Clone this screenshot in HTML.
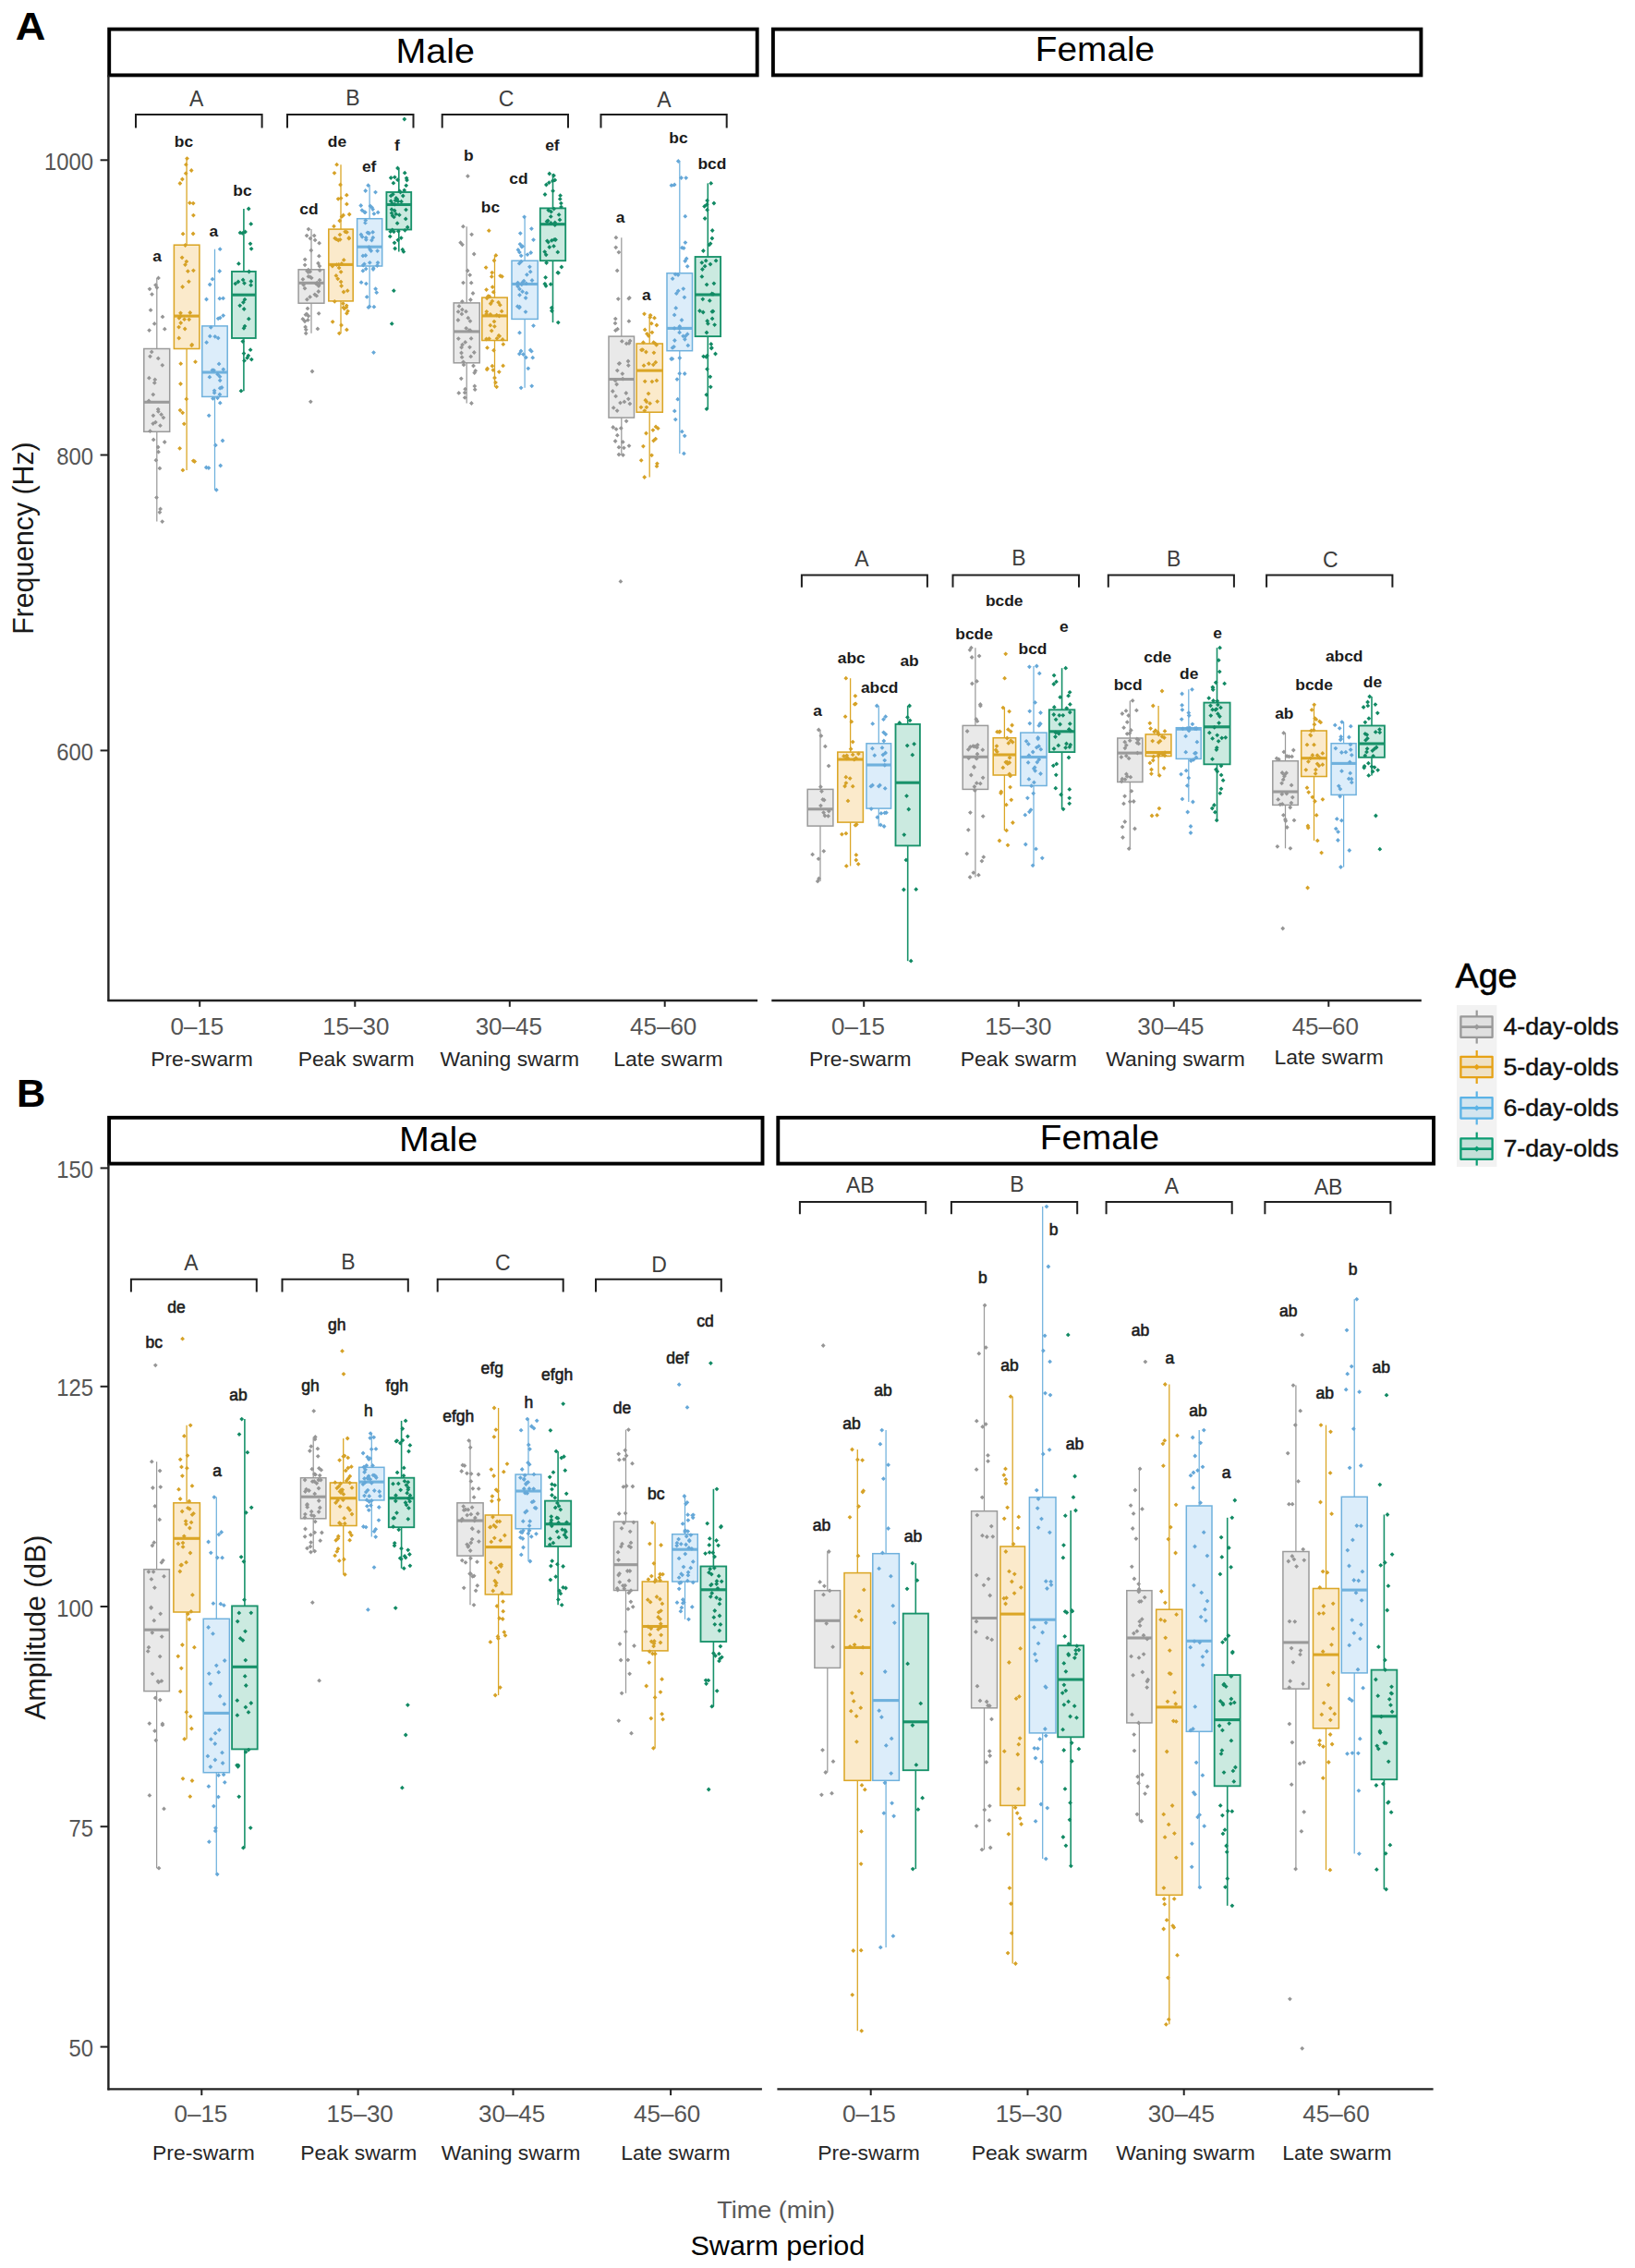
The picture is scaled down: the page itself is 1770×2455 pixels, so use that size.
<!DOCTYPE html>
<html lang="en">
<head>
<meta charset="utf-8">
<title>Flight tone frequency and amplitude by swarm period</title>
<style>
html,body{margin:0;padding:0;background:#fff;}
body{width:1770px;height:2455px;overflow:hidden;}
svg{display:block;font-family:'Liberation Sans', sans-serif;}
</style>
</head>
<body>
<svg width="1770" height="2455" viewBox="0 0 1770 2455">
<rect width="1770" height="2455" fill="#ffffff"/>
<rect x="118.2" y="31.6" width="701.5" height="49.8" fill="#fff" stroke="#000" stroke-width="3.9"/>
<text x="471.2" y="67.7" font-size="37.8" text-anchor="middle" fill="#000" textLength="85.4" lengthAdjust="spacingAndGlyphs">Male</text>
<line x1="116.6" y1="1083" x2="820.1" y2="1083" stroke="#222222" stroke-width="2.3"/>
<line x1="117.4" y1="81.4" x2="117.4" y2="1084.1" stroke="#222222" stroke-width="2.4"/>
<rect x="836.9" y="31.6" width="701.5" height="49.8" fill="#fff" stroke="#000" stroke-width="3.9"/>
<text x="1185.5" y="65.5" font-size="37.8" text-anchor="middle" fill="#000" textLength="129.3" lengthAdjust="spacingAndGlyphs">Female</text>
<line x1="835.3" y1="1083" x2="1538.8" y2="1083" stroke="#222222" stroke-width="2.3"/>
<rect x="118.1" y="1209.8" width="707.4" height="49.8" fill="#fff" stroke="#000" stroke-width="3.9"/>
<text x="474.6" y="1245.9" font-size="37.8" text-anchor="middle" fill="#000" textLength="85.4" lengthAdjust="spacingAndGlyphs">Male</text>
<line x1="116.5" y1="2261.3" x2="824.9" y2="2261.3" stroke="#222222" stroke-width="2.3"/>
<line x1="117.4" y1="1259.6" x2="117.4" y2="2262.4" stroke="#222222" stroke-width="2.4"/>
<rect x="842.3" y="1209.8" width="709.7" height="49.8" fill="#fff" stroke="#000" stroke-width="3.9"/>
<text x="1190.4" y="1243.7" font-size="37.8" text-anchor="middle" fill="#000" textLength="129.3" lengthAdjust="spacingAndGlyphs">Female</text>
<line x1="841.4" y1="2261.3" x2="1551.6" y2="2261.3" stroke="#222222" stroke-width="2.3"/>
<line x1="108.6" y1="173.3" x2="117" y2="173.3" stroke="#222222" stroke-width="2"/>
<text x="101" y="183.9" font-size="26.5" text-anchor="end" fill="#555555" textLength="53.1" lengthAdjust="spacingAndGlyphs">1000</text>
<line x1="108.6" y1="492.5" x2="117" y2="492.5" stroke="#222222" stroke-width="2"/>
<text x="101" y="503.1" font-size="26.5" text-anchor="end" fill="#555555" textLength="39.8" lengthAdjust="spacingAndGlyphs">800</text>
<line x1="108.6" y1="812.4" x2="117" y2="812.4" stroke="#222222" stroke-width="2"/>
<text x="101" y="823" font-size="26.5" text-anchor="end" fill="#555555" textLength="39.8" lengthAdjust="spacingAndGlyphs">600</text>
<line x1="108.6" y1="1264.4" x2="117" y2="1264.4" stroke="#222222" stroke-width="2"/>
<text x="101" y="1275" font-size="26.5" text-anchor="end" fill="#555555" textLength="39.8" lengthAdjust="spacingAndGlyphs">150</text>
<line x1="108.6" y1="1500.8" x2="117" y2="1500.8" stroke="#222222" stroke-width="2"/>
<text x="101" y="1511.4" font-size="26.5" text-anchor="end" fill="#555555" textLength="39.8" lengthAdjust="spacingAndGlyphs">125</text>
<line x1="108.6" y1="1739" x2="117" y2="1739" stroke="#222222" stroke-width="2"/>
<text x="101" y="1749.6" font-size="26.5" text-anchor="end" fill="#555555" textLength="39.8" lengthAdjust="spacingAndGlyphs">100</text>
<line x1="108.6" y1="1977.2" x2="117" y2="1977.2" stroke="#222222" stroke-width="2"/>
<text x="101" y="1987.8" font-size="26.5" text-anchor="end" fill="#555555" textLength="26.5" lengthAdjust="spacingAndGlyphs">75</text>
<line x1="108.6" y1="2215.6" x2="117" y2="2215.6" stroke="#222222" stroke-width="2"/>
<text x="101" y="2226.2" font-size="26.5" text-anchor="end" fill="#555555" textLength="26.5" lengthAdjust="spacingAndGlyphs">50</text>
<line x1="216.2" y1="1083" x2="216.2" y2="1089.8" stroke="#222222" stroke-width="2"/>
<line x1="384.3" y1="1083" x2="384.3" y2="1089.8" stroke="#222222" stroke-width="2"/>
<line x1="551.8" y1="1083" x2="551.8" y2="1089.8" stroke="#222222" stroke-width="2"/>
<line x1="719.7" y1="1083" x2="719.7" y2="1089.8" stroke="#222222" stroke-width="2"/>
<text x="213.4" y="1120.3" font-size="26" text-anchor="middle" fill="#555555">0–15</text>
<text x="385.3" y="1120.3" font-size="26" text-anchor="middle" fill="#555555">15–30</text>
<text x="550.8" y="1120.3" font-size="26" text-anchor="middle" fill="#555555">30–45</text>
<text x="718.2" y="1120.3" font-size="26" text-anchor="middle" fill="#555555">45–60</text>
<text x="218.5" y="1154" font-size="22.9" text-anchor="middle" fill="#262626">Pre-swarm</text>
<text x="385.6" y="1154" font-size="22.9" text-anchor="middle" fill="#262626">Peak swarm</text>
<text x="551.8" y="1154" font-size="22.9" text-anchor="middle" fill="#262626">Waning swarm</text>
<text x="723.5" y="1154" font-size="22.9" text-anchor="middle" fill="#262626">Late swarm</text>
<line x1="935.2" y1="1083" x2="935.2" y2="1089.8" stroke="#222222" stroke-width="2"/>
<line x1="1102.8" y1="1083" x2="1102.8" y2="1089.8" stroke="#222222" stroke-width="2"/>
<line x1="1270.8" y1="1083" x2="1270.8" y2="1089.8" stroke="#222222" stroke-width="2"/>
<line x1="1438.3" y1="1083" x2="1438.3" y2="1089.8" stroke="#222222" stroke-width="2"/>
<text x="929" y="1120.3" font-size="26" text-anchor="middle" fill="#555555">0–15</text>
<text x="1102.3" y="1120.3" font-size="26" text-anchor="middle" fill="#555555">15–30</text>
<text x="1267.4" y="1120.3" font-size="26" text-anchor="middle" fill="#555555">30–45</text>
<text x="1434.8" y="1120.3" font-size="26" text-anchor="middle" fill="#555555">45–60</text>
<text x="931.3" y="1154" font-size="22.9" text-anchor="middle" fill="#262626">Pre-swarm</text>
<text x="1102.8" y="1154" font-size="22.9" text-anchor="middle" fill="#262626">Peak swarm</text>
<text x="1272.5" y="1154" font-size="22.9" text-anchor="middle" fill="#262626">Waning swarm</text>
<text x="1438.7" y="1151.7" font-size="22.9" text-anchor="middle" fill="#262626">Late swarm</text>
<line x1="218.3" y1="2261.3" x2="218.3" y2="2268.1" stroke="#222222" stroke-width="2"/>
<line x1="387.6" y1="2261.3" x2="387.6" y2="2268.1" stroke="#222222" stroke-width="2"/>
<line x1="555.5" y1="2261.3" x2="555.5" y2="2268.1" stroke="#222222" stroke-width="2"/>
<line x1="726.1" y1="2261.3" x2="726.1" y2="2268.1" stroke="#222222" stroke-width="2"/>
<text x="217.4" y="2296.5" font-size="26" text-anchor="middle" fill="#555555">0–15</text>
<text x="389.7" y="2296.5" font-size="26" text-anchor="middle" fill="#555555">15–30</text>
<text x="554.1" y="2296.5" font-size="26" text-anchor="middle" fill="#555555">30–45</text>
<text x="722.2" y="2296.5" font-size="26" text-anchor="middle" fill="#555555">45–60</text>
<text x="220.4" y="2338.3" font-size="22.9" text-anchor="middle" fill="#262626">Pre-swarm</text>
<text x="388.3" y="2338.3" font-size="22.9" text-anchor="middle" fill="#262626">Peak swarm</text>
<text x="553" y="2338.3" font-size="22.9" text-anchor="middle" fill="#262626">Waning swarm</text>
<text x="731.4" y="2338.3" font-size="22.9" text-anchor="middle" fill="#262626">Late swarm</text>
<line x1="942.7" y1="2261.3" x2="942.7" y2="2268.1" stroke="#222222" stroke-width="2"/>
<line x1="1112.5" y1="2261.3" x2="1112.5" y2="2268.1" stroke="#222222" stroke-width="2"/>
<line x1="1281.7" y1="2261.3" x2="1281.7" y2="2268.1" stroke="#222222" stroke-width="2"/>
<line x1="1449.3" y1="2261.3" x2="1449.3" y2="2268.1" stroke="#222222" stroke-width="2"/>
<text x="940.9" y="2296.5" font-size="26" text-anchor="middle" fill="#555555">0–15</text>
<text x="1113.8" y="2296.5" font-size="26" text-anchor="middle" fill="#555555">15–30</text>
<text x="1278.8" y="2296.5" font-size="26" text-anchor="middle" fill="#555555">30–45</text>
<text x="1446.5" y="2296.5" font-size="26" text-anchor="middle" fill="#555555">45–60</text>
<text x="940.6" y="2338.3" font-size="22.9" text-anchor="middle" fill="#262626">Pre-swarm</text>
<text x="1114.6" y="2338.3" font-size="22.9" text-anchor="middle" fill="#262626">Peak swarm</text>
<text x="1283.5" y="2338.3" font-size="22.9" text-anchor="middle" fill="#262626">Waning swarm</text>
<text x="1447.5" y="2338.3" font-size="22.9" text-anchor="middle" fill="#262626">Late swarm</text>
<text x="35.8" y="582.6" font-size="31.9" text-anchor="middle" fill="#1a1a1a" textLength="208.5" lengthAdjust="spacingAndGlyphs" transform="rotate(-90 35.8 582.6)">Frequency (Hz)</text>
<text x="49.4" y="1761.6" font-size="31.9" text-anchor="middle" fill="#1a1a1a" textLength="200" lengthAdjust="spacingAndGlyphs" transform="rotate(-90 49.4 1761.6)">Amplitude (dB)</text>
<text x="840.2" y="2401.2" font-size="26" text-anchor="middle" fill="#595959" textLength="127.8" lengthAdjust="spacingAndGlyphs">Time (min)</text>
<text x="841.9" y="2441.4" font-size="30.2" text-anchor="middle" fill="#000" textLength="189" lengthAdjust="spacingAndGlyphs">Swarm period</text>
<text x="16.7" y="43.4" font-size="43" text-anchor="start" fill="#000" font-weight="bold" textLength="32.6" lengthAdjust="spacingAndGlyphs">A</text>
<text x="17.9" y="1197.8" font-size="43.4" text-anchor="start" fill="#000" font-weight="bold">B</text>
<path d="M147 138.4V124H283.6V138.4" fill="none" stroke="#1f1f1f" stroke-width="2"/>
<text x="212.7" y="115.4" font-size="23" text-anchor="middle" fill="#3d3d3d">A</text>
<path d="M311 138.4V124H447.5V138.4" fill="none" stroke="#1f1f1f" stroke-width="2"/>
<text x="382" y="114.4" font-size="23" text-anchor="middle" fill="#3d3d3d">B</text>
<path d="M478.7 138.4V124H615V138.4" fill="none" stroke="#1f1f1f" stroke-width="2"/>
<text x="548" y="115.4" font-size="23" text-anchor="middle" fill="#3d3d3d">C</text>
<path d="M650.5 138.4V124H786.7V138.4" fill="none" stroke="#1f1f1f" stroke-width="2"/>
<text x="719" y="116.1" font-size="23" text-anchor="middle" fill="#3d3d3d">A</text>
<path d="M867.9 635.8V622.6H1003.9V635.8" fill="none" stroke="#1f1f1f" stroke-width="2"/>
<text x="933" y="613.1" font-size="23" text-anchor="middle" fill="#3d3d3d">A</text>
<path d="M1031.5 635.8V622.6H1168V635.8" fill="none" stroke="#1f1f1f" stroke-width="2"/>
<text x="1103" y="611.6" font-size="23" text-anchor="middle" fill="#3d3d3d">B</text>
<path d="M1199.8 635.8V622.6H1335.9V635.8" fill="none" stroke="#1f1f1f" stroke-width="2"/>
<text x="1270.7" y="612.6" font-size="23" text-anchor="middle" fill="#3d3d3d">B</text>
<path d="M1371.1 635.8V622.6H1507.4V635.8" fill="none" stroke="#1f1f1f" stroke-width="2"/>
<text x="1440.3" y="614.4" font-size="23" text-anchor="middle" fill="#3d3d3d">C</text>
<path d="M141.9 1398.5V1384.7H277.8V1398.5" fill="none" stroke="#1f1f1f" stroke-width="2"/>
<text x="206.9" y="1375.1" font-size="23" text-anchor="middle" fill="#3d3d3d">A</text>
<path d="M305.5 1398.5V1384.7H441.8V1398.5" fill="none" stroke="#1f1f1f" stroke-width="2"/>
<text x="376.9" y="1374.1" font-size="23" text-anchor="middle" fill="#3d3d3d">B</text>
<path d="M473.7 1398.5V1384.7H609.7V1398.5" fill="none" stroke="#1f1f1f" stroke-width="2"/>
<text x="544.3" y="1375.1" font-size="23" text-anchor="middle" fill="#3d3d3d">C</text>
<path d="M645 1398.5V1384.7H780.8V1398.5" fill="none" stroke="#1f1f1f" stroke-width="2"/>
<text x="713.6" y="1376.6" font-size="23" text-anchor="middle" fill="#3d3d3d">D</text>
<path d="M865.9 1314.3V1301.1H1002.2V1314.3" fill="none" stroke="#1f1f1f" stroke-width="2"/>
<text x="931.3" y="1291.3" font-size="23" text-anchor="middle" fill="#3d3d3d">AB</text>
<path d="M1029.9 1314.3V1301.1H1166.2V1314.3" fill="none" stroke="#1f1f1f" stroke-width="2"/>
<text x="1100.8" y="1290.1" font-size="23" text-anchor="middle" fill="#3d3d3d">B</text>
<path d="M1197.6 1314.3V1301.1H1333.7V1314.3" fill="none" stroke="#1f1f1f" stroke-width="2"/>
<text x="1268.5" y="1291.8" font-size="23" text-anchor="middle" fill="#3d3d3d">A</text>
<path d="M1369.4 1314.3V1301.1H1505.4V1314.3" fill="none" stroke="#1f1f1f" stroke-width="2"/>
<text x="1438.1" y="1292.6" font-size="23" text-anchor="middle" fill="#3d3d3d">AB</text>
<line x1="169.8" y1="300.9" x2="169.8" y2="377.5" stroke="#9a9a9a" stroke-width="1.25"/>
<line x1="169.8" y1="467.3" x2="169.8" y2="564.6" stroke="#9a9a9a" stroke-width="1.25"/>
<rect x="155.8" y="377.5" width="27.9" height="89.8" fill="#e9e9e9" stroke="#9a9a9a" stroke-width="1.5"/>
<line x1="155.8" y1="435.3" x2="183.7" y2="435.3" stroke="#9a9a9a" stroke-width="3.1"/>
<path d="M163.1 333.3l2.4 2.4l-2.4 2.4l-2.4 -2.4zM161.6 355.2l2.4 2.4l-2.4 2.4l-2.4 -2.4zM167.2 348l2.4 2.4l-2.4 2.4l-2.4 -2.4zM169.9 308.9l2.4 2.4l-2.4 2.4l-2.4 -2.4zM168.5 306.2l2.4 2.4l-2.4 2.4l-2.4 -2.4zM162 310.4l2.4 2.4l-2.4 2.4l-2.4 -2.4zM176 340.5l2.4 2.4l-2.4 2.4l-2.4 -2.4zM164.5 316.2l2.4 2.4l-2.4 2.4l-2.4 -2.4zM178.3 353.8l2.4 2.4l-2.4 2.4l-2.4 -2.4zM167.8 408.5l2.4 2.4l-2.4 2.4l-2.4 -2.4zM161.1 431.5l2.4 2.4l-2.4 2.4l-2.4 -2.4zM165.8 424.7l2.4 2.4l-2.4 2.4l-2.4 -2.4zM162.5 383.4l2.4 2.4l-2.4 2.4l-2.4 -2.4zM175.8 392.9l2.4 2.4l-2.4 2.4l-2.4 -2.4zM171.3 385.5l2.4 2.4l-2.4 2.4l-2.4 -2.4zM167.3 412l2.4 2.4l-2.4 2.4l-2.4 -2.4zM161.4 406.8l2.4 2.4l-2.4 2.4l-2.4 -2.4zM164.2 378.5l2.4 2.4l-2.4 2.4l-2.4 -2.4zM168.4 454.7l2.4 2.4l-2.4 2.4l-2.4 -2.4zM171.4 443l2.4 2.4l-2.4 2.4l-2.4 -2.4zM165.9 447.4l2.4 2.4l-2.4 2.4l-2.4 -2.4zM173.5 458.3l2.4 2.4l-2.4 2.4l-2.4 -2.4zM171.2 440.7l2.4 2.4l-2.4 2.4l-2.4 -2.4zM176.9 449.7l2.4 2.4l-2.4 2.4l-2.4 -2.4zM165.7 456.2l2.4 2.4l-2.4 2.4l-2.4 -2.4zM162.5 464.3l2.4 2.4l-2.4 2.4l-2.4 -2.4zM174.6 446.3l2.4 2.4l-2.4 2.4l-2.4 -2.4zM169.5 536.2l2.4 2.4l-2.4 2.4l-2.4 -2.4zM172.9 552.1l2.4 2.4l-2.4 2.4l-2.4 -2.4zM171.1 481.6l2.4 2.4l-2.4 2.4l-2.4 -2.4zM166.2 473.5l2.4 2.4l-2.4 2.4l-2.4 -2.4zM171.5 486.8l2.4 2.4l-2.4 2.4l-2.4 -2.4zM168.9 495.8l2.4 2.4l-2.4 2.4l-2.4 -2.4zM178.2 476.1l2.4 2.4l-2.4 2.4l-2.4 -2.4zM172.9 504.5l2.4 2.4l-2.4 2.4l-2.4 -2.4zM173.6 548.5l2.4 2.4l-2.4 2.4l-2.4 -2.4zM171.5 298.5l2.4 2.4l-2.4 2.4l-2.4 -2.4zM175.7 562.2l2.4 2.4l-2.4 2.4l-2.4 -2.4z" fill="#969696"/>
<line x1="202.1" y1="171.6" x2="202.1" y2="265.2" stroke="#DBA626" stroke-width="1.3"/>
<line x1="202.1" y1="377.5" x2="202.1" y2="508.9" stroke="#DBA626" stroke-width="1.3"/>
<rect x="188.4" y="265.2" width="27.5" height="112.3" fill="#fbeacb" stroke="#DBA626" stroke-width="1.55"/>
<line x1="188.4" y1="342.1" x2="215.9" y2="342.1" stroke="#DBA626" stroke-width="3.1"/>
<path d="M198.1 250.8l2.4 2.4l-2.4 2.4l-2.4 -2.4zM205.4 217.3l2.4 2.4l-2.4 2.4l-2.4 -2.4zM201.4 175.8l2.4 2.4l-2.4 2.4l-2.4 -2.4zM194.9 196.1l2.4 2.4l-2.4 2.4l-2.4 -2.4zM207.2 182.1l2.4 2.4l-2.4 2.4l-2.4 -2.4zM197.4 191.6l2.4 2.4l-2.4 2.4l-2.4 -2.4zM209.2 217.7l2.4 2.4l-2.4 2.4l-2.4 -2.4zM201.2 185.3l2.4 2.4l-2.4 2.4l-2.4 -2.4zM209.4 230.7l2.4 2.4l-2.4 2.4l-2.4 -2.4zM209.1 250.6l2.4 2.4l-2.4 2.4l-2.4 -2.4zM200.5 284.2l2.4 2.4l-2.4 2.4l-2.4 -2.4zM209.4 290.4l2.4 2.4l-2.4 2.4l-2.4 -2.4zM195.5 336.4l2.4 2.4l-2.4 2.4l-2.4 -2.4zM197.1 276.4l2.4 2.4l-2.4 2.4l-2.4 -2.4zM201.9 280.7l2.4 2.4l-2.4 2.4l-2.4 -2.4zM197.6 308.1l2.4 2.4l-2.4 2.4l-2.4 -2.4zM200.6 263.1l2.4 2.4l-2.4 2.4l-2.4 -2.4zM203.4 291.2l2.4 2.4l-2.4 2.4l-2.4 -2.4zM205.8 336.1l2.4 2.4l-2.4 2.4l-2.4 -2.4zM204.4 302.4l2.4 2.4l-2.4 2.4l-2.4 -2.4zM193.7 363.6l2.4 2.4l-2.4 2.4l-2.4 -2.4zM207.5 371.5l2.4 2.4l-2.4 2.4l-2.4 -2.4zM207.8 370.7l2.4 2.4l-2.4 2.4l-2.4 -2.4zM200.2 353.6l2.4 2.4l-2.4 2.4l-2.4 -2.4zM204.7 343.4l2.4 2.4l-2.4 2.4l-2.4 -2.4zM193.9 341.9l2.4 2.4l-2.4 2.4l-2.4 -2.4zM195.7 347.1l2.4 2.4l-2.4 2.4l-2.4 -2.4zM193.6 351.7l2.4 2.4l-2.4 2.4l-2.4 -2.4zM195.5 339.7l2.4 2.4l-2.4 2.4l-2.4 -2.4zM199.6 343.3l2.4 2.4l-2.4 2.4l-2.4 -2.4zM209.3 496.4l2.4 2.4l-2.4 2.4l-2.4 -2.4zM195.5 413.1l2.4 2.4l-2.4 2.4l-2.4 -2.4zM199.3 456.4l2.4 2.4l-2.4 2.4l-2.4 -2.4zM195 441.7l2.4 2.4l-2.4 2.4l-2.4 -2.4zM211.5 389.3l2.4 2.4l-2.4 2.4l-2.4 -2.4zM201.8 429.5l2.4 2.4l-2.4 2.4l-2.4 -2.4zM194.6 482.9l2.4 2.4l-2.4 2.4l-2.4 -2.4zM197.7 444.4l2.4 2.4l-2.4 2.4l-2.4 -2.4zM195.7 391.3l2.4 2.4l-2.4 2.4l-2.4 -2.4zM210.7 497.1l2.4 2.4l-2.4 2.4l-2.4 -2.4zM202.5 169.2l2.4 2.4l-2.4 2.4l-2.4 -2.4zM197.9 506.5l2.4 2.4l-2.4 2.4l-2.4 -2.4z" fill="#D6A227"/>
<line x1="232.5" y1="269.7" x2="232.5" y2="352.9" stroke="#6FB1DD" stroke-width="1.25"/>
<line x1="232.5" y1="429.4" x2="232.5" y2="530.3" stroke="#6FB1DD" stroke-width="1.25"/>
<rect x="218.8" y="352.9" width="27.4" height="76.5" fill="#dcedfa" stroke="#6FB1DD" stroke-width="1.5"/>
<line x1="218.8" y1="403" x2="246.2" y2="403" stroke="#6FB1DD" stroke-width="3.1"/>
<path d="M223.5 321.6l2.4 2.4l-2.4 2.4l-2.4 -2.4zM241.6 320.5l2.4 2.4l-2.4 2.4l-2.4 -2.4zM236.2 342.4l2.4 2.4l-2.4 2.4l-2.4 -2.4zM230 299.8l2.4 2.4l-2.4 2.4l-2.4 -2.4zM237.7 291.1l2.4 2.4l-2.4 2.4l-2.4 -2.4zM237.8 320.8l2.4 2.4l-2.4 2.4l-2.4 -2.4zM227.2 305.6l2.4 2.4l-2.4 2.4l-2.4 -2.4zM241.7 339.2l2.4 2.4l-2.4 2.4l-2.4 -2.4zM238.3 341.7l2.4 2.4l-2.4 2.4l-2.4 -2.4zM237.1 391.5l2.4 2.4l-2.4 2.4l-2.4 -2.4zM232.8 361.9l2.4 2.4l-2.4 2.4l-2.4 -2.4zM223.6 368.3l2.4 2.4l-2.4 2.4l-2.4 -2.4zM228.3 351.9l2.4 2.4l-2.4 2.4l-2.4 -2.4zM236.2 363.5l2.4 2.4l-2.4 2.4l-2.4 -2.4zM231.5 398.4l2.4 2.4l-2.4 2.4l-2.4 -2.4zM241.8 397.4l2.4 2.4l-2.4 2.4l-2.4 -2.4zM229.9 398.3l2.4 2.4l-2.4 2.4l-2.4 -2.4zM227.3 361.5l2.4 2.4l-2.4 2.4l-2.4 -2.4zM226.9 405.8l2.4 2.4l-2.4 2.4l-2.4 -2.4zM240.1 417.1l2.4 2.4l-2.4 2.4l-2.4 -2.4zM232.1 422.8l2.4 2.4l-2.4 2.4l-2.4 -2.4zM238.2 417.8l2.4 2.4l-2.4 2.4l-2.4 -2.4zM235.6 402.8l2.4 2.4l-2.4 2.4l-2.4 -2.4zM237.9 424.6l2.4 2.4l-2.4 2.4l-2.4 -2.4zM232.1 420.4l2.4 2.4l-2.4 2.4l-2.4 -2.4zM238 405.3l2.4 2.4l-2.4 2.4l-2.4 -2.4zM238.2 409.4l2.4 2.4l-2.4 2.4l-2.4 -2.4zM230.5 429l2.4 2.4l-2.4 2.4l-2.4 -2.4zM241 474.6l2.4 2.4l-2.4 2.4l-2.4 -2.4zM226.2 447.4l2.4 2.4l-2.4 2.4l-2.4 -2.4zM225.9 504.1l2.4 2.4l-2.4 2.4l-2.4 -2.4zM238.3 433.8l2.4 2.4l-2.4 2.4l-2.4 -2.4zM238.7 501.6l2.4 2.4l-2.4 2.4l-2.4 -2.4zM235.5 428.4l2.4 2.4l-2.4 2.4l-2.4 -2.4zM233.4 479.5l2.4 2.4l-2.4 2.4l-2.4 -2.4zM223.3 503.6l2.4 2.4l-2.4 2.4l-2.4 -2.4zM238.2 267.3l2.4 2.4l-2.4 2.4l-2.4 -2.4zM234.3 527.9l2.4 2.4l-2.4 2.4l-2.4 -2.4z" fill="#66A8D8"/>
<line x1="263.9" y1="226" x2="263.9" y2="293.9" stroke="#18926A" stroke-width="1.6"/>
<line x1="263.9" y1="366" x2="263.9" y2="423.2" stroke="#18926A" stroke-width="1.6"/>
<rect x="251" y="293.9" width="25.8" height="72.1" fill="#cbeae0" stroke="#18926A" stroke-width="1.85"/>
<line x1="251" y1="319.2" x2="276.8" y2="319.2" stroke="#18926A" stroke-width="3.1"/>
<path d="M272.1 266.9l2.4 2.4l-2.4 2.4l-2.4 -2.4zM271 261.4l2.4 2.4l-2.4 2.4l-2.4 -2.4zM258.4 283l2.4 2.4l-2.4 2.4l-2.4 -2.4zM260 249.5l2.4 2.4l-2.4 2.4l-2.4 -2.4zM265.5 248.6l2.4 2.4l-2.4 2.4l-2.4 -2.4zM262.4 250l2.4 2.4l-2.4 2.4l-2.4 -2.4zM271.7 240l2.4 2.4l-2.4 2.4l-2.4 -2.4zM263.1 300.5l2.4 2.4l-2.4 2.4l-2.4 -2.4zM271.6 306.3l2.4 2.4l-2.4 2.4l-2.4 -2.4zM271.8 302.1l2.4 2.4l-2.4 2.4l-2.4 -2.4zM264.5 304.2l2.4 2.4l-2.4 2.4l-2.4 -2.4zM254.8 304.7l2.4 2.4l-2.4 2.4l-2.4 -2.4zM257.9 302.6l2.4 2.4l-2.4 2.4l-2.4 -2.4zM269.6 291.6l2.4 2.4l-2.4 2.4l-2.4 -2.4zM263.4 324.9l2.4 2.4l-2.4 2.4l-2.4 -2.4zM265 350.7l2.4 2.4l-2.4 2.4l-2.4 -2.4zM264.2 332.1l2.4 2.4l-2.4 2.4l-2.4 -2.4zM269.3 342.8l2.4 2.4l-2.4 2.4l-2.4 -2.4zM265 321.8l2.4 2.4l-2.4 2.4l-2.4 -2.4zM259.7 328.4l2.4 2.4l-2.4 2.4l-2.4 -2.4zM264 352.9l2.4 2.4l-2.4 2.4l-2.4 -2.4zM268.8 382.6l2.4 2.4l-2.4 2.4l-2.4 -2.4zM262.8 367.2l2.4 2.4l-2.4 2.4l-2.4 -2.4zM264 380.2l2.4 2.4l-2.4 2.4l-2.4 -2.4zM267.6 385l2.4 2.4l-2.4 2.4l-2.4 -2.4zM264.5 388l2.4 2.4l-2.4 2.4l-2.4 -2.4zM272.3 386.7l2.4 2.4l-2.4 2.4l-2.4 -2.4zM271.1 376.3l2.4 2.4l-2.4 2.4l-2.4 -2.4zM269.2 223.6l2.4 2.4l-2.4 2.4l-2.4 -2.4zM261 420.8l2.4 2.4l-2.4 2.4l-2.4 -2.4z" fill="#128A64"/>
<line x1="337" y1="248.1" x2="337" y2="291.8" stroke="#9a9a9a" stroke-width="1.25"/>
<line x1="337" y1="328.2" x2="337" y2="360.8" stroke="#9a9a9a" stroke-width="1.25"/>
<rect x="323.1" y="291.8" width="27.8" height="36.4" fill="#e9e9e9" stroke="#9a9a9a" stroke-width="1.5"/>
<line x1="323.1" y1="306.3" x2="350.9" y2="306.3" stroke="#9a9a9a" stroke-width="3.1"/>
<path d="M345.4 274.8l2.4 2.4l-2.4 2.4l-2.4 -2.4zM330.1 284.4l2.4 2.4l-2.4 2.4l-2.4 -2.4zM335.9 255.7l2.4 2.4l-2.4 2.4l-2.4 -2.4zM332.1 252.7l2.4 2.4l-2.4 2.4l-2.4 -2.4zM340.2 252.7l2.4 2.4l-2.4 2.4l-2.4 -2.4zM344.5 282.6l2.4 2.4l-2.4 2.4l-2.4 -2.4zM341.1 257.5l2.4 2.4l-2.4 2.4l-2.4 -2.4zM330.2 278.4l2.4 2.4l-2.4 2.4l-2.4 -2.4zM345.9 285.7l2.4 2.4l-2.4 2.4l-2.4 -2.4zM345.6 260.8l2.4 2.4l-2.4 2.4l-2.4 -2.4zM336.8 268.6l2.4 2.4l-2.4 2.4l-2.4 -2.4zM343.3 303.8l2.4 2.4l-2.4 2.4l-2.4 -2.4zM335.7 291.7l2.4 2.4l-2.4 2.4l-2.4 -2.4zM333.9 296.9l2.4 2.4l-2.4 2.4l-2.4 -2.4zM333.6 292.2l2.4 2.4l-2.4 2.4l-2.4 -2.4zM327.9 299.9l2.4 2.4l-2.4 2.4l-2.4 -2.4zM335.9 297.4l2.4 2.4l-2.4 2.4l-2.4 -2.4zM333.8 289.7l2.4 2.4l-2.4 2.4l-2.4 -2.4zM337.2 298.4l2.4 2.4l-2.4 2.4l-2.4 -2.4zM346.2 290.3l2.4 2.4l-2.4 2.4l-2.4 -2.4zM346 300.8l2.4 2.4l-2.4 2.4l-2.4 -2.4zM332.5 290.9l2.4 2.4l-2.4 2.4l-2.4 -2.4zM342.3 304.8l2.4 2.4l-2.4 2.4l-2.4 -2.4zM330 309.8l2.4 2.4l-2.4 2.4l-2.4 -2.4zM344.8 313.1l2.4 2.4l-2.4 2.4l-2.4 -2.4zM332.4 321.8l2.4 2.4l-2.4 2.4l-2.4 -2.4zM345 307.2l2.4 2.4l-2.4 2.4l-2.4 -2.4zM340.8 316.4l2.4 2.4l-2.4 2.4l-2.4 -2.4zM328.6 305.9l2.4 2.4l-2.4 2.4l-2.4 -2.4zM335.6 319l2.4 2.4l-2.4 2.4l-2.4 -2.4zM345.3 305.5l2.4 2.4l-2.4 2.4l-2.4 -2.4zM342.7 317.8l2.4 2.4l-2.4 2.4l-2.4 -2.4zM343.8 305.7l2.4 2.4l-2.4 2.4l-2.4 -2.4zM343.9 353.5l2.4 2.4l-2.4 2.4l-2.4 -2.4zM333.9 339.6l2.4 2.4l-2.4 2.4l-2.4 -2.4zM345.1 336.9l2.4 2.4l-2.4 2.4l-2.4 -2.4zM330 345.4l2.4 2.4l-2.4 2.4l-2.4 -2.4zM332 337.6l2.4 2.4l-2.4 2.4l-2.4 -2.4zM330.6 351.5l2.4 2.4l-2.4 2.4l-2.4 -2.4zM331.3 354.4l2.4 2.4l-2.4 2.4l-2.4 -2.4zM333.3 344l2.4 2.4l-2.4 2.4l-2.4 -2.4zM333 331.5l2.4 2.4l-2.4 2.4l-2.4 -2.4zM330.9 338.3l2.4 2.4l-2.4 2.4l-2.4 -2.4zM327.8 342.9l2.4 2.4l-2.4 2.4l-2.4 -2.4zM334 245.7l2.4 2.4l-2.4 2.4l-2.4 -2.4zM331.2 358.4l2.4 2.4l-2.4 2.4l-2.4 -2.4zM338 399.6l2.4 2.4l-2.4 2.4l-2.4 -2.4zM336.3 432.4l2.4 2.4l-2.4 2.4l-2.4 -2.4z" fill="#969696"/>
<line x1="369" y1="178.2" x2="369" y2="248.1" stroke="#DBA626" stroke-width="1.3"/>
<line x1="369" y1="325.9" x2="369" y2="360.8" stroke="#DBA626" stroke-width="1.3"/>
<rect x="355.8" y="248.1" width="26.4" height="77.8" fill="#fbeacb" stroke="#DBA626" stroke-width="1.55"/>
<line x1="355.8" y1="286.4" x2="382.2" y2="286.4" stroke="#DBA626" stroke-width="3.1"/>
<path d="M370 232l2.4 2.4l-2.4 2.4l-2.4 -2.4zM368.5 197.6l2.4 2.4l-2.4 2.4l-2.4 -2.4zM361.5 242.5l2.4 2.4l-2.4 2.4l-2.4 -2.4zM367.7 236.6l2.4 2.4l-2.4 2.4l-2.4 -2.4zM375.4 218.5l2.4 2.4l-2.4 2.4l-2.4 -2.4zM369.1 212.2l2.4 2.4l-2.4 2.4l-2.4 -2.4zM378.2 229.6l2.4 2.4l-2.4 2.4l-2.4 -2.4zM375.3 208.8l2.4 2.4l-2.4 2.4l-2.4 -2.4zM371.6 230.6l2.4 2.4l-2.4 2.4l-2.4 -2.4zM366.1 212.9l2.4 2.4l-2.4 2.4l-2.4 -2.4zM362 184.9l2.4 2.4l-2.4 2.4l-2.4 -2.4zM373.6 248.4l2.4 2.4l-2.4 2.4l-2.4 -2.4zM362.6 255.5l2.4 2.4l-2.4 2.4l-2.4 -2.4zM375.5 248.9l2.4 2.4l-2.4 2.4l-2.4 -2.4zM372.2 279l2.4 2.4l-2.4 2.4l-2.4 -2.4zM364.1 256.5l2.4 2.4l-2.4 2.4l-2.4 -2.4zM368.2 256.9l2.4 2.4l-2.4 2.4l-2.4 -2.4zM368 251.7l2.4 2.4l-2.4 2.4l-2.4 -2.4zM377.8 255.8l2.4 2.4l-2.4 2.4l-2.4 -2.4zM369.9 283l2.4 2.4l-2.4 2.4l-2.4 -2.4zM377.8 255.1l2.4 2.4l-2.4 2.4l-2.4 -2.4zM366.3 257.6l2.4 2.4l-2.4 2.4l-2.4 -2.4zM366.8 284l2.4 2.4l-2.4 2.4l-2.4 -2.4zM369.1 302.7l2.4 2.4l-2.4 2.4l-2.4 -2.4zM369.1 291.9l2.4 2.4l-2.4 2.4l-2.4 -2.4zM364.5 284.2l2.4 2.4l-2.4 2.4l-2.4 -2.4zM367.1 287.5l2.4 2.4l-2.4 2.4l-2.4 -2.4zM359.9 285.6l2.4 2.4l-2.4 2.4l-2.4 -2.4zM363.9 296l2.4 2.4l-2.4 2.4l-2.4 -2.4zM369.6 307.1l2.4 2.4l-2.4 2.4l-2.4 -2.4zM372 313.6l2.4 2.4l-2.4 2.4l-2.4 -2.4zM376.2 312.3l2.4 2.4l-2.4 2.4l-2.4 -2.4zM365.7 299.4l2.4 2.4l-2.4 2.4l-2.4 -2.4zM362.3 323.9l2.4 2.4l-2.4 2.4l-2.4 -2.4zM371.7 330.6l2.4 2.4l-2.4 2.4l-2.4 -2.4zM375.4 354.5l2.4 2.4l-2.4 2.4l-2.4 -2.4zM371.4 326.2l2.4 2.4l-2.4 2.4l-2.4 -2.4zM374.9 330.3l2.4 2.4l-2.4 2.4l-2.4 -2.4zM369.5 349.6l2.4 2.4l-2.4 2.4l-2.4 -2.4zM375.4 336.8l2.4 2.4l-2.4 2.4l-2.4 -2.4zM375.2 328.4l2.4 2.4l-2.4 2.4l-2.4 -2.4zM376.5 334.4l2.4 2.4l-2.4 2.4l-2.4 -2.4zM372.7 331.7l2.4 2.4l-2.4 2.4l-2.4 -2.4zM360.1 345.9l2.4 2.4l-2.4 2.4l-2.4 -2.4zM364.6 175.8l2.4 2.4l-2.4 2.4l-2.4 -2.4zM367.3 358.4l2.4 2.4l-2.4 2.4l-2.4 -2.4z" fill="#D6A227"/>
<line x1="400.1" y1="200.7" x2="400.1" y2="236.7" stroke="#6FB1DD" stroke-width="1.25"/>
<line x1="400.1" y1="288" x2="400.1" y2="332.7" stroke="#6FB1DD" stroke-width="1.25"/>
<rect x="386.6" y="236.7" width="27.1" height="51.3" fill="#dcedfa" stroke="#6FB1DD" stroke-width="1.5"/>
<line x1="386.6" y1="267.2" x2="413.7" y2="267.2" stroke="#6FB1DD" stroke-width="3.1"/>
<path d="M406.5 205.7l2.4 2.4l-2.4 2.4l-2.4 -2.4zM402.6 222.2l2.4 2.4l-2.4 2.4l-2.4 -2.4zM403.6 224.2l2.4 2.4l-2.4 2.4l-2.4 -2.4zM390.7 220.1l2.4 2.4l-2.4 2.4l-2.4 -2.4zM404.9 229l2.4 2.4l-2.4 2.4l-2.4 -2.4zM400.8 220.6l2.4 2.4l-2.4 2.4l-2.4 -2.4zM391.9 225.2l2.4 2.4l-2.4 2.4l-2.4 -2.4zM395.4 227.4l2.4 2.4l-2.4 2.4l-2.4 -2.4zM395.7 204.1l2.4 2.4l-2.4 2.4l-2.4 -2.4zM394.5 227.2l2.4 2.4l-2.4 2.4l-2.4 -2.4zM409.2 227.5l2.4 2.4l-2.4 2.4l-2.4 -2.4zM397.9 249.4l2.4 2.4l-2.4 2.4l-2.4 -2.4zM403.6 248.9l2.4 2.4l-2.4 2.4l-2.4 -2.4zM402.4 257.7l2.4 2.4l-2.4 2.4l-2.4 -2.4zM392.1 253.9l2.4 2.4l-2.4 2.4l-2.4 -2.4zM395.5 238.8l2.4 2.4l-2.4 2.4l-2.4 -2.4zM396.4 257l2.4 2.4l-2.4 2.4l-2.4 -2.4zM390.9 251.6l2.4 2.4l-2.4 2.4l-2.4 -2.4zM395.8 236.2l2.4 2.4l-2.4 2.4l-2.4 -2.4zM403.8 254.8l2.4 2.4l-2.4 2.4l-2.4 -2.4zM396.2 254.9l2.4 2.4l-2.4 2.4l-2.4 -2.4zM399.5 250.1l2.4 2.4l-2.4 2.4l-2.4 -2.4zM392.9 274.5l2.4 2.4l-2.4 2.4l-2.4 -2.4zM394.4 283.4l2.4 2.4l-2.4 2.4l-2.4 -2.4zM408.4 285.1l2.4 2.4l-2.4 2.4l-2.4 -2.4zM399.4 265.2l2.4 2.4l-2.4 2.4l-2.4 -2.4zM409 281.9l2.4 2.4l-2.4 2.4l-2.4 -2.4zM395.8 274.1l2.4 2.4l-2.4 2.4l-2.4 -2.4zM408.6 269.2l2.4 2.4l-2.4 2.4l-2.4 -2.4zM401.7 269.2l2.4 2.4l-2.4 2.4l-2.4 -2.4zM400.6 267.7l2.4 2.4l-2.4 2.4l-2.4 -2.4zM393.2 284.6l2.4 2.4l-2.4 2.4l-2.4 -2.4zM400.3 281.9l2.4 2.4l-2.4 2.4l-2.4 -2.4zM404 289.2l2.4 2.4l-2.4 2.4l-2.4 -2.4zM407.7 314.3l2.4 2.4l-2.4 2.4l-2.4 -2.4zM391.1 303.3l2.4 2.4l-2.4 2.4l-2.4 -2.4zM400 329.4l2.4 2.4l-2.4 2.4l-2.4 -2.4zM396.4 304.7l2.4 2.4l-2.4 2.4l-2.4 -2.4zM397.2 319l2.4 2.4l-2.4 2.4l-2.4 -2.4zM406.6 310.3l2.4 2.4l-2.4 2.4l-2.4 -2.4zM404.9 329.8l2.4 2.4l-2.4 2.4l-2.4 -2.4zM392.9 290.8l2.4 2.4l-2.4 2.4l-2.4 -2.4zM404.2 287.9l2.4 2.4l-2.4 2.4l-2.4 -2.4zM396.2 288.7l2.4 2.4l-2.4 2.4l-2.4 -2.4zM398.6 198.3l2.4 2.4l-2.4 2.4l-2.4 -2.4zM398.9 330.3l2.4 2.4l-2.4 2.4l-2.4 -2.4zM404.5 379.2l2.4 2.4l-2.4 2.4l-2.4 -2.4z" fill="#66A8D8"/>
<line x1="431.8" y1="182" x2="431.8" y2="208" stroke="#18926A" stroke-width="1.6"/>
<line x1="431.8" y1="248.5" x2="431.8" y2="272.4" stroke="#18926A" stroke-width="1.6"/>
<rect x="418.4" y="208" width="26.8" height="40.5" fill="#cbeae0" stroke="#18926A" stroke-width="1.85"/>
<line x1="418.4" y1="221.5" x2="445.2" y2="221.5" stroke="#18926A" stroke-width="3.1"/>
<path d="M433.5 205.6l2.4 2.4l-2.4 2.4l-2.4 -2.4zM430.4 192.3l2.4 2.4l-2.4 2.4l-2.4 -2.4zM423.2 190.1l2.4 2.4l-2.4 2.4l-2.4 -2.4zM438.2 184.8l2.4 2.4l-2.4 2.4l-2.4 -2.4zM440.1 190.4l2.4 2.4l-2.4 2.4l-2.4 -2.4zM427.3 189.4l2.4 2.4l-2.4 2.4l-2.4 -2.4zM425.9 195.8l2.4 2.4l-2.4 2.4l-2.4 -2.4zM440.5 192.6l2.4 2.4l-2.4 2.4l-2.4 -2.4zM437.7 203.5l2.4 2.4l-2.4 2.4l-2.4 -2.4zM439.7 198.4l2.4 2.4l-2.4 2.4l-2.4 -2.4zM432.7 204.5l2.4 2.4l-2.4 2.4l-2.4 -2.4zM423.2 215.3l2.4 2.4l-2.4 2.4l-2.4 -2.4zM430.9 215.5l2.4 2.4l-2.4 2.4l-2.4 -2.4zM434.5 215.8l2.4 2.4l-2.4 2.4l-2.4 -2.4zM423.2 209.5l2.4 2.4l-2.4 2.4l-2.4 -2.4zM424.7 218.1l2.4 2.4l-2.4 2.4l-2.4 -2.4zM428.8 212l2.4 2.4l-2.4 2.4l-2.4 -2.4zM436.3 209.6l2.4 2.4l-2.4 2.4l-2.4 -2.4zM427.2 218.8l2.4 2.4l-2.4 2.4l-2.4 -2.4zM428 214.5l2.4 2.4l-2.4 2.4l-2.4 -2.4zM429.8 213.1l2.4 2.4l-2.4 2.4l-2.4 -2.4zM425.4 207.9l2.4 2.4l-2.4 2.4l-2.4 -2.4zM439.5 224.7l2.4 2.4l-2.4 2.4l-2.4 -2.4zM426.5 232.5l2.4 2.4l-2.4 2.4l-2.4 -2.4zM441.2 243.6l2.4 2.4l-2.4 2.4l-2.4 -2.4zM425 231.2l2.4 2.4l-2.4 2.4l-2.4 -2.4zM424 224.3l2.4 2.4l-2.4 2.4l-2.4 -2.4zM424 228.3l2.4 2.4l-2.4 2.4l-2.4 -2.4zM427.2 225.6l2.4 2.4l-2.4 2.4l-2.4 -2.4zM439.2 234.5l2.4 2.4l-2.4 2.4l-2.4 -2.4zM430.1 239.3l2.4 2.4l-2.4 2.4l-2.4 -2.4zM432.3 230.3l2.4 2.4l-2.4 2.4l-2.4 -2.4zM428.7 229.3l2.4 2.4l-2.4 2.4l-2.4 -2.4zM427.6 266.6l2.4 2.4l-2.4 2.4l-2.4 -2.4zM424.7 246.6l2.4 2.4l-2.4 2.4l-2.4 -2.4zM434.3 255.2l2.4 2.4l-2.4 2.4l-2.4 -2.4zM426.4 248.4l2.4 2.4l-2.4 2.4l-2.4 -2.4zM427 260.4l2.4 2.4l-2.4 2.4l-2.4 -2.4zM430.8 257.4l2.4 2.4l-2.4 2.4l-2.4 -2.4zM438.4 246.9l2.4 2.4l-2.4 2.4l-2.4 -2.4zM422.7 248.3l2.4 2.4l-2.4 2.4l-2.4 -2.4zM435.8 267.8l2.4 2.4l-2.4 2.4l-2.4 -2.4zM431.3 247.9l2.4 2.4l-2.4 2.4l-2.4 -2.4zM422.3 253.5l2.4 2.4l-2.4 2.4l-2.4 -2.4zM430.5 179.6l2.4 2.4l-2.4 2.4l-2.4 -2.4zM436.9 270l2.4 2.4l-2.4 2.4l-2.4 -2.4zM426.3 312.3l2.4 2.4l-2.4 2.4l-2.4 -2.4zM424.2 348l2.4 2.4l-2.4 2.4l-2.4 -2.4zM437.8 126.6l2.4 2.4l-2.4 2.4l-2.4 -2.4z" fill="#128A64"/>
<line x1="505.2" y1="245.2" x2="505.2" y2="327.9" stroke="#9a9a9a" stroke-width="1.25"/>
<line x1="505.2" y1="392.8" x2="505.2" y2="436.5" stroke="#9a9a9a" stroke-width="1.25"/>
<rect x="491.2" y="327.9" width="28" height="64.9" fill="#e9e9e9" stroke="#9a9a9a" stroke-width="1.5"/>
<line x1="491.2" y1="358.9" x2="519.2" y2="358.9" stroke="#9a9a9a" stroke-width="3.1"/>
<path d="M512 315.1l2.4 2.4l-2.4 2.4l-2.4 -2.4zM500.4 323.9l2.4 2.4l-2.4 2.4l-2.4 -2.4zM498.6 260.3l2.4 2.4l-2.4 2.4l-2.4 -2.4zM508.7 295.3l2.4 2.4l-2.4 2.4l-2.4 -2.4zM509.4 322.1l2.4 2.4l-2.4 2.4l-2.4 -2.4zM510.2 303.8l2.4 2.4l-2.4 2.4l-2.4 -2.4zM506.2 290.6l2.4 2.4l-2.4 2.4l-2.4 -2.4zM510.6 251.4l2.4 2.4l-2.4 2.4l-2.4 -2.4zM513.2 272.6l2.4 2.4l-2.4 2.4l-2.4 -2.4zM501.5 303.7l2.4 2.4l-2.4 2.4l-2.4 -2.4zM500.5 262.4l2.4 2.4l-2.4 2.4l-2.4 -2.4zM509 345.2l2.4 2.4l-2.4 2.4l-2.4 -2.4zM497 329l2.4 2.4l-2.4 2.4l-2.4 -2.4zM506.8 341.8l2.4 2.4l-2.4 2.4l-2.4 -2.4zM499.9 337.5l2.4 2.4l-2.4 2.4l-2.4 -2.4zM495.9 344.1l2.4 2.4l-2.4 2.4l-2.4 -2.4zM504.5 334.8l2.4 2.4l-2.4 2.4l-2.4 -2.4zM507.9 355.2l2.4 2.4l-2.4 2.4l-2.4 -2.4zM504.7 352.9l2.4 2.4l-2.4 2.4l-2.4 -2.4zM500.4 332.8l2.4 2.4l-2.4 2.4l-2.4 -2.4zM509.1 355.3l2.4 2.4l-2.4 2.4l-2.4 -2.4zM496.1 335l2.4 2.4l-2.4 2.4l-2.4 -2.4zM508.5 373.4l2.4 2.4l-2.4 2.4l-2.4 -2.4zM500.6 370.7l2.4 2.4l-2.4 2.4l-2.4 -2.4zM513.3 379.1l2.4 2.4l-2.4 2.4l-2.4 -2.4zM496.3 364.2l2.4 2.4l-2.4 2.4l-2.4 -2.4zM503.7 368l2.4 2.4l-2.4 2.4l-2.4 -2.4zM499.5 379.6l2.4 2.4l-2.4 2.4l-2.4 -2.4zM509.7 383.5l2.4 2.4l-2.4 2.4l-2.4 -2.4zM499.6 373.6l2.4 2.4l-2.4 2.4l-2.4 -2.4zM501.6 389.4l2.4 2.4l-2.4 2.4l-2.4 -2.4zM500.1 384.3l2.4 2.4l-2.4 2.4l-2.4 -2.4zM510.1 364l2.4 2.4l-2.4 2.4l-2.4 -2.4zM513.8 415.5l2.4 2.4l-2.4 2.4l-2.4 -2.4zM499.3 407.4l2.4 2.4l-2.4 2.4l-2.4 -2.4zM503.6 418.8l2.4 2.4l-2.4 2.4l-2.4 -2.4zM513.7 401.2l2.4 2.4l-2.4 2.4l-2.4 -2.4zM503.2 422.7l2.4 2.4l-2.4 2.4l-2.4 -2.4zM514.2 419.3l2.4 2.4l-2.4 2.4l-2.4 -2.4zM496.7 423l2.4 2.4l-2.4 2.4l-2.4 -2.4zM503.2 428l2.4 2.4l-2.4 2.4l-2.4 -2.4zM512.5 393.6l2.4 2.4l-2.4 2.4l-2.4 -2.4zM514.7 398.9l2.4 2.4l-2.4 2.4l-2.4 -2.4zM502 392.5l2.4 2.4l-2.4 2.4l-2.4 -2.4zM501.4 242.8l2.4 2.4l-2.4 2.4l-2.4 -2.4zM510.4 434.1l2.4 2.4l-2.4 2.4l-2.4 -2.4zM506.4 188.3l2.4 2.4l-2.4 2.4l-2.4 -2.4z" fill="#969696"/>
<line x1="535.5" y1="276.4" x2="535.5" y2="322.1" stroke="#DBA626" stroke-width="1.3"/>
<line x1="535.5" y1="368.5" x2="535.5" y2="418.8" stroke="#DBA626" stroke-width="1.3"/>
<rect x="521.8" y="322.1" width="27.4" height="46.4" fill="#fbeacb" stroke="#DBA626" stroke-width="1.55"/>
<line x1="521.8" y1="341.9" x2="549.2" y2="341.9" stroke="#DBA626" stroke-width="3.1"/>
<path d="M526.6 311.2l2.4 2.4l-2.4 2.4l-2.4 -2.4zM533.2 308.3l2.4 2.4l-2.4 2.4l-2.4 -2.4zM532.3 297l2.4 2.4l-2.4 2.4l-2.4 -2.4zM526.1 287.2l2.4 2.4l-2.4 2.4l-2.4 -2.4zM532.7 292.7l2.4 2.4l-2.4 2.4l-2.4 -2.4zM528.4 318.3l2.4 2.4l-2.4 2.4l-2.4 -2.4zM529.9 318.6l2.4 2.4l-2.4 2.4l-2.4 -2.4zM541.6 296.2l2.4 2.4l-2.4 2.4l-2.4 -2.4zM534.2 313.8l2.4 2.4l-2.4 2.4l-2.4 -2.4zM535 279.6l2.4 2.4l-2.4 2.4l-2.4 -2.4zM543.5 296.9l2.4 2.4l-2.4 2.4l-2.4 -2.4zM532.9 323.5l2.4 2.4l-2.4 2.4l-2.4 -2.4zM526.6 337.5l2.4 2.4l-2.4 2.4l-2.4 -2.4zM541.4 327.8l2.4 2.4l-2.4 2.4l-2.4 -2.4zM526.8 334.9l2.4 2.4l-2.4 2.4l-2.4 -2.4zM527.2 320.4l2.4 2.4l-2.4 2.4l-2.4 -2.4zM530.9 337.9l2.4 2.4l-2.4 2.4l-2.4 -2.4zM543.1 334.5l2.4 2.4l-2.4 2.4l-2.4 -2.4zM531.2 326.4l2.4 2.4l-2.4 2.4l-2.4 -2.4zM537.7 338.7l2.4 2.4l-2.4 2.4l-2.4 -2.4zM539.6 324.9l2.4 2.4l-2.4 2.4l-2.4 -2.4zM531.2 326l2.4 2.4l-2.4 2.4l-2.4 -2.4zM540.4 339.6l2.4 2.4l-2.4 2.4l-2.4 -2.4zM538 363.9l2.4 2.4l-2.4 2.4l-2.4 -2.4zM526.5 364.6l2.4 2.4l-2.4 2.4l-2.4 -2.4zM535 345.7l2.4 2.4l-2.4 2.4l-2.4 -2.4zM544.1 365l2.4 2.4l-2.4 2.4l-2.4 -2.4zM530.8 349.8l2.4 2.4l-2.4 2.4l-2.4 -2.4zM535.4 350.9l2.4 2.4l-2.4 2.4l-2.4 -2.4zM529.5 364.2l2.4 2.4l-2.4 2.4l-2.4 -2.4zM540 360.8l2.4 2.4l-2.4 2.4l-2.4 -2.4zM540.7 361.4l2.4 2.4l-2.4 2.4l-2.4 -2.4zM532.2 355.7l2.4 2.4l-2.4 2.4l-2.4 -2.4zM532.9 393.8l2.4 2.4l-2.4 2.4l-2.4 -2.4zM527.5 374l2.4 2.4l-2.4 2.4l-2.4 -2.4zM540.3 400.2l2.4 2.4l-2.4 2.4l-2.4 -2.4zM527.2 397.5l2.4 2.4l-2.4 2.4l-2.4 -2.4zM536.5 411.7l2.4 2.4l-2.4 2.4l-2.4 -2.4zM544.6 393.5l2.4 2.4l-2.4 2.4l-2.4 -2.4zM544.8 370.3l2.4 2.4l-2.4 2.4l-2.4 -2.4zM527.6 396.6l2.4 2.4l-2.4 2.4l-2.4 -2.4zM535.5 406.6l2.4 2.4l-2.4 2.4l-2.4 -2.4zM534.5 376.8l2.4 2.4l-2.4 2.4l-2.4 -2.4zM533.9 398.2l2.4 2.4l-2.4 2.4l-2.4 -2.4zM536.9 274l2.4 2.4l-2.4 2.4l-2.4 -2.4zM537.6 416.4l2.4 2.4l-2.4 2.4l-2.4 -2.4zM529.3 247.3l2.4 2.4l-2.4 2.4l-2.4 -2.4z" fill="#D6A227"/>
<line x1="568.1" y1="234.8" x2="568.1" y2="282.2" stroke="#6FB1DD" stroke-width="1.25"/>
<line x1="568.1" y1="345.4" x2="568.1" y2="419.8" stroke="#6FB1DD" stroke-width="1.25"/>
<rect x="554" y="282.2" width="28.2" height="63.2" fill="#dcedfa" stroke="#6FB1DD" stroke-width="1.5"/>
<line x1="554" y1="307.5" x2="582.2" y2="307.5" stroke="#6FB1DD" stroke-width="3.1"/>
<path d="M574.7 271.1l2.4 2.4l-2.4 2.4l-2.4 -2.4zM560.9 268l2.4 2.4l-2.4 2.4l-2.4 -2.4zM564.2 274.4l2.4 2.4l-2.4 2.4l-2.4 -2.4zM565.7 264.3l2.4 2.4l-2.4 2.4l-2.4 -2.4zM562.4 270.7l2.4 2.4l-2.4 2.4l-2.4 -2.4zM563.3 250.2l2.4 2.4l-2.4 2.4l-2.4 -2.4zM575.4 245.2l2.4 2.4l-2.4 2.4l-2.4 -2.4zM564.8 264.7l2.4 2.4l-2.4 2.4l-2.4 -2.4zM577.5 257.2l2.4 2.4l-2.4 2.4l-2.4 -2.4zM563 261.9l2.4 2.4l-2.4 2.4l-2.4 -2.4zM571 273.2l2.4 2.4l-2.4 2.4l-2.4 -2.4zM560.5 304.9l2.4 2.4l-2.4 2.4l-2.4 -2.4zM574.2 291.8l2.4 2.4l-2.4 2.4l-2.4 -2.4zM576 301.1l2.4 2.4l-2.4 2.4l-2.4 -2.4zM564.2 280.8l2.4 2.4l-2.4 2.4l-2.4 -2.4zM562.2 282.8l2.4 2.4l-2.4 2.4l-2.4 -2.4zM569.7 304.4l2.4 2.4l-2.4 2.4l-2.4 -2.4zM565.7 303.3l2.4 2.4l-2.4 2.4l-2.4 -2.4zM567.1 301.7l2.4 2.4l-2.4 2.4l-2.4 -2.4zM573.4 286.4l2.4 2.4l-2.4 2.4l-2.4 -2.4zM560.6 303.7l2.4 2.4l-2.4 2.4l-2.4 -2.4zM570.4 294.9l2.4 2.4l-2.4 2.4l-2.4 -2.4zM565.6 313.3l2.4 2.4l-2.4 2.4l-2.4 -2.4zM562.5 310.5l2.4 2.4l-2.4 2.4l-2.4 -2.4zM570 314.8l2.4 2.4l-2.4 2.4l-2.4 -2.4zM562.5 329.8l2.4 2.4l-2.4 2.4l-2.4 -2.4zM564.8 305.5l2.4 2.4l-2.4 2.4l-2.4 -2.4zM562.1 330.8l2.4 2.4l-2.4 2.4l-2.4 -2.4zM562.5 316.9l2.4 2.4l-2.4 2.4l-2.4 -2.4zM569 335.2l2.4 2.4l-2.4 2.4l-2.4 -2.4zM560.5 307.5l2.4 2.4l-2.4 2.4l-2.4 -2.4zM569.1 320.1l2.4 2.4l-2.4 2.4l-2.4 -2.4zM560.3 329.3l2.4 2.4l-2.4 2.4l-2.4 -2.4zM571.8 396.4l2.4 2.4l-2.4 2.4l-2.4 -2.4zM564 377.6l2.4 2.4l-2.4 2.4l-2.4 -2.4zM576.7 384.8l2.4 2.4l-2.4 2.4l-2.4 -2.4zM569.4 384.5l2.4 2.4l-2.4 2.4l-2.4 -2.4zM566.5 381.2l2.4 2.4l-2.4 2.4l-2.4 -2.4zM577.5 350.2l2.4 2.4l-2.4 2.4l-2.4 -2.4zM562.3 380.7l2.4 2.4l-2.4 2.4l-2.4 -2.4zM562.5 357.8l2.4 2.4l-2.4 2.4l-2.4 -2.4zM575.7 415.4l2.4 2.4l-2.4 2.4l-2.4 -2.4zM574.2 376.6l2.4 2.4l-2.4 2.4l-2.4 -2.4zM575.4 377.8l2.4 2.4l-2.4 2.4l-2.4 -2.4zM567.6 232.4l2.4 2.4l-2.4 2.4l-2.4 -2.4zM564.1 417.4l2.4 2.4l-2.4 2.4l-2.4 -2.4z" fill="#66A8D8"/>
<line x1="598.5" y1="188" x2="598.5" y2="225.4" stroke="#18926A" stroke-width="1.6"/>
<line x1="598.5" y1="282.2" x2="598.5" y2="349.1" stroke="#18926A" stroke-width="1.6"/>
<rect x="584.8" y="225.4" width="27.4" height="56.8" fill="#cbeae0" stroke="#18926A" stroke-width="1.85"/>
<line x1="584.8" y1="242.7" x2="612.2" y2="242.7" stroke="#18926A" stroke-width="3.1"/>
<path d="M599.5 187.6l2.4 2.4l-2.4 2.4l-2.4 -2.4zM606.3 213l2.4 2.4l-2.4 2.4l-2.4 -2.4zM600.8 192.5l2.4 2.4l-2.4 2.4l-2.4 -2.4zM598.6 204.3l2.4 2.4l-2.4 2.4l-2.4 -2.4zM594.4 195.3l2.4 2.4l-2.4 2.4l-2.4 -2.4zM606.6 209.3l2.4 2.4l-2.4 2.4l-2.4 -2.4zM598.3 193.5l2.4 2.4l-2.4 2.4l-2.4 -2.4zM607.4 217.7l2.4 2.4l-2.4 2.4l-2.4 -2.4zM591.4 197.6l2.4 2.4l-2.4 2.4l-2.4 -2.4zM607.5 221.5l2.4 2.4l-2.4 2.4l-2.4 -2.4zM590 208.1l2.4 2.4l-2.4 2.4l-2.4 -2.4zM596.4 239l2.4 2.4l-2.4 2.4l-2.4 -2.4zM600.8 238.6l2.4 2.4l-2.4 2.4l-2.4 -2.4zM592 237.3l2.4 2.4l-2.4 2.4l-2.4 -2.4zM593.2 236.6l2.4 2.4l-2.4 2.4l-2.4 -2.4zM605.1 230l2.4 2.4l-2.4 2.4l-2.4 -2.4zM592.5 237.3l2.4 2.4l-2.4 2.4l-2.4 -2.4zM596.6 226.8l2.4 2.4l-2.4 2.4l-2.4 -2.4zM596.3 232l2.4 2.4l-2.4 2.4l-2.4 -2.4zM593.7 225.1l2.4 2.4l-2.4 2.4l-2.4 -2.4zM606 235.5l2.4 2.4l-2.4 2.4l-2.4 -2.4zM599.7 223.7l2.4 2.4l-2.4 2.4l-2.4 -2.4zM589.7 270.2l2.4 2.4l-2.4 2.4l-2.4 -2.4zM591.2 273.4l2.4 2.4l-2.4 2.4l-2.4 -2.4zM599.5 264l2.4 2.4l-2.4 2.4l-2.4 -2.4zM594.8 265.1l2.4 2.4l-2.4 2.4l-2.4 -2.4zM600.1 256.9l2.4 2.4l-2.4 2.4l-2.4 -2.4zM601.5 257.1l2.4 2.4l-2.4 2.4l-2.4 -2.4zM597.3 257.9l2.4 2.4l-2.4 2.4l-2.4 -2.4zM600.8 241.2l2.4 2.4l-2.4 2.4l-2.4 -2.4zM593.5 259.6l2.4 2.4l-2.4 2.4l-2.4 -2.4zM603.8 270.5l2.4 2.4l-2.4 2.4l-2.4 -2.4zM592.4 258.4l2.4 2.4l-2.4 2.4l-2.4 -2.4zM591 307.1l2.4 2.4l-2.4 2.4l-2.4 -2.4zM597.2 330.8l2.4 2.4l-2.4 2.4l-2.4 -2.4zM597.4 334.1l2.4 2.4l-2.4 2.4l-2.4 -2.4zM589.8 304.9l2.4 2.4l-2.4 2.4l-2.4 -2.4zM590.6 297.9l2.4 2.4l-2.4 2.4l-2.4 -2.4zM603.8 292.8l2.4 2.4l-2.4 2.4l-2.4 -2.4zM590 304.9l2.4 2.4l-2.4 2.4l-2.4 -2.4zM596.2 305.3l2.4 2.4l-2.4 2.4l-2.4 -2.4zM591.6 282.1l2.4 2.4l-2.4 2.4l-2.4 -2.4zM607.9 286.6l2.4 2.4l-2.4 2.4l-2.4 -2.4zM604.5 292.9l2.4 2.4l-2.4 2.4l-2.4 -2.4zM594.8 185.6l2.4 2.4l-2.4 2.4l-2.4 -2.4zM604.3 346.7l2.4 2.4l-2.4 2.4l-2.4 -2.4z" fill="#128A64"/>
<line x1="672.8" y1="257.2" x2="672.8" y2="364.1" stroke="#9a9a9a" stroke-width="1.25"/>
<line x1="672.8" y1="452.1" x2="672.8" y2="492.6" stroke="#9a9a9a" stroke-width="1.25"/>
<rect x="659" y="364.1" width="27.5" height="88" fill="#e9e9e9" stroke="#9a9a9a" stroke-width="1.5"/>
<line x1="659" y1="410.5" x2="686.5" y2="410.5" stroke="#9a9a9a" stroke-width="3.1"/>
<path d="M681.4 319.9l2.4 2.4l-2.4 2.4l-2.4 -2.4zM666.4 355.3l2.4 2.4l-2.4 2.4l-2.4 -2.4zM680.9 345.3l2.4 2.4l-2.4 2.4l-2.4 -2.4zM669.9 270.7l2.4 2.4l-2.4 2.4l-2.4 -2.4zM666.3 342.7l2.4 2.4l-2.4 2.4l-2.4 -2.4zM668.5 353.8l2.4 2.4l-2.4 2.4l-2.4 -2.4zM666 347.5l2.4 2.4l-2.4 2.4l-2.4 -2.4zM680.7 320.8l2.4 2.4l-2.4 2.4l-2.4 -2.4zM668.2 290.5l2.4 2.4l-2.4 2.4l-2.4 -2.4zM669.3 321.2l2.4 2.4l-2.4 2.4l-2.4 -2.4zM666.7 265.4l2.4 2.4l-2.4 2.4l-2.4 -2.4zM681 369.2l2.4 2.4l-2.4 2.4l-2.4 -2.4zM680.3 393.2l2.4 2.4l-2.4 2.4l-2.4 -2.4zM678.2 369.5l2.4 2.4l-2.4 2.4l-2.4 -2.4zM673.3 367l2.4 2.4l-2.4 2.4l-2.4 -2.4zM670.1 391.2l2.4 2.4l-2.4 2.4l-2.4 -2.4zM673.8 402.2l2.4 2.4l-2.4 2.4l-2.4 -2.4zM680 388.6l2.4 2.4l-2.4 2.4l-2.4 -2.4zM682.1 366.6l2.4 2.4l-2.4 2.4l-2.4 -2.4zM670.7 390.9l2.4 2.4l-2.4 2.4l-2.4 -2.4zM668.3 398.7l2.4 2.4l-2.4 2.4l-2.4 -2.4zM674.2 407.7l2.4 2.4l-2.4 2.4l-2.4 -2.4zM677.8 423.1l2.4 2.4l-2.4 2.4l-2.4 -2.4zM666.6 426.5l2.4 2.4l-2.4 2.4l-2.4 -2.4zM664.2 439l2.4 2.4l-2.4 2.4l-2.4 -2.4zM668.1 442.2l2.4 2.4l-2.4 2.4l-2.4 -2.4zM681.9 434.7l2.4 2.4l-2.4 2.4l-2.4 -2.4zM675.9 432.5l2.4 2.4l-2.4 2.4l-2.4 -2.4zM663.3 421.1l2.4 2.4l-2.4 2.4l-2.4 -2.4zM666.1 409.5l2.4 2.4l-2.4 2.4l-2.4 -2.4zM671.5 433.7l2.4 2.4l-2.4 2.4l-2.4 -2.4zM680.3 429.4l2.4 2.4l-2.4 2.4l-2.4 -2.4zM667.6 413.6l2.4 2.4l-2.4 2.4l-2.4 -2.4zM663.7 460.1l2.4 2.4l-2.4 2.4l-2.4 -2.4zM670 489.6l2.4 2.4l-2.4 2.4l-2.4 -2.4zM670 481.8l2.4 2.4l-2.4 2.4l-2.4 -2.4zM674.3 476l2.4 2.4l-2.4 2.4l-2.4 -2.4zM667.1 462.2l2.4 2.4l-2.4 2.4l-2.4 -2.4zM672.3 461.1l2.4 2.4l-2.4 2.4l-2.4 -2.4zM681 480.2l2.4 2.4l-2.4 2.4l-2.4 -2.4zM666.1 475.1l2.4 2.4l-2.4 2.4l-2.4 -2.4zM675.4 482.4l2.4 2.4l-2.4 2.4l-2.4 -2.4zM678.1 453.4l2.4 2.4l-2.4 2.4l-2.4 -2.4zM668.3 468.8l2.4 2.4l-2.4 2.4l-2.4 -2.4zM666.9 254.8l2.4 2.4l-2.4 2.4l-2.4 -2.4zM674.5 490.2l2.4 2.4l-2.4 2.4l-2.4 -2.4zM671.9 627l2.4 2.4l-2.4 2.4l-2.4 -2.4z" fill="#969696"/>
<line x1="703.2" y1="339.8" x2="703.2" y2="372" stroke="#DBA626" stroke-width="1.3"/>
<line x1="703.2" y1="446.2" x2="703.2" y2="516.5" stroke="#DBA626" stroke-width="1.3"/>
<rect x="689.1" y="372" width="28.2" height="74.2" fill="#fbeacb" stroke="#DBA626" stroke-width="1.55"/>
<line x1="689.1" y1="401.1" x2="717.3" y2="401.1" stroke="#DBA626" stroke-width="3.1"/>
<path d="M700.4 358.9l2.4 2.4l-2.4 2.4l-2.4 -2.4zM702.1 361.1l2.4 2.4l-2.4 2.4l-2.4 -2.4zM707.6 368.2l2.4 2.4l-2.4 2.4l-2.4 -2.4zM710.9 349.6l2.4 2.4l-2.4 2.4l-2.4 -2.4zM703.8 341l2.4 2.4l-2.4 2.4l-2.4 -2.4zM698.2 354.5l2.4 2.4l-2.4 2.4l-2.4 -2.4zM708.5 341.8l2.4 2.4l-2.4 2.4l-2.4 -2.4zM704.2 338.9l2.4 2.4l-2.4 2.4l-2.4 -2.4zM696.4 368.3l2.4 2.4l-2.4 2.4l-2.4 -2.4zM705.3 347.8l2.4 2.4l-2.4 2.4l-2.4 -2.4zM705.9 357.4l2.4 2.4l-2.4 2.4l-2.4 -2.4zM697 393.3l2.4 2.4l-2.4 2.4l-2.4 -2.4zM699.4 378.6l2.4 2.4l-2.4 2.4l-2.4 -2.4zM710.6 371l2.4 2.4l-2.4 2.4l-2.4 -2.4zM707.3 392.4l2.4 2.4l-2.4 2.4l-2.4 -2.4zM709.7 369.8l2.4 2.4l-2.4 2.4l-2.4 -2.4zM702.5 391.3l2.4 2.4l-2.4 2.4l-2.4 -2.4zM702.3 391.2l2.4 2.4l-2.4 2.4l-2.4 -2.4zM695.7 376.2l2.4 2.4l-2.4 2.4l-2.4 -2.4zM694.4 376.4l2.4 2.4l-2.4 2.4l-2.4 -2.4zM707.9 379.4l2.4 2.4l-2.4 2.4l-2.4 -2.4zM709.8 389.8l2.4 2.4l-2.4 2.4l-2.4 -2.4zM698.8 430.8l2.4 2.4l-2.4 2.4l-2.4 -2.4zM702 423.7l2.4 2.4l-2.4 2.4l-2.4 -2.4zM703.6 434.3l2.4 2.4l-2.4 2.4l-2.4 -2.4zM705.9 410.7l2.4 2.4l-2.4 2.4l-2.4 -2.4zM697.8 442.2l2.4 2.4l-2.4 2.4l-2.4 -2.4zM694 438.4l2.4 2.4l-2.4 2.4l-2.4 -2.4zM698.2 410.4l2.4 2.4l-2.4 2.4l-2.4 -2.4zM711.6 432.2l2.4 2.4l-2.4 2.4l-2.4 -2.4zM699.9 432.4l2.4 2.4l-2.4 2.4l-2.4 -2.4zM699.9 438.4l2.4 2.4l-2.4 2.4l-2.4 -2.4zM710.9 409.5l2.4 2.4l-2.4 2.4l-2.4 -2.4zM706.9 463.2l2.4 2.4l-2.4 2.4l-2.4 -2.4zM712.3 461.3l2.4 2.4l-2.4 2.4l-2.4 -2.4zM709.7 472.7l2.4 2.4l-2.4 2.4l-2.4 -2.4zM710 459.5l2.4 2.4l-2.4 2.4l-2.4 -2.4zM707.5 474.7l2.4 2.4l-2.4 2.4l-2.4 -2.4zM699.5 466.6l2.4 2.4l-2.4 2.4l-2.4 -2.4zM705.5 490.4l2.4 2.4l-2.4 2.4l-2.4 -2.4zM711 502.3l2.4 2.4l-2.4 2.4l-2.4 -2.4zM694.2 495.9l2.4 2.4l-2.4 2.4l-2.4 -2.4zM711.4 499.4l2.4 2.4l-2.4 2.4l-2.4 -2.4zM696.4 480.7l2.4 2.4l-2.4 2.4l-2.4 -2.4zM697.5 337.4l2.4 2.4l-2.4 2.4l-2.4 -2.4zM697.7 514.1l2.4 2.4l-2.4 2.4l-2.4 -2.4z" fill="#D6A227"/>
<line x1="735.8" y1="174.5" x2="735.8" y2="295.7" stroke="#6FB1DD" stroke-width="1.25"/>
<line x1="735.8" y1="379.7" x2="735.8" y2="490.9" stroke="#6FB1DD" stroke-width="1.25"/>
<rect x="722" y="295.7" width="27.5" height="84" fill="#dcedfa" stroke="#6FB1DD" stroke-width="1.5"/>
<line x1="722" y1="355.4" x2="749.5" y2="355.4" stroke="#6FB1DD" stroke-width="3.1"/>
<path d="M738.3 265.8l2.4 2.4l-2.4 2.4l-2.4 -2.4zM740.2 266.2l2.4 2.4l-2.4 2.4l-2.4 -2.4zM737.5 190.1l2.4 2.4l-2.4 2.4l-2.4 -2.4zM741.8 231.8l2.4 2.4l-2.4 2.4l-2.4 -2.4zM743.2 277.5l2.4 2.4l-2.4 2.4l-2.4 -2.4zM742.7 190.2l2.4 2.4l-2.4 2.4l-2.4 -2.4zM744.2 285.9l2.4 2.4l-2.4 2.4l-2.4 -2.4zM730.2 197.5l2.4 2.4l-2.4 2.4l-2.4 -2.4zM726.9 198.3l2.4 2.4l-2.4 2.4l-2.4 -2.4zM741.7 280.1l2.4 2.4l-2.4 2.4l-2.4 -2.4zM741.9 260.2l2.4 2.4l-2.4 2.4l-2.4 -2.4zM731.7 331l2.4 2.4l-2.4 2.4l-2.4 -2.4zM728.1 299.3l2.4 2.4l-2.4 2.4l-2.4 -2.4zM730.1 338.5l2.4 2.4l-2.4 2.4l-2.4 -2.4zM734.3 312.4l2.4 2.4l-2.4 2.4l-2.4 -2.4zM731.1 294.5l2.4 2.4l-2.4 2.4l-2.4 -2.4zM739.8 310.2l2.4 2.4l-2.4 2.4l-2.4 -2.4zM732.3 315.3l2.4 2.4l-2.4 2.4l-2.4 -2.4zM735.8 350.9l2.4 2.4l-2.4 2.4l-2.4 -2.4zM738 344.1l2.4 2.4l-2.4 2.4l-2.4 -2.4zM734.1 295.1l2.4 2.4l-2.4 2.4l-2.4 -2.4zM740.9 319.4l2.4 2.4l-2.4 2.4l-2.4 -2.4zM739.6 361.4l2.4 2.4l-2.4 2.4l-2.4 -2.4zM730.4 366.1l2.4 2.4l-2.4 2.4l-2.4 -2.4zM728 374l2.4 2.4l-2.4 2.4l-2.4 -2.4zM729.5 372.9l2.4 2.4l-2.4 2.4l-2.4 -2.4zM730.1 353l2.4 2.4l-2.4 2.4l-2.4 -2.4zM744.8 371.5l2.4 2.4l-2.4 2.4l-2.4 -2.4zM735.6 353.1l2.4 2.4l-2.4 2.4l-2.4 -2.4zM741.4 364.9l2.4 2.4l-2.4 2.4l-2.4 -2.4zM735.6 357.5l2.4 2.4l-2.4 2.4l-2.4 -2.4zM742.1 361.4l2.4 2.4l-2.4 2.4l-2.4 -2.4zM744.2 359.3l2.4 2.4l-2.4 2.4l-2.4 -2.4zM730.3 442.5l2.4 2.4l-2.4 2.4l-2.4 -2.4zM735.7 401.9l2.4 2.4l-2.4 2.4l-2.4 -2.4zM738.3 464.8l2.4 2.4l-2.4 2.4l-2.4 -2.4zM741.2 469.4l2.4 2.4l-2.4 2.4l-2.4 -2.4zM741.2 402.1l2.4 2.4l-2.4 2.4l-2.4 -2.4zM733 408.2l2.4 2.4l-2.4 2.4l-2.4 -2.4zM733.7 429.8l2.4 2.4l-2.4 2.4l-2.4 -2.4zM727.9 386l2.4 2.4l-2.4 2.4l-2.4 -2.4zM726.7 386.1l2.4 2.4l-2.4 2.4l-2.4 -2.4zM731.3 451.7l2.4 2.4l-2.4 2.4l-2.4 -2.4zM735.8 385.1l2.4 2.4l-2.4 2.4l-2.4 -2.4zM734.3 172.1l2.4 2.4l-2.4 2.4l-2.4 -2.4zM740.4 488.5l2.4 2.4l-2.4 2.4l-2.4 -2.4z" fill="#66A8D8"/>
<line x1="766.3" y1="198.4" x2="766.3" y2="278" stroke="#18926A" stroke-width="1.6"/>
<line x1="766.3" y1="364.1" x2="766.3" y2="442.7" stroke="#18926A" stroke-width="1.6"/>
<rect x="752.6" y="278" width="27.5" height="86.1" fill="#cbeae0" stroke="#18926A" stroke-width="1.85"/>
<line x1="752.6" y1="319" x2="780.1" y2="319" stroke="#18926A" stroke-width="3.1"/>
<path d="M765.6 224.8l2.4 2.4l-2.4 2.4l-2.4 -2.4zM771.2 247.1l2.4 2.4l-2.4 2.4l-2.4 -2.4zM769.1 261.3l2.4 2.4l-2.4 2.4l-2.4 -2.4zM763.1 234.1l2.4 2.4l-2.4 2.4l-2.4 -2.4zM772.9 217.6l2.4 2.4l-2.4 2.4l-2.4 -2.4zM770.9 255.6l2.4 2.4l-2.4 2.4l-2.4 -2.4zM765.2 219l2.4 2.4l-2.4 2.4l-2.4 -2.4zM767.9 262.5l2.4 2.4l-2.4 2.4l-2.4 -2.4zM765.6 214.7l2.4 2.4l-2.4 2.4l-2.4 -2.4zM761.4 269.1l2.4 2.4l-2.4 2.4l-2.4 -2.4zM762.6 221l2.4 2.4l-2.4 2.4l-2.4 -2.4zM772.9 304.4l2.4 2.4l-2.4 2.4l-2.4 -2.4zM759.8 281.9l2.4 2.4l-2.4 2.4l-2.4 -2.4zM763.1 285.8l2.4 2.4l-2.4 2.4l-2.4 -2.4zM759.9 297l2.4 2.4l-2.4 2.4l-2.4 -2.4zM760.4 289.1l2.4 2.4l-2.4 2.4l-2.4 -2.4zM770.7 315.6l2.4 2.4l-2.4 2.4l-2.4 -2.4zM775.1 279.8l2.4 2.4l-2.4 2.4l-2.4 -2.4zM764.2 279.8l2.4 2.4l-2.4 2.4l-2.4 -2.4zM772 315.9l2.4 2.4l-2.4 2.4l-2.4 -2.4zM765.1 305.7l2.4 2.4l-2.4 2.4l-2.4 -2.4zM769 283.6l2.4 2.4l-2.4 2.4l-2.4 -2.4zM760.8 321.4l2.4 2.4l-2.4 2.4l-2.4 -2.4zM757.5 334.1l2.4 2.4l-2.4 2.4l-2.4 -2.4zM771.9 334.6l2.4 2.4l-2.4 2.4l-2.4 -2.4zM766.4 347.9l2.4 2.4l-2.4 2.4l-2.4 -2.4zM765.7 345.1l2.4 2.4l-2.4 2.4l-2.4 -2.4zM768.3 323l2.4 2.4l-2.4 2.4l-2.4 -2.4zM770.9 334.9l2.4 2.4l-2.4 2.4l-2.4 -2.4zM765 357.6l2.4 2.4l-2.4 2.4l-2.4 -2.4zM771.1 342.5l2.4 2.4l-2.4 2.4l-2.4 -2.4zM761.2 335.6l2.4 2.4l-2.4 2.4l-2.4 -2.4zM773.6 349.2l2.4 2.4l-2.4 2.4l-2.4 -2.4zM770.2 374.6l2.4 2.4l-2.4 2.4l-2.4 -2.4zM769.8 370l2.4 2.4l-2.4 2.4l-2.4 -2.4zM765.5 382.7l2.4 2.4l-2.4 2.4l-2.4 -2.4zM768.8 405.4l2.4 2.4l-2.4 2.4l-2.4 -2.4zM764.8 424.9l2.4 2.4l-2.4 2.4l-2.4 -2.4zM770.4 374.1l2.4 2.4l-2.4 2.4l-2.4 -2.4zM761.6 383.4l2.4 2.4l-2.4 2.4l-2.4 -2.4zM765.5 397.2l2.4 2.4l-2.4 2.4l-2.4 -2.4zM764.6 384l2.4 2.4l-2.4 2.4l-2.4 -2.4zM774.5 380.6l2.4 2.4l-2.4 2.4l-2.4 -2.4zM769.3 416.4l2.4 2.4l-2.4 2.4l-2.4 -2.4zM769.7 196l2.4 2.4l-2.4 2.4l-2.4 -2.4zM765 440.3l2.4 2.4l-2.4 2.4l-2.4 -2.4z" fill="#128A64"/>
<line x1="888" y1="790" x2="888" y2="854.4" stroke="#9a9a9a" stroke-width="1.25"/>
<line x1="888" y1="894.1" x2="888" y2="953.9" stroke="#9a9a9a" stroke-width="1.25"/>
<rect x="874.2" y="854.4" width="27.7" height="39.7" fill="#e9e9e9" stroke="#9a9a9a" stroke-width="1.5"/>
<line x1="874.2" y1="875.8" x2="901.9" y2="875.8" stroke="#9a9a9a" stroke-width="3.1"/>
<path d="M897.1 826.7l2.4 2.4l-2.4 2.4l-2.4 -2.4zM888.9 794.1l2.4 2.4l-2.4 2.4l-2.4 -2.4zM893.4 805.5l2.4 2.4l-2.4 2.4l-2.4 -2.4zM888.4 849.3l2.4 2.4l-2.4 2.4l-2.4 -2.4zM889.5 854.2l2.4 2.4l-2.4 2.4l-2.4 -2.4zM892.2 863.6l2.4 2.4l-2.4 2.4l-2.4 -2.4zM890.7 863l2.4 2.4l-2.4 2.4l-2.4 -2.4zM888.5 869.7l2.4 2.4l-2.4 2.4l-2.4 -2.4zM896.6 880.9l2.4 2.4l-2.4 2.4l-2.4 -2.4zM891.6 877.2l2.4 2.4l-2.4 2.4l-2.4 -2.4zM893 880.6l2.4 2.4l-2.4 2.4l-2.4 -2.4zM897.3 875.6l2.4 2.4l-2.4 2.4l-2.4 -2.4zM879.6 922.5l2.4 2.4l-2.4 2.4l-2.4 -2.4zM886.1 927.3l2.4 2.4l-2.4 2.4l-2.4 -2.4zM886.5 948.6l2.4 2.4l-2.4 2.4l-2.4 -2.4zM891.8 918.9l2.4 2.4l-2.4 2.4l-2.4 -2.4zM886.3 787.6l2.4 2.4l-2.4 2.4l-2.4 -2.4zM885.2 951.5l2.4 2.4l-2.4 2.4l-2.4 -2.4z" fill="#969696"/>
<line x1="920.6" y1="734.2" x2="920.6" y2="814.1" stroke="#DBA626" stroke-width="1.3"/>
<line x1="920.6" y1="890.1" x2="920.6" y2="937.4" stroke="#DBA626" stroke-width="1.3"/>
<rect x="906.8" y="814.1" width="27.6" height="76" fill="#fbeacb" stroke="#DBA626" stroke-width="1.55"/>
<line x1="906.8" y1="822" x2="934.4" y2="822" stroke="#DBA626" stroke-width="3.1"/>
<path d="M925.2 759.9l2.4 2.4l-2.4 2.4l-2.4 -2.4zM921.1 808.3l2.4 2.4l-2.4 2.4l-2.4 -2.4zM926.3 759.4l2.4 2.4l-2.4 2.4l-2.4 -2.4zM915.1 773.3l2.4 2.4l-2.4 2.4l-2.4 -2.4zM925.9 750.9l2.4 2.4l-2.4 2.4l-2.4 -2.4zM923.2 800.7l2.4 2.4l-2.4 2.4l-2.4 -2.4zM921.8 778.8l2.4 2.4l-2.4 2.4l-2.4 -2.4zM929.4 813.5l2.4 2.4l-2.4 2.4l-2.4 -2.4zM923.2 814.5l2.4 2.4l-2.4 2.4l-2.4 -2.4zM926.6 818.2l2.4 2.4l-2.4 2.4l-2.4 -2.4zM916.7 815.4l2.4 2.4l-2.4 2.4l-2.4 -2.4zM913.5 816l2.4 2.4l-2.4 2.4l-2.4 -2.4zM917.8 818.3l2.4 2.4l-2.4 2.4l-2.4 -2.4zM916.2 818.4l2.4 2.4l-2.4 2.4l-2.4 -2.4zM915.9 845.2l2.4 2.4l-2.4 2.4l-2.4 -2.4zM914.6 848.6l2.4 2.4l-2.4 2.4l-2.4 -2.4zM924.8 819.8l2.4 2.4l-2.4 2.4l-2.4 -2.4zM915.8 838.8l2.4 2.4l-2.4 2.4l-2.4 -2.4zM920.2 840.2l2.4 2.4l-2.4 2.4l-2.4 -2.4zM923.2 848.8l2.4 2.4l-2.4 2.4l-2.4 -2.4zM918 864.5l2.4 2.4l-2.4 2.4l-2.4 -2.4zM927.3 890.1l2.4 2.4l-2.4 2.4l-2.4 -2.4zM926.8 928.6l2.4 2.4l-2.4 2.4l-2.4 -2.4zM926 890.9l2.4 2.4l-2.4 2.4l-2.4 -2.4zM926.9 923l2.4 2.4l-2.4 2.4l-2.4 -2.4zM911.4 900.7l2.4 2.4l-2.4 2.4l-2.4 -2.4zM929.2 932.9l2.4 2.4l-2.4 2.4l-2.4 -2.4zM915.9 899.8l2.4 2.4l-2.4 2.4l-2.4 -2.4zM915.8 731.8l2.4 2.4l-2.4 2.4l-2.4 -2.4zM916.3 935l2.4 2.4l-2.4 2.4l-2.4 -2.4z" fill="#D6A227"/>
<line x1="951.3" y1="764" x2="951.3" y2="804.8" stroke="#6FB1DD" stroke-width="1.25"/>
<line x1="951.3" y1="875.1" x2="951.3" y2="894.5" stroke="#6FB1DD" stroke-width="1.25"/>
<rect x="938" y="804.8" width="26.6" height="70.3" fill="#dcedfa" stroke="#6FB1DD" stroke-width="1.5"/>
<line x1="938" y1="828" x2="964.6" y2="828" stroke="#6FB1DD" stroke-width="3.1"/>
<path d="M956.5 776.3l2.4 2.4l-2.4 2.4l-2.4 -2.4zM944.7 781l2.4 2.4l-2.4 2.4l-2.4 -2.4zM956.8 799.6l2.4 2.4l-2.4 2.4l-2.4 -2.4zM958.7 773.3l2.4 2.4l-2.4 2.4l-2.4 -2.4zM956.6 790.4l2.4 2.4l-2.4 2.4l-2.4 -2.4zM958.8 792.4l2.4 2.4l-2.4 2.4l-2.4 -2.4zM957.7 820.7l2.4 2.4l-2.4 2.4l-2.4 -2.4zM955 807l2.4 2.4l-2.4 2.4l-2.4 -2.4zM955.9 814.7l2.4 2.4l-2.4 2.4l-2.4 -2.4zM958.6 812.6l2.4 2.4l-2.4 2.4l-2.4 -2.4zM946.8 815.3l2.4 2.4l-2.4 2.4l-2.4 -2.4zM944.4 807.8l2.4 2.4l-2.4 2.4l-2.4 -2.4zM942.9 848.8l2.4 2.4l-2.4 2.4l-2.4 -2.4zM944.5 847.6l2.4 2.4l-2.4 2.4l-2.4 -2.4zM951.3 848.7l2.4 2.4l-2.4 2.4l-2.4 -2.4zM958.2 851l2.4 2.4l-2.4 2.4l-2.4 -2.4zM957.8 825.9l2.4 2.4l-2.4 2.4l-2.4 -2.4zM952.5 847.6l2.4 2.4l-2.4 2.4l-2.4 -2.4zM957.8 877.5l2.4 2.4l-2.4 2.4l-2.4 -2.4zM949.8 882.3l2.4 2.4l-2.4 2.4l-2.4 -2.4zM943.2 873.2l2.4 2.4l-2.4 2.4l-2.4 -2.4zM953.9 878l2.4 2.4l-2.4 2.4l-2.4 -2.4zM953.4 890.5l2.4 2.4l-2.4 2.4l-2.4 -2.4zM959.5 877.3l2.4 2.4l-2.4 2.4l-2.4 -2.4zM949.3 761.6l2.4 2.4l-2.4 2.4l-2.4 -2.4zM957.1 892.1l2.4 2.4l-2.4 2.4l-2.4 -2.4z" fill="#66A8D8"/>
<line x1="982.7" y1="764" x2="982.7" y2="783.9" stroke="#18926A" stroke-width="1.6"/>
<line x1="982.7" y1="915.4" x2="982.7" y2="1040.2" stroke="#18926A" stroke-width="1.6"/>
<rect x="969.5" y="783.9" width="26.4" height="131.5" fill="#cbeae0" stroke="#18926A" stroke-width="1.85"/>
<line x1="969.5" y1="847.2" x2="995.9" y2="847.2" stroke="#18926A" stroke-width="3.1"/>
<path d="M982.4 774l2.4 2.4l-2.4 2.4l-2.4 -2.4zM973.8 780.1l2.4 2.4l-2.4 2.4l-2.4 -2.4zM985.1 777.4l2.4 2.4l-2.4 2.4l-2.4 -2.4zM989.6 802.9l2.4 2.4l-2.4 2.4l-2.4 -2.4zM982.2 804.7l2.4 2.4l-2.4 2.4l-2.4 -2.4zM987.8 814.8l2.4 2.4l-2.4 2.4l-2.4 -2.4zM981.5 859.2l2.4 2.4l-2.4 2.4l-2.4 -2.4zM983.7 873.6l2.4 2.4l-2.4 2.4l-2.4 -2.4zM978.8 901.2l2.4 2.4l-2.4 2.4l-2.4 -2.4zM980.9 928.5l2.4 2.4l-2.4 2.4l-2.4 -2.4zM978.4 960.6l2.4 2.4l-2.4 2.4l-2.4 -2.4zM991.7 960.3l2.4 2.4l-2.4 2.4l-2.4 -2.4zM984.6 761.6l2.4 2.4l-2.4 2.4l-2.4 -2.4zM986.2 1037.8l2.4 2.4l-2.4 2.4l-2.4 -2.4z" fill="#128A64"/>
<line x1="1055.9" y1="701.2" x2="1055.9" y2="785.4" stroke="#9a9a9a" stroke-width="1.25"/>
<line x1="1055.9" y1="854.4" x2="1055.9" y2="949.5" stroke="#9a9a9a" stroke-width="1.25"/>
<rect x="1042.2" y="785.4" width="27.4" height="69" fill="#e9e9e9" stroke="#9a9a9a" stroke-width="1.5"/>
<line x1="1042.2" y1="819.3" x2="1069.6" y2="819.3" stroke="#9a9a9a" stroke-width="3.1"/>
<path d="M1052.4 737.6l2.4 2.4l-2.4 2.4l-2.4 -2.4zM1057.5 735l2.4 2.4l-2.4 2.4l-2.4 -2.4zM1061.3 760.1l2.4 2.4l-2.4 2.4l-2.4 -2.4zM1060.1 707.7l2.4 2.4l-2.4 2.4l-2.4 -2.4zM1056.8 776.1l2.4 2.4l-2.4 2.4l-2.4 -2.4zM1052.1 709.1l2.4 2.4l-2.4 2.4l-2.4 -2.4zM1050 701.2l2.4 2.4l-2.4 2.4l-2.4 -2.4zM1058 778.3l2.4 2.4l-2.4 2.4l-2.4 -2.4zM1061.4 761.6l2.4 2.4l-2.4 2.4l-2.4 -2.4zM1058 813.8l2.4 2.4l-2.4 2.4l-2.4 -2.4zM1058.3 803.9l2.4 2.4l-2.4 2.4l-2.4 -2.4zM1057.7 806.6l2.4 2.4l-2.4 2.4l-2.4 -2.4zM1050.4 806.1l2.4 2.4l-2.4 2.4l-2.4 -2.4zM1055.1 805.6l2.4 2.4l-2.4 2.4l-2.4 -2.4zM1048.3 808.9l2.4 2.4l-2.4 2.4l-2.4 -2.4zM1047.1 789.1l2.4 2.4l-2.4 2.4l-2.4 -2.4zM1063.8 809.3l2.4 2.4l-2.4 2.4l-2.4 -2.4zM1053.4 805.2l2.4 2.4l-2.4 2.4l-2.4 -2.4zM1061.3 845.8l2.4 2.4l-2.4 2.4l-2.4 -2.4zM1051.3 836.6l2.4 2.4l-2.4 2.4l-2.4 -2.4zM1054.4 827.5l2.4 2.4l-2.4 2.4l-2.4 -2.4zM1054.6 828.1l2.4 2.4l-2.4 2.4l-2.4 -2.4zM1064.1 839.4l2.4 2.4l-2.4 2.4l-2.4 -2.4zM1057.2 818.8l2.4 2.4l-2.4 2.4l-2.4 -2.4zM1048.7 818.3l2.4 2.4l-2.4 2.4l-2.4 -2.4zM1057.3 845.3l2.4 2.4l-2.4 2.4l-2.4 -2.4zM1054.9 849.1l2.4 2.4l-2.4 2.4l-2.4 -2.4zM1053.8 942.3l2.4 2.4l-2.4 2.4l-2.4 -2.4zM1064.2 881.2l2.4 2.4l-2.4 2.4l-2.4 -2.4zM1055.4 853.3l2.4 2.4l-2.4 2.4l-2.4 -2.4zM1048.3 895.9l2.4 2.4l-2.4 2.4l-2.4 -2.4zM1050.4 877.2l2.4 2.4l-2.4 2.4l-2.4 -2.4zM1046.7 921.7l2.4 2.4l-2.4 2.4l-2.4 -2.4zM1059.4 944.8l2.4 2.4l-2.4 2.4l-2.4 -2.4zM1064.8 925.3l2.4 2.4l-2.4 2.4l-2.4 -2.4zM1062.9 929.7l2.4 2.4l-2.4 2.4l-2.4 -2.4zM1051.4 698.8l2.4 2.4l-2.4 2.4l-2.4 -2.4zM1050.1 947.1l2.4 2.4l-2.4 2.4l-2.4 -2.4z" fill="#969696"/>
<line x1="1087.4" y1="766.1" x2="1087.4" y2="798.7" stroke="#DBA626" stroke-width="1.3"/>
<line x1="1087.4" y1="839" x2="1087.4" y2="898.9" stroke="#DBA626" stroke-width="1.3"/>
<rect x="1075.2" y="798.7" width="24.4" height="40.3" fill="#fbeacb" stroke="#DBA626" stroke-width="1.55"/>
<line x1="1075.2" y1="817" x2="1099.6" y2="817" stroke="#DBA626" stroke-width="3.1"/>
<path d="M1082.5 789.6l2.4 2.4l-2.4 2.4l-2.4 -2.4zM1081.5 789.9l2.4 2.4l-2.4 2.4l-2.4 -2.4zM1092.6 767.7l2.4 2.4l-2.4 2.4l-2.4 -2.4zM1094.2 789.4l2.4 2.4l-2.4 2.4l-2.4 -2.4zM1079.5 789.8l2.4 2.4l-2.4 2.4l-2.4 -2.4zM1091.4 787.3l2.4 2.4l-2.4 2.4l-2.4 -2.4zM1095.6 782.6l2.4 2.4l-2.4 2.4l-2.4 -2.4zM1096.2 800.9l2.4 2.4l-2.4 2.4l-2.4 -2.4zM1078.1 809.4l2.4 2.4l-2.4 2.4l-2.4 -2.4zM1090.3 796.6l2.4 2.4l-2.4 2.4l-2.4 -2.4zM1079.4 811.3l2.4 2.4l-2.4 2.4l-2.4 -2.4zM1091.8 802l2.4 2.4l-2.4 2.4l-2.4 -2.4zM1094.3 799.3l2.4 2.4l-2.4 2.4l-2.4 -2.4zM1079 805.2l2.4 2.4l-2.4 2.4l-2.4 -2.4zM1088.8 822.7l2.4 2.4l-2.4 2.4l-2.4 -2.4zM1090.8 824.3l2.4 2.4l-2.4 2.4l-2.4 -2.4zM1093 817.8l2.4 2.4l-2.4 2.4l-2.4 -2.4zM1090.2 822.6l2.4 2.4l-2.4 2.4l-2.4 -2.4zM1085.8 828.5l2.4 2.4l-2.4 2.4l-2.4 -2.4zM1092.8 823.1l2.4 2.4l-2.4 2.4l-2.4 -2.4zM1092.8 835.4l2.4 2.4l-2.4 2.4l-2.4 -2.4zM1083.5 856.2l2.4 2.4l-2.4 2.4l-2.4 -2.4zM1096.4 888.1l2.4 2.4l-2.4 2.4l-2.4 -2.4zM1093.6 849.7l2.4 2.4l-2.4 2.4l-2.4 -2.4zM1089.4 868.8l2.4 2.4l-2.4 2.4l-2.4 -2.4zM1093.7 837.5l2.4 2.4l-2.4 2.4l-2.4 -2.4zM1083.8 854.6l2.4 2.4l-2.4 2.4l-2.4 -2.4zM1094.8 863.4l2.4 2.4l-2.4 2.4l-2.4 -2.4zM1085.9 763.7l2.4 2.4l-2.4 2.4l-2.4 -2.4zM1089.6 896.5l2.4 2.4l-2.4 2.4l-2.4 -2.4zM1088.7 705.4l2.4 2.4l-2.4 2.4l-2.4 -2.4zM1087.6 731.8l2.4 2.4l-2.4 2.4l-2.4 -2.4zM1082 907.6l2.4 2.4l-2.4 2.4l-2.4 -2.4zM1091 912.4l2.4 2.4l-2.4 2.4l-2.4 -2.4z" fill="#D6A227"/>
<line x1="1119" y1="721" x2="1119" y2="793.1" stroke="#6FB1DD" stroke-width="1.25"/>
<line x1="1119" y1="850.5" x2="1119" y2="936.8" stroke="#6FB1DD" stroke-width="1.25"/>
<rect x="1104.8" y="793.1" width="28.3" height="57.4" fill="#dcedfa" stroke="#6FB1DD" stroke-width="1.5"/>
<line x1="1104.8" y1="819.5" x2="1133.1" y2="819.5" stroke="#6FB1DD" stroke-width="3.1"/>
<path d="M1126.5 769.1l2.4 2.4l-2.4 2.4l-2.4 -2.4zM1114.8 780.7l2.4 2.4l-2.4 2.4l-2.4 -2.4zM1114.4 719.4l2.4 2.4l-2.4 2.4l-2.4 -2.4zM1120.6 758l2.4 2.4l-2.4 2.4l-2.4 -2.4zM1126.3 781.1l2.4 2.4l-2.4 2.4l-2.4 -2.4zM1125.3 726.5l2.4 2.4l-2.4 2.4l-2.4 -2.4zM1125.9 780.9l2.4 2.4l-2.4 2.4l-2.4 -2.4zM1114.7 767.4l2.4 2.4l-2.4 2.4l-2.4 -2.4zM1124.8 783l2.4 2.4l-2.4 2.4l-2.4 -2.4zM1126.8 808.8l2.4 2.4l-2.4 2.4l-2.4 -2.4zM1111.1 799.9l2.4 2.4l-2.4 2.4l-2.4 -2.4zM1124.6 805.3l2.4 2.4l-2.4 2.4l-2.4 -2.4zM1123.7 796l2.4 2.4l-2.4 2.4l-2.4 -2.4zM1113.9 815.3l2.4 2.4l-2.4 2.4l-2.4 -2.4zM1122.3 806.7l2.4 2.4l-2.4 2.4l-2.4 -2.4zM1113.4 803l2.4 2.4l-2.4 2.4l-2.4 -2.4zM1123.7 797.4l2.4 2.4l-2.4 2.4l-2.4 -2.4zM1118.2 811.6l2.4 2.4l-2.4 2.4l-2.4 -2.4zM1124.8 819.8l2.4 2.4l-2.4 2.4l-2.4 -2.4zM1113.9 841l2.4 2.4l-2.4 2.4l-2.4 -2.4zM1126.5 835.1l2.4 2.4l-2.4 2.4l-2.4 -2.4zM1119.4 844.5l2.4 2.4l-2.4 2.4l-2.4 -2.4zM1120.6 831.9l2.4 2.4l-2.4 2.4l-2.4 -2.4zM1113.1 823l2.4 2.4l-2.4 2.4l-2.4 -2.4zM1122.8 822.7l2.4 2.4l-2.4 2.4l-2.4 -2.4zM1120.2 828.3l2.4 2.4l-2.4 2.4l-2.4 -2.4zM1119.3 829.6l2.4 2.4l-2.4 2.4l-2.4 -2.4zM1110.3 911.6l2.4 2.4l-2.4 2.4l-2.4 -2.4zM1116.6 848.3l2.4 2.4l-2.4 2.4l-2.4 -2.4zM1121.5 916.5l2.4 2.4l-2.4 2.4l-2.4 -2.4zM1112.4 861.4l2.4 2.4l-2.4 2.4l-2.4 -2.4zM1116 874.2l2.4 2.4l-2.4 2.4l-2.4 -2.4zM1109.8 879.8l2.4 2.4l-2.4 2.4l-2.4 -2.4zM1128.3 926.4l2.4 2.4l-2.4 2.4l-2.4 -2.4zM1118.7 856.4l2.4 2.4l-2.4 2.4l-2.4 -2.4zM1114.4 876.4l2.4 2.4l-2.4 2.4l-2.4 -2.4zM1122.3 718.6l2.4 2.4l-2.4 2.4l-2.4 -2.4zM1118.1 934.4l2.4 2.4l-2.4 2.4l-2.4 -2.4z" fill="#66A8D8"/>
<line x1="1149.6" y1="723.2" x2="1149.6" y2="768.3" stroke="#18926A" stroke-width="1.6"/>
<line x1="1149.6" y1="814.1" x2="1149.6" y2="875.8" stroke="#18926A" stroke-width="1.6"/>
<rect x="1135.8" y="768.3" width="27.6" height="45.8" fill="#cbeae0" stroke="#18926A" stroke-width="1.85"/>
<line x1="1135.8" y1="791.8" x2="1163.4" y2="791.8" stroke="#18926A" stroke-width="3.1"/>
<path d="M1154.7 764.2l2.4 2.4l-2.4 2.4l-2.4 -2.4zM1158.4 760l2.4 2.4l-2.4 2.4l-2.4 -2.4zM1140.8 738.1l2.4 2.4l-2.4 2.4l-2.4 -2.4zM1143.5 735.5l2.4 2.4l-2.4 2.4l-2.4 -2.4zM1141.1 728.7l2.4 2.4l-2.4 2.4l-2.4 -2.4zM1156.6 750.8l2.4 2.4l-2.4 2.4l-2.4 -2.4zM1158.1 746.9l2.4 2.4l-2.4 2.4l-2.4 -2.4zM1141.3 763l2.4 2.4l-2.4 2.4l-2.4 -2.4zM1147.7 752.3l2.4 2.4l-2.4 2.4l-2.4 -2.4zM1158.3 768.7l2.4 2.4l-2.4 2.4l-2.4 -2.4zM1150.8 771.9l2.4 2.4l-2.4 2.4l-2.4 -2.4zM1158.3 781l2.4 2.4l-2.4 2.4l-2.4 -2.4zM1147.6 781.6l2.4 2.4l-2.4 2.4l-2.4 -2.4zM1143.1 776.4l2.4 2.4l-2.4 2.4l-2.4 -2.4zM1158.9 788.6l2.4 2.4l-2.4 2.4l-2.4 -2.4zM1140.8 771.1l2.4 2.4l-2.4 2.4l-2.4 -2.4zM1146.8 771.9l2.4 2.4l-2.4 2.4l-2.4 -2.4zM1157.3 787.1l2.4 2.4l-2.4 2.4l-2.4 -2.4zM1141 808.1l2.4 2.4l-2.4 2.4l-2.4 -2.4zM1153.6 806.9l2.4 2.4l-2.4 2.4l-2.4 -2.4zM1158.8 803.8l2.4 2.4l-2.4 2.4l-2.4 -2.4zM1142.9 790.6l2.4 2.4l-2.4 2.4l-2.4 -2.4zM1157.9 806.2l2.4 2.4l-2.4 2.4l-2.4 -2.4zM1145.8 804.5l2.4 2.4l-2.4 2.4l-2.4 -2.4zM1154.5 802.6l2.4 2.4l-2.4 2.4l-2.4 -2.4zM1146.3 791.8l2.4 2.4l-2.4 2.4l-2.4 -2.4zM1142.5 795.1l2.4 2.4l-2.4 2.4l-2.4 -2.4zM1143.3 836.4l2.4 2.4l-2.4 2.4l-2.4 -2.4zM1142.8 850.8l2.4 2.4l-2.4 2.4l-2.4 -2.4zM1140.3 826.4l2.4 2.4l-2.4 2.4l-2.4 -2.4zM1143.8 824.5l2.4 2.4l-2.4 2.4l-2.4 -2.4zM1157.7 867.4l2.4 2.4l-2.4 2.4l-2.4 -2.4zM1157.8 852l2.4 2.4l-2.4 2.4l-2.4 -2.4zM1157 817.6l2.4 2.4l-2.4 2.4l-2.4 -2.4zM1148.6 857.8l2.4 2.4l-2.4 2.4l-2.4 -2.4zM1157.7 861.4l2.4 2.4l-2.4 2.4l-2.4 -2.4zM1153.7 720.8l2.4 2.4l-2.4 2.4l-2.4 -2.4zM1151.1 873.4l2.4 2.4l-2.4 2.4l-2.4 -2.4z" fill="#128A64"/>
<line x1="1223.3" y1="758.4" x2="1223.3" y2="799" stroke="#9a9a9a" stroke-width="1.25"/>
<line x1="1223.3" y1="846.5" x2="1223.3" y2="918.7" stroke="#9a9a9a" stroke-width="1.25"/>
<rect x="1209.8" y="799" width="27.1" height="47.5" fill="#e9e9e9" stroke="#9a9a9a" stroke-width="1.5"/>
<line x1="1209.8" y1="815.1" x2="1236.9" y2="815.1" stroke="#9a9a9a" stroke-width="3.1"/>
<path d="M1220.3 779.3l2.4 2.4l-2.4 2.4l-2.4 -2.4zM1222.9 791.4l2.4 2.4l-2.4 2.4l-2.4 -2.4zM1216.6 785.3l2.4 2.4l-2.4 2.4l-2.4 -2.4zM1214.9 770.1l2.4 2.4l-2.4 2.4l-2.4 -2.4zM1224.4 788.1l2.4 2.4l-2.4 2.4l-2.4 -2.4zM1230.4 766.5l2.4 2.4l-2.4 2.4l-2.4 -2.4zM1221.7 772.1l2.4 2.4l-2.4 2.4l-2.4 -2.4zM1219 767l2.4 2.4l-2.4 2.4l-2.4 -2.4zM1220.2 791.9l2.4 2.4l-2.4 2.4l-2.4 -2.4zM1223.2 799.3l2.4 2.4l-2.4 2.4l-2.4 -2.4zM1231 801.7l2.4 2.4l-2.4 2.4l-2.4 -2.4zM1232.4 798.4l2.4 2.4l-2.4 2.4l-2.4 -2.4zM1230.9 797.5l2.4 2.4l-2.4 2.4l-2.4 -2.4zM1217.9 807.4l2.4 2.4l-2.4 2.4l-2.4 -2.4zM1219.3 804.3l2.4 2.4l-2.4 2.4l-2.4 -2.4zM1217.7 800.8l2.4 2.4l-2.4 2.4l-2.4 -2.4zM1232.7 802.5l2.4 2.4l-2.4 2.4l-2.4 -2.4zM1231.4 812.7l2.4 2.4l-2.4 2.4l-2.4 -2.4zM1219.3 815.8l2.4 2.4l-2.4 2.4l-2.4 -2.4zM1214.9 840.8l2.4 2.4l-2.4 2.4l-2.4 -2.4zM1219.4 835.5l2.4 2.4l-2.4 2.4l-2.4 -2.4zM1214.2 843.4l2.4 2.4l-2.4 2.4l-2.4 -2.4zM1220.3 838l2.4 2.4l-2.4 2.4l-2.4 -2.4zM1213.9 817.1l2.4 2.4l-2.4 2.4l-2.4 -2.4zM1223.9 838.8l2.4 2.4l-2.4 2.4l-2.4 -2.4zM1222.1 818.5l2.4 2.4l-2.4 2.4l-2.4 -2.4zM1218 841.3l2.4 2.4l-2.4 2.4l-2.4 -2.4zM1216.5 867.5l2.4 2.4l-2.4 2.4l-2.4 -2.4zM1228.5 894.6l2.4 2.4l-2.4 2.4l-2.4 -2.4zM1217.6 859.4l2.4 2.4l-2.4 2.4l-2.4 -2.4zM1215.5 904.1l2.4 2.4l-2.4 2.4l-2.4 -2.4zM1223.3 865.3l2.4 2.4l-2.4 2.4l-2.4 -2.4zM1217.8 887.1l2.4 2.4l-2.4 2.4l-2.4 -2.4zM1227.3 865.1l2.4 2.4l-2.4 2.4l-2.4 -2.4zM1224.9 853.9l2.4 2.4l-2.4 2.4l-2.4 -2.4zM1215.1 892.7l2.4 2.4l-2.4 2.4l-2.4 -2.4zM1226.1 756l2.4 2.4l-2.4 2.4l-2.4 -2.4zM1222.2 916.3l2.4 2.4l-2.4 2.4l-2.4 -2.4z" fill="#969696"/>
<line x1="1254.1" y1="764" x2="1254.1" y2="794.9" stroke="#DBA626" stroke-width="1.3"/>
<line x1="1254.1" y1="818.5" x2="1254.1" y2="839.4" stroke="#DBA626" stroke-width="1.3"/>
<rect x="1240.2" y="794.9" width="27.7" height="23.6" fill="#fbeacb" stroke="#DBA626" stroke-width="1.55"/>
<line x1="1240.2" y1="814.5" x2="1267.9" y2="814.5" stroke="#DBA626" stroke-width="3.1"/>
<path d="M1245.6 786.2l2.4 2.4l-2.4 2.4l-2.4 -2.4zM1250.9 788.3l2.4 2.4l-2.4 2.4l-2.4 -2.4zM1261 789l2.4 2.4l-2.4 2.4l-2.4 -2.4zM1244.8 780.4l2.4 2.4l-2.4 2.4l-2.4 -2.4zM1253.6 790.5l2.4 2.4l-2.4 2.4l-2.4 -2.4zM1249.6 789.7l2.4 2.4l-2.4 2.4l-2.4 -2.4zM1260.4 796.1l2.4 2.4l-2.4 2.4l-2.4 -2.4zM1247.7 799.7l2.4 2.4l-2.4 2.4l-2.4 -2.4zM1255.9 799.8l2.4 2.4l-2.4 2.4l-2.4 -2.4zM1254.4 792.6l2.4 2.4l-2.4 2.4l-2.4 -2.4zM1254.3 801.2l2.4 2.4l-2.4 2.4l-2.4 -2.4zM1258.1 794.9l2.4 2.4l-2.4 2.4l-2.4 -2.4zM1261 815.4l2.4 2.4l-2.4 2.4l-2.4 -2.4zM1258.1 813.4l2.4 2.4l-2.4 2.4l-2.4 -2.4zM1258.8 813.6l2.4 2.4l-2.4 2.4l-2.4 -2.4zM1261.1 812.3l2.4 2.4l-2.4 2.4l-2.4 -2.4zM1254 815.9l2.4 2.4l-2.4 2.4l-2.4 -2.4zM1254.6 814.2l2.4 2.4l-2.4 2.4l-2.4 -2.4zM1244.9 823.5l2.4 2.4l-2.4 2.4l-2.4 -2.4zM1248.8 816.6l2.4 2.4l-2.4 2.4l-2.4 -2.4zM1246.5 830.6l2.4 2.4l-2.4 2.4l-2.4 -2.4zM1260.1 829.1l2.4 2.4l-2.4 2.4l-2.4 -2.4zM1246.4 835.2l2.4 2.4l-2.4 2.4l-2.4 -2.4zM1248.3 820.7l2.4 2.4l-2.4 2.4l-2.4 -2.4zM1248.3 761.6l2.4 2.4l-2.4 2.4l-2.4 -2.4zM1255.2 837l2.4 2.4l-2.4 2.4l-2.4 -2.4zM1254.9 872.7l2.4 2.4l-2.4 2.4l-2.4 -2.4zM1247 880.6l2.4 2.4l-2.4 2.4l-2.4 -2.4zM1252.6 880l2.4 2.4l-2.4 2.4l-2.4 -2.4zM1258 745.6l2.4 2.4l-2.4 2.4l-2.4 -2.4z" fill="#D6A227"/>
<line x1="1286.8" y1="746.3" x2="1286.8" y2="787.7" stroke="#6FB1DD" stroke-width="1.25"/>
<line x1="1286.8" y1="821.4" x2="1286.8" y2="868" stroke="#6FB1DD" stroke-width="1.25"/>
<rect x="1273.3" y="787.7" width="26.9" height="33.7" fill="#dcedfa" stroke="#6FB1DD" stroke-width="1.5"/>
<line x1="1273.3" y1="789.2" x2="1300.2" y2="789.2" stroke="#6FB1DD" stroke-width="3.1"/>
<path d="M1287.2 772.1l2.4 2.4l-2.4 2.4l-2.4 -2.4zM1279.2 776.2l2.4 2.4l-2.4 2.4l-2.4 -2.4zM1290.9 781.4l2.4 2.4l-2.4 2.4l-2.4 -2.4zM1279.6 748.6l2.4 2.4l-2.4 2.4l-2.4 -2.4zM1286.8 769.2l2.4 2.4l-2.4 2.4l-2.4 -2.4zM1279.6 760.9l2.4 2.4l-2.4 2.4l-2.4 -2.4zM1279.9 765.9l2.4 2.4l-2.4 2.4l-2.4 -2.4zM1293.6 786.2l2.4 2.4l-2.4 2.4l-2.4 -2.4zM1288.1 785.5l2.4 2.4l-2.4 2.4l-2.4 -2.4zM1280.4 786.4l2.4 2.4l-2.4 2.4l-2.4 -2.4zM1295.1 786.5l2.4 2.4l-2.4 2.4l-2.4 -2.4zM1285.2 785.9l2.4 2.4l-2.4 2.4l-2.4 -2.4zM1287.2 786.6l2.4 2.4l-2.4 2.4l-2.4 -2.4zM1295.1 785.9l2.4 2.4l-2.4 2.4l-2.4 -2.4zM1283.7 811.8l2.4 2.4l-2.4 2.4l-2.4 -2.4zM1283.6 794.5l2.4 2.4l-2.4 2.4l-2.4 -2.4zM1295.9 800.8l2.4 2.4l-2.4 2.4l-2.4 -2.4zM1294.6 812.7l2.4 2.4l-2.4 2.4l-2.4 -2.4zM1293.4 813l2.4 2.4l-2.4 2.4l-2.4 -2.4zM1287.1 788.5l2.4 2.4l-2.4 2.4l-2.4 -2.4zM1295 817.6l2.4 2.4l-2.4 2.4l-2.4 -2.4zM1285.3 848l2.4 2.4l-2.4 2.4l-2.4 -2.4zM1284.2 831.8l2.4 2.4l-2.4 2.4l-2.4 -2.4zM1278.6 835.7l2.4 2.4l-2.4 2.4l-2.4 -2.4zM1286.8 839.7l2.4 2.4l-2.4 2.4l-2.4 -2.4zM1279.9 862.5l2.4 2.4l-2.4 2.4l-2.4 -2.4zM1292 820l2.4 2.4l-2.4 2.4l-2.4 -2.4zM1289.3 821.1l2.4 2.4l-2.4 2.4l-2.4 -2.4zM1290.5 743.9l2.4 2.4l-2.4 2.4l-2.4 -2.4zM1291.4 865.6l2.4 2.4l-2.4 2.4l-2.4 -2.4zM1285.7 876.6l2.4 2.4l-2.4 2.4l-2.4 -2.4zM1289 892.1l2.4 2.4l-2.4 2.4l-2.4 -2.4zM1289 899.1l2.4 2.4l-2.4 2.4l-2.4 -2.4z" fill="#66A8D8"/>
<line x1="1317.5" y1="701.2" x2="1317.5" y2="760.6" stroke="#18926A" stroke-width="1.6"/>
<line x1="1317.5" y1="827.3" x2="1317.5" y2="887.9" stroke="#18926A" stroke-width="1.6"/>
<rect x="1303.4" y="760.6" width="28.2" height="66.7" fill="#cbeae0" stroke="#18926A" stroke-width="1.85"/>
<line x1="1303.4" y1="786.8" x2="1331.6" y2="786.8" stroke="#18926A" stroke-width="3.1"/>
<path d="M1308.7 753.3l2.4 2.4l-2.4 2.4l-2.4 -2.4zM1313 742.3l2.4 2.4l-2.4 2.4l-2.4 -2.4zM1313.2 744.1l2.4 2.4l-2.4 2.4l-2.4 -2.4zM1325.6 737.5l2.4 2.4l-2.4 2.4l-2.4 -2.4zM1312.8 741.4l2.4 2.4l-2.4 2.4l-2.4 -2.4zM1316.2 736.4l2.4 2.4l-2.4 2.4l-2.4 -2.4zM1313.5 756.1l2.4 2.4l-2.4 2.4l-2.4 -2.4zM1320.3 724.7l2.4 2.4l-2.4 2.4l-2.4 -2.4zM1319.3 712.3l2.4 2.4l-2.4 2.4l-2.4 -2.4zM1317.8 756.4l2.4 2.4l-2.4 2.4l-2.4 -2.4zM1316.9 765.2l2.4 2.4l-2.4 2.4l-2.4 -2.4zM1310.8 772.2l2.4 2.4l-2.4 2.4l-2.4 -2.4zM1310.5 761.4l2.4 2.4l-2.4 2.4l-2.4 -2.4zM1315.7 765.9l2.4 2.4l-2.4 2.4l-2.4 -2.4zM1312.6 765.8l2.4 2.4l-2.4 2.4l-2.4 -2.4zM1318.4 760.5l2.4 2.4l-2.4 2.4l-2.4 -2.4zM1319.6 780.2l2.4 2.4l-2.4 2.4l-2.4 -2.4zM1320.4 773.1l2.4 2.4l-2.4 2.4l-2.4 -2.4zM1321.5 763.5l2.4 2.4l-2.4 2.4l-2.4 -2.4zM1318.4 770.3l2.4 2.4l-2.4 2.4l-2.4 -2.4zM1316.9 809.2l2.4 2.4l-2.4 2.4l-2.4 -2.4zM1312.6 797l2.4 2.4l-2.4 2.4l-2.4 -2.4zM1317.7 793.4l2.4 2.4l-2.4 2.4l-2.4 -2.4zM1319.1 799.9l2.4 2.4l-2.4 2.4l-2.4 -2.4zM1314.7 784.9l2.4 2.4l-2.4 2.4l-2.4 -2.4zM1312.5 819.3l2.4 2.4l-2.4 2.4l-2.4 -2.4zM1317.3 806.9l2.4 2.4l-2.4 2.4l-2.4 -2.4zM1326.8 795.9l2.4 2.4l-2.4 2.4l-2.4 -2.4zM1322.7 796.4l2.4 2.4l-2.4 2.4l-2.4 -2.4zM1309.3 790.8l2.4 2.4l-2.4 2.4l-2.4 -2.4zM1316.4 830.5l2.4 2.4l-2.4 2.4l-2.4 -2.4zM1315.4 876.8l2.4 2.4l-2.4 2.4l-2.4 -2.4zM1322 851.4l2.4 2.4l-2.4 2.4l-2.4 -2.4zM1312.3 872.6l2.4 2.4l-2.4 2.4l-2.4 -2.4zM1322 826.6l2.4 2.4l-2.4 2.4l-2.4 -2.4zM1314.4 869.1l2.4 2.4l-2.4 2.4l-2.4 -2.4zM1320.8 856.3l2.4 2.4l-2.4 2.4l-2.4 -2.4zM1324.1 842.3l2.4 2.4l-2.4 2.4l-2.4 -2.4zM1317.8 832.7l2.4 2.4l-2.4 2.4l-2.4 -2.4zM1322.1 836.5l2.4 2.4l-2.4 2.4l-2.4 -2.4zM1320.6 698.8l2.4 2.4l-2.4 2.4l-2.4 -2.4zM1317.2 885.5l2.4 2.4l-2.4 2.4l-2.4 -2.4z" fill="#128A64"/>
<line x1="1391.5" y1="793.4" x2="1391.5" y2="823.7" stroke="#9a9a9a" stroke-width="1.25"/>
<line x1="1391.5" y1="871.4" x2="1391.5" y2="918.3" stroke="#9a9a9a" stroke-width="1.25"/>
<rect x="1377.8" y="823.7" width="27.4" height="47.7" fill="#e9e9e9" stroke="#9a9a9a" stroke-width="1.5"/>
<line x1="1377.8" y1="857" x2="1405.2" y2="857" stroke="#9a9a9a" stroke-width="3.1"/>
<path d="M1395.5 816.6l2.4 2.4l-2.4 2.4l-2.4 -2.4zM1384.4 819.5l2.4 2.4l-2.4 2.4l-2.4 -2.4zM1382.1 818.5l2.4 2.4l-2.4 2.4l-2.4 -2.4zM1393.1 816.1l2.4 2.4l-2.4 2.4l-2.4 -2.4zM1400.3 809.6l2.4 2.4l-2.4 2.4l-2.4 -2.4zM1389.9 811.5l2.4 2.4l-2.4 2.4l-2.4 -2.4zM1398.6 816.5l2.4 2.4l-2.4 2.4l-2.4 -2.4zM1389.2 841.5l2.4 2.4l-2.4 2.4l-2.4 -2.4zM1390.7 836.4l2.4 2.4l-2.4 2.4l-2.4 -2.4zM1387.6 845.4l2.4 2.4l-2.4 2.4l-2.4 -2.4zM1392.6 834.3l2.4 2.4l-2.4 2.4l-2.4 -2.4zM1388.1 834.1l2.4 2.4l-2.4 2.4l-2.4 -2.4zM1398.1 847.5l2.4 2.4l-2.4 2.4l-2.4 -2.4zM1390.4 837.9l2.4 2.4l-2.4 2.4l-2.4 -2.4zM1387.8 857.3l2.4 2.4l-2.4 2.4l-2.4 -2.4zM1392.9 856.7l2.4 2.4l-2.4 2.4l-2.4 -2.4zM1383.7 863l2.4 2.4l-2.4 2.4l-2.4 -2.4zM1388.2 867.9l2.4 2.4l-2.4 2.4l-2.4 -2.4zM1397.9 866.7l2.4 2.4l-2.4 2.4l-2.4 -2.4zM1385.9 868.4l2.4 2.4l-2.4 2.4l-2.4 -2.4zM1399.3 860.7l2.4 2.4l-2.4 2.4l-2.4 -2.4zM1382.9 913.9l2.4 2.4l-2.4 2.4l-2.4 -2.4zM1391.4 884.5l2.4 2.4l-2.4 2.4l-2.4 -2.4zM1396.7 871.6l2.4 2.4l-2.4 2.4l-2.4 -2.4zM1401 885.5l2.4 2.4l-2.4 2.4l-2.4 -2.4zM1391.8 886.3l2.4 2.4l-2.4 2.4l-2.4 -2.4zM1389.4 879.9l2.4 2.4l-2.4 2.4l-2.4 -2.4zM1393.3 893.1l2.4 2.4l-2.4 2.4l-2.4 -2.4zM1389.7 791l2.4 2.4l-2.4 2.4l-2.4 -2.4zM1396.9 915.9l2.4 2.4l-2.4 2.4l-2.4 -2.4zM1388.7 1002.6l2.4 2.4l-2.4 2.4l-2.4 -2.4z" fill="#969696"/>
<line x1="1422.5" y1="762.8" x2="1422.5" y2="791" stroke="#DBA626" stroke-width="1.3"/>
<line x1="1422.5" y1="840.5" x2="1422.5" y2="909.9" stroke="#DBA626" stroke-width="1.3"/>
<rect x="1408.7" y="791" width="27.5" height="49.5" fill="#fbeacb" stroke="#DBA626" stroke-width="1.55"/>
<line x1="1408.7" y1="820.7" x2="1436.2" y2="820.7" stroke="#DBA626" stroke-width="3.1"/>
<path d="M1422.9 781.8l2.4 2.4l-2.4 2.4l-2.4 -2.4zM1420.1 766l2.4 2.4l-2.4 2.4l-2.4 -2.4zM1423.6 775.3l2.4 2.4l-2.4 2.4l-2.4 -2.4zM1429.7 779.5l2.4 2.4l-2.4 2.4l-2.4 -2.4zM1422.2 787.9l2.4 2.4l-2.4 2.4l-2.4 -2.4zM1424.8 776.3l2.4 2.4l-2.4 2.4l-2.4 -2.4zM1419.5 788.5l2.4 2.4l-2.4 2.4l-2.4 -2.4zM1428.5 778.5l2.4 2.4l-2.4 2.4l-2.4 -2.4zM1419 793.7l2.4 2.4l-2.4 2.4l-2.4 -2.4zM1428.6 817.7l2.4 2.4l-2.4 2.4l-2.4 -2.4zM1415 803.8l2.4 2.4l-2.4 2.4l-2.4 -2.4zM1426.1 815.2l2.4 2.4l-2.4 2.4l-2.4 -2.4zM1431.8 813l2.4 2.4l-2.4 2.4l-2.4 -2.4zM1420.9 815l2.4 2.4l-2.4 2.4l-2.4 -2.4zM1418.5 793.2l2.4 2.4l-2.4 2.4l-2.4 -2.4zM1422.5 803.8l2.4 2.4l-2.4 2.4l-2.4 -2.4zM1416.4 822l2.4 2.4l-2.4 2.4l-2.4 -2.4zM1424.4 830.8l2.4 2.4l-2.4 2.4l-2.4 -2.4zM1431.8 825.3l2.4 2.4l-2.4 2.4l-2.4 -2.4zM1413.8 830.9l2.4 2.4l-2.4 2.4l-2.4 -2.4zM1427.9 826.4l2.4 2.4l-2.4 2.4l-2.4 -2.4zM1426.1 824.4l2.4 2.4l-2.4 2.4l-2.4 -2.4zM1418.7 818.4l2.4 2.4l-2.4 2.4l-2.4 -2.4zM1424.1 835l2.4 2.4l-2.4 2.4l-2.4 -2.4zM1416.7 855.2l2.4 2.4l-2.4 2.4l-2.4 -2.4zM1423.5 864.9l2.4 2.4l-2.4 2.4l-2.4 -2.4zM1425.2 880l2.4 2.4l-2.4 2.4l-2.4 -2.4zM1431.9 862.9l2.4 2.4l-2.4 2.4l-2.4 -2.4zM1420.8 860.4l2.4 2.4l-2.4 2.4l-2.4 -2.4zM1415.9 891.6l2.4 2.4l-2.4 2.4l-2.4 -2.4zM1415 850.3l2.4 2.4l-2.4 2.4l-2.4 -2.4zM1416.2 893.6l2.4 2.4l-2.4 2.4l-2.4 -2.4zM1422.7 760.4l2.4 2.4l-2.4 2.4l-2.4 -2.4zM1426.3 907.5l2.4 2.4l-2.4 2.4l-2.4 -2.4zM1430.6 920.7l2.4 2.4l-2.4 2.4l-2.4 -2.4zM1415.6 958.6l2.4 2.4l-2.4 2.4l-2.4 -2.4z" fill="#D6A227"/>
<line x1="1454.6" y1="781.6" x2="1454.6" y2="804.7" stroke="#6FB1DD" stroke-width="1.25"/>
<line x1="1454.6" y1="860.4" x2="1454.6" y2="938.5" stroke="#6FB1DD" stroke-width="1.25"/>
<rect x="1441.1" y="804.7" width="27" height="55.7" fill="#dcedfa" stroke="#6FB1DD" stroke-width="1.5"/>
<line x1="1441.1" y1="826.4" x2="1468.1" y2="826.4" stroke="#6FB1DD" stroke-width="3.1"/>
<path d="M1460.4 795.6l2.4 2.4l-2.4 2.4l-2.4 -2.4zM1445.3 782.5l2.4 2.4l-2.4 2.4l-2.4 -2.4zM1451.2 798.4l2.4 2.4l-2.4 2.4l-2.4 -2.4zM1451.8 797.5l2.4 2.4l-2.4 2.4l-2.4 -2.4zM1450.2 785.9l2.4 2.4l-2.4 2.4l-2.4 -2.4zM1462.3 783.8l2.4 2.4l-2.4 2.4l-2.4 -2.4zM1451.7 795l2.4 2.4l-2.4 2.4l-2.4 -2.4zM1452.4 812.1l2.4 2.4l-2.4 2.4l-2.4 -2.4zM1462 803.5l2.4 2.4l-2.4 2.4l-2.4 -2.4zM1463.3 814.9l2.4 2.4l-2.4 2.4l-2.4 -2.4zM1456.9 811.8l2.4 2.4l-2.4 2.4l-2.4 -2.4zM1445.9 807.7l2.4 2.4l-2.4 2.4l-2.4 -2.4zM1461.3 822.5l2.4 2.4l-2.4 2.4l-2.4 -2.4zM1462.2 809.1l2.4 2.4l-2.4 2.4l-2.4 -2.4zM1450.9 851.7l2.4 2.4l-2.4 2.4l-2.4 -2.4zM1463.3 844.5l2.4 2.4l-2.4 2.4l-2.4 -2.4zM1463.1 840.8l2.4 2.4l-2.4 2.4l-2.4 -2.4zM1452.5 832.3l2.4 2.4l-2.4 2.4l-2.4 -2.4zM1449.3 848.4l2.4 2.4l-2.4 2.4l-2.4 -2.4zM1461.7 834.5l2.4 2.4l-2.4 2.4l-2.4 -2.4zM1460.2 840.5l2.4 2.4l-2.4 2.4l-2.4 -2.4zM1448.4 907.1l2.4 2.4l-2.4 2.4l-2.4 -2.4zM1448.6 898l2.4 2.4l-2.4 2.4l-2.4 -2.4zM1450.6 859.6l2.4 2.4l-2.4 2.4l-2.4 -2.4zM1447.3 884l2.4 2.4l-2.4 2.4l-2.4 -2.4zM1452.4 885.8l2.4 2.4l-2.4 2.4l-2.4 -2.4zM1446.3 894.7l2.4 2.4l-2.4 2.4l-2.4 -2.4zM1460.8 918.1l2.4 2.4l-2.4 2.4l-2.4 -2.4zM1452.8 779.2l2.4 2.4l-2.4 2.4l-2.4 -2.4zM1451.5 936.1l2.4 2.4l-2.4 2.4l-2.4 -2.4z" fill="#66A8D8"/>
<line x1="1485" y1="754" x2="1485" y2="785.5" stroke="#18926A" stroke-width="1.6"/>
<line x1="1485" y1="819.8" x2="1485" y2="839.4" stroke="#18926A" stroke-width="1.6"/>
<rect x="1471" y="785.5" width="27.9" height="34.3" fill="#cbeae0" stroke="#18926A" stroke-width="1.85"/>
<line x1="1471" y1="805" x2="1498.9" y2="805" stroke="#18926A" stroke-width="3.1"/>
<path d="M1480.8 761.5l2.4 2.4l-2.4 2.4l-2.4 -2.4zM1476.1 763.1l2.4 2.4l-2.4 2.4l-2.4 -2.4zM1481.9 775.3l2.4 2.4l-2.4 2.4l-2.4 -2.4zM1488.9 760.2l2.4 2.4l-2.4 2.4l-2.4 -2.4zM1480.6 757.6l2.4 2.4l-2.4 2.4l-2.4 -2.4zM1477.9 779.4l2.4 2.4l-2.4 2.4l-2.4 -2.4zM1491.3 769.4l2.4 2.4l-2.4 2.4l-2.4 -2.4zM1478.5 798.8l2.4 2.4l-2.4 2.4l-2.4 -2.4zM1489.2 790l2.4 2.4l-2.4 2.4l-2.4 -2.4zM1493.7 790.4l2.4 2.4l-2.4 2.4l-2.4 -2.4zM1493.5 787.2l2.4 2.4l-2.4 2.4l-2.4 -2.4zM1479.8 792.9l2.4 2.4l-2.4 2.4l-2.4 -2.4zM1477.9 791.9l2.4 2.4l-2.4 2.4l-2.4 -2.4zM1480.4 796.9l2.4 2.4l-2.4 2.4l-2.4 -2.4zM1486.6 815.9l2.4 2.4l-2.4 2.4l-2.4 -2.4zM1480.1 808l2.4 2.4l-2.4 2.4l-2.4 -2.4zM1479.5 811.6l2.4 2.4l-2.4 2.4l-2.4 -2.4zM1477.8 815.5l2.4 2.4l-2.4 2.4l-2.4 -2.4zM1485.8 810.2l2.4 2.4l-2.4 2.4l-2.4 -2.4zM1490.1 806.6l2.4 2.4l-2.4 2.4l-2.4 -2.4zM1487.9 808.3l2.4 2.4l-2.4 2.4l-2.4 -2.4zM1481.4 823.8l2.4 2.4l-2.4 2.4l-2.4 -2.4zM1477.1 826.9l2.4 2.4l-2.4 2.4l-2.4 -2.4zM1491.6 831.2l2.4 2.4l-2.4 2.4l-2.4 -2.4zM1488 828.2l2.4 2.4l-2.4 2.4l-2.4 -2.4zM1486.1 832.8l2.4 2.4l-2.4 2.4l-2.4 -2.4zM1485 827.4l2.4 2.4l-2.4 2.4l-2.4 -2.4zM1476.7 828.6l2.4 2.4l-2.4 2.4l-2.4 -2.4zM1482.7 751.6l2.4 2.4l-2.4 2.4l-2.4 -2.4zM1481.7 837l2.4 2.4l-2.4 2.4l-2.4 -2.4zM1489.4 880.6l2.4 2.4l-2.4 2.4l-2.4 -2.4zM1493.8 916.8l2.4 2.4l-2.4 2.4l-2.4 -2.4z" fill="#128A64"/>
<line x1="169.6" y1="1582.2" x2="169.6" y2="1698.8" stroke="#9a9a9a" stroke-width="1.25"/>
<line x1="169.6" y1="1830.6" x2="169.6" y2="2022.2" stroke="#9a9a9a" stroke-width="1.25"/>
<rect x="155.9" y="1698.8" width="27.5" height="131.8" fill="#e9e9e9" stroke="#9a9a9a" stroke-width="1.5"/>
<line x1="155.9" y1="1764.2" x2="183.4" y2="1764.2" stroke="#9a9a9a" stroke-width="3.1"/>
<path d="M173.8 1607.2l2.4 2.4l-2.4 2.4l-2.4 -2.4zM167.8 1627.9l2.4 2.4l-2.4 2.4l-2.4 -2.4zM174.9 1688.9l2.4 2.4l-2.4 2.4l-2.4 -2.4zM176.5 1686.7l2.4 2.4l-2.4 2.4l-2.4 -2.4zM165.4 1608.1l2.4 2.4l-2.4 2.4l-2.4 -2.4zM173.1 1589.7l2.4 2.4l-2.4 2.4l-2.4 -2.4zM166.8 1667.3l2.4 2.4l-2.4 2.4l-2.4 -2.4zM172.7 1642.5l2.4 2.4l-2.4 2.4l-2.4 -2.4zM164.9 1670.6l2.4 2.4l-2.4 2.4l-2.4 -2.4zM166.8 1751.8l2.4 2.4l-2.4 2.4l-2.4 -2.4zM163.6 1737.5l2.4 2.4l-2.4 2.4l-2.4 -2.4zM177.5 1703.9l2.4 2.4l-2.4 2.4l-2.4 -2.4zM173.7 1744.4l2.4 2.4l-2.4 2.4l-2.4 -2.4zM160.9 1699l2.4 2.4l-2.4 2.4l-2.4 -2.4zM163.9 1707l2.4 2.4l-2.4 2.4l-2.4 -2.4zM167.4 1716.2l2.4 2.4l-2.4 2.4l-2.4 -2.4zM166.1 1699l2.4 2.4l-2.4 2.4l-2.4 -2.4zM163.6 1738.1l2.4 2.4l-2.4 2.4l-2.4 -2.4zM171 1817.5l2.4 2.4l-2.4 2.4l-2.4 -2.4zM165 1809.4l2.4 2.4l-2.4 2.4l-2.4 -2.4zM173.2 1790.7l2.4 2.4l-2.4 2.4l-2.4 -2.4zM160.2 1785l2.4 2.4l-2.4 2.4l-2.4 -2.4zM174.9 1817.2l2.4 2.4l-2.4 2.4l-2.4 -2.4zM161 1780.8l2.4 2.4l-2.4 2.4l-2.4 -2.4zM171.7 1818.5l2.4 2.4l-2.4 2.4l-2.4 -2.4zM164.8 1764.9l2.4 2.4l-2.4 2.4l-2.4 -2.4zM175.2 1769.2l2.4 2.4l-2.4 2.4l-2.4 -2.4zM177.5 1955.5l2.4 2.4l-2.4 2.4l-2.4 -2.4zM161.8 1863.2l2.4 2.4l-2.4 2.4l-2.4 -2.4zM167.6 1871.3l2.4 2.4l-2.4 2.4l-2.4 -2.4zM175.9 1863.5l2.4 2.4l-2.4 2.4l-2.4 -2.4zM161.9 1941l2.4 2.4l-2.4 2.4l-2.4 -2.4zM168.2 1835.5l2.4 2.4l-2.4 2.4l-2.4 -2.4zM173.3 1837.7l2.4 2.4l-2.4 2.4l-2.4 -2.4zM175.9 1864.8l2.4 2.4l-2.4 2.4l-2.4 -2.4zM168.8 1881.4l2.4 2.4l-2.4 2.4l-2.4 -2.4zM164.3 1579.8l2.4 2.4l-2.4 2.4l-2.4 -2.4zM172 2019.8l2.4 2.4l-2.4 2.4l-2.4 -2.4zM168.3 1475.4l2.4 2.4l-2.4 2.4l-2.4 -2.4z" fill="#969696"/>
<line x1="202.1" y1="1542.8" x2="202.1" y2="1626.8" stroke="#DBA626" stroke-width="1.3"/>
<line x1="202.1" y1="1745" x2="202.1" y2="1882.4" stroke="#DBA626" stroke-width="1.3"/>
<rect x="187.9" y="1626.8" width="28.5" height="118.2" fill="#fbeacb" stroke="#DBA626" stroke-width="1.55"/>
<line x1="187.9" y1="1665.3" x2="216.4" y2="1665.3" stroke="#DBA626" stroke-width="3.1"/>
<path d="M202.4 1586.8l2.4 2.4l-2.4 2.4l-2.4 -2.4zM195.1 1620.1l2.4 2.4l-2.4 2.4l-2.4 -2.4zM193.5 1609.8l2.4 2.4l-2.4 2.4l-2.4 -2.4zM208 1606l2.4 2.4l-2.4 2.4l-2.4 -2.4zM203 1573.2l2.4 2.4l-2.4 2.4l-2.4 -2.4zM204.8 1622.6l2.4 2.4l-2.4 2.4l-2.4 -2.4zM197.4 1595.2l2.4 2.4l-2.4 2.4l-2.4 -2.4zM199.4 1552l2.4 2.4l-2.4 2.4l-2.4 -2.4zM196.5 1585.5l2.4 2.4l-2.4 2.4l-2.4 -2.4zM195.2 1577.4l2.4 2.4l-2.4 2.4l-2.4 -2.4zM205.4 1651.6l2.4 2.4l-2.4 2.4l-2.4 -2.4zM197.2 1633.6l2.4 2.4l-2.4 2.4l-2.4 -2.4zM201.1 1644.2l2.4 2.4l-2.4 2.4l-2.4 -2.4zM199.3 1660.4l2.4 2.4l-2.4 2.4l-2.4 -2.4zM209.5 1635.9l2.4 2.4l-2.4 2.4l-2.4 -2.4zM203.4 1629.9l2.4 2.4l-2.4 2.4l-2.4 -2.4zM208.1 1637.2l2.4 2.4l-2.4 2.4l-2.4 -2.4zM207.1 1645.5l2.4 2.4l-2.4 2.4l-2.4 -2.4zM205.3 1630.9l2.4 2.4l-2.4 2.4l-2.4 -2.4zM201.4 1647.4l2.4 2.4l-2.4 2.4l-2.4 -2.4zM208.4 1724l2.4 2.4l-2.4 2.4l-2.4 -2.4zM198.1 1672l2.4 2.4l-2.4 2.4l-2.4 -2.4zM196.6 1691.6l2.4 2.4l-2.4 2.4l-2.4 -2.4zM198 1667.7l2.4 2.4l-2.4 2.4l-2.4 -2.4zM206 1678.6l2.4 2.4l-2.4 2.4l-2.4 -2.4zM194.8 1698.6l2.4 2.4l-2.4 2.4l-2.4 -2.4zM201.6 1688.8l2.4 2.4l-2.4 2.4l-2.4 -2.4zM195.8 1691.8l2.4 2.4l-2.4 2.4l-2.4 -2.4zM192.9 1668.6l2.4 2.4l-2.4 2.4l-2.4 -2.4zM206.9 1742l2.4 2.4l-2.4 2.4l-2.4 -2.4zM206.3 1855.7l2.4 2.4l-2.4 2.4l-2.4 -2.4zM203.4 1744.5l2.4 2.4l-2.4 2.4l-2.4 -2.4zM201.9 1850.9l2.4 2.4l-2.4 2.4l-2.4 -2.4zM196.3 1803.4l2.4 2.4l-2.4 2.4l-2.4 -2.4zM192.8 1790.4l2.4 2.4l-2.4 2.4l-2.4 -2.4zM204.9 1750.4l2.4 2.4l-2.4 2.4l-2.4 -2.4zM210.4 1780.8l2.4 2.4l-2.4 2.4l-2.4 -2.4zM197.4 1778.1l2.4 2.4l-2.4 2.4l-2.4 -2.4zM195.3 1828.5l2.4 2.4l-2.4 2.4l-2.4 -2.4zM207.4 1868.8l2.4 2.4l-2.4 2.4l-2.4 -2.4zM206.2 1540.4l2.4 2.4l-2.4 2.4l-2.4 -2.4zM199.7 1880l2.4 2.4l-2.4 2.4l-2.4 -2.4zM197.6 1446.8l2.4 2.4l-2.4 2.4l-2.4 -2.4zM198 1922.9l2.4 2.4l-2.4 2.4l-2.4 -2.4zM208 1925.1l2.4 2.4l-2.4 2.4l-2.4 -2.4zM205.8 1942.3l2.4 2.4l-2.4 2.4l-2.4 -2.4z" fill="#D6A227"/>
<line x1="234.3" y1="1620.6" x2="234.3" y2="1752.3" stroke="#6FB1DD" stroke-width="1.25"/>
<line x1="234.3" y1="1918.7" x2="234.3" y2="2028.8" stroke="#6FB1DD" stroke-width="1.25"/>
<rect x="220.2" y="1752.3" width="28.2" height="166.4" fill="#dcedfa" stroke="#6FB1DD" stroke-width="1.5"/>
<line x1="220.2" y1="1854.4" x2="248.4" y2="1854.4" stroke="#6FB1DD" stroke-width="3.1"/>
<path d="M236.9 1658.7l2.4 2.4l-2.4 2.4l-2.4 -2.4zM242.4 1735.3l2.4 2.4l-2.4 2.4l-2.4 -2.4zM239.7 1656.1l2.4 2.4l-2.4 2.4l-2.4 -2.4zM238.9 1733.8l2.4 2.4l-2.4 2.4l-2.4 -2.4zM228.3 1678.4l2.4 2.4l-2.4 2.4l-2.4 -2.4zM230.9 1733.3l2.4 2.4l-2.4 2.4l-2.4 -2.4zM235.3 1683.7l2.4 2.4l-2.4 2.4l-2.4 -2.4zM240.6 1683.8l2.4 2.4l-2.4 2.4l-2.4 -2.4zM225.6 1666.6l2.4 2.4l-2.4 2.4l-2.4 -2.4zM236.7 1807.8l2.4 2.4l-2.4 2.4l-2.4 -2.4zM238.2 1833.6l2.4 2.4l-2.4 2.4l-2.4 -2.4zM242.8 1842.3l2.4 2.4l-2.4 2.4l-2.4 -2.4zM234.3 1800.4l2.4 2.4l-2.4 2.4l-2.4 -2.4zM230.5 1766l2.4 2.4l-2.4 2.4l-2.4 -2.4zM226.3 1809.2l2.4 2.4l-2.4 2.4l-2.4 -2.4zM227.9 1820.1l2.4 2.4l-2.4 2.4l-2.4 -2.4zM243.2 1795.1l2.4 2.4l-2.4 2.4l-2.4 -2.4zM225.6 1759.1l2.4 2.4l-2.4 2.4l-2.4 -2.4zM228.4 1880.3l2.4 2.4l-2.4 2.4l-2.4 -2.4zM224.9 1898.5l2.4 2.4l-2.4 2.4l-2.4 -2.4zM241.1 1906.1l2.4 2.4l-2.4 2.4l-2.4 -2.4zM232.9 1902.6l2.4 2.4l-2.4 2.4l-2.4 -2.4zM237.4 1870.2l2.4 2.4l-2.4 2.4l-2.4 -2.4zM232.8 1885.1l2.4 2.4l-2.4 2.4l-2.4 -2.4zM233.1 1873.8l2.4 2.4l-2.4 2.4l-2.4 -2.4zM240.5 1894.8l2.4 2.4l-2.4 2.4l-2.4 -2.4zM227.9 1910.1l2.4 2.4l-2.4 2.4l-2.4 -2.4zM233.2 1979.5l2.4 2.4l-2.4 2.4l-2.4 -2.4zM231.4 1952.7l2.4 2.4l-2.4 2.4l-2.4 -2.4zM226.4 1991.3l2.4 2.4l-2.4 2.4l-2.4 -2.4zM233.5 1976.4l2.4 2.4l-2.4 2.4l-2.4 -2.4zM242.1 1918.5l2.4 2.4l-2.4 2.4l-2.4 -2.4zM243.3 1926.9l2.4 2.4l-2.4 2.4l-2.4 -2.4zM236.6 1919.3l2.4 2.4l-2.4 2.4l-2.4 -2.4zM225.9 1931.3l2.4 2.4l-2.4 2.4l-2.4 -2.4zM236.4 1942.7l2.4 2.4l-2.4 2.4l-2.4 -2.4zM231.9 1618.2l2.4 2.4l-2.4 2.4l-2.4 -2.4zM235.2 2026.4l2.4 2.4l-2.4 2.4l-2.4 -2.4z" fill="#66A8D8"/>
<line x1="264.9" y1="1536.1" x2="264.9" y2="1738.4" stroke="#18926A" stroke-width="1.6"/>
<line x1="264.9" y1="1893.4" x2="264.9" y2="2000.2" stroke="#18926A" stroke-width="1.6"/>
<rect x="251.1" y="1738.4" width="27.6" height="155" fill="#cbeae0" stroke="#18926A" stroke-width="1.85"/>
<line x1="251.1" y1="1804.3" x2="278.7" y2="1804.3" stroke="#18926A" stroke-width="3.1"/>
<path d="M264.5 1729.3l2.4 2.4l-2.4 2.4l-2.4 -2.4zM261.1 1682.9l2.4 2.4l-2.4 2.4l-2.4 -2.4zM272.2 1629.4l2.4 2.4l-2.4 2.4l-2.4 -2.4zM259 1550.2l2.4 2.4l-2.4 2.4l-2.4 -2.4zM263.9 1687.9l2.4 2.4l-2.4 2.4l-2.4 -2.4zM267.9 1569.8l2.4 2.4l-2.4 2.4l-2.4 -2.4zM266.4 1634.9l2.4 2.4l-2.4 2.4l-2.4 -2.4zM265.5 1763.4l2.4 2.4l-2.4 2.4l-2.4 -2.4zM262.9 1773.2l2.4 2.4l-2.4 2.4l-2.4 -2.4zM258.8 1743.5l2.4 2.4l-2.4 2.4l-2.4 -2.4zM265.8 1794.7l2.4 2.4l-2.4 2.4l-2.4 -2.4zM271.8 1743.4l2.4 2.4l-2.4 2.4l-2.4 -2.4zM257.2 1752.7l2.4 2.4l-2.4 2.4l-2.4 -2.4zM260.2 1771l2.4 2.4l-2.4 2.4l-2.4 -2.4zM265.9 1845.5l2.4 2.4l-2.4 2.4l-2.4 -2.4zM266.3 1822.1l2.4 2.4l-2.4 2.4l-2.4 -2.4zM265.2 1812l2.4 2.4l-2.4 2.4l-2.4 -2.4zM256.9 1854.3l2.4 2.4l-2.4 2.4l-2.4 -2.4zM256.8 1838.3l2.4 2.4l-2.4 2.4l-2.4 -2.4zM271.8 1841.1l2.4 2.4l-2.4 2.4l-2.4 -2.4zM269 1851l2.4 2.4l-2.4 2.4l-2.4 -2.4zM257.6 1909.9l2.4 2.4l-2.4 2.4l-2.4 -2.4zM269.1 1891.7l2.4 2.4l-2.4 2.4l-2.4 -2.4zM271.2 1976.2l2.4 2.4l-2.4 2.4l-2.4 -2.4zM258.7 1942.4l2.4 2.4l-2.4 2.4l-2.4 -2.4zM266.1 1894l2.4 2.4l-2.4 2.4l-2.4 -2.4zM258 1908.5l2.4 2.4l-2.4 2.4l-2.4 -2.4zM256.5 1908.4l2.4 2.4l-2.4 2.4l-2.4 -2.4zM261.7 1533.7l2.4 2.4l-2.4 2.4l-2.4 -2.4zM263.4 1997.8l2.4 2.4l-2.4 2.4l-2.4 -2.4z" fill="#128A64"/>
<line x1="339.2" y1="1555.5" x2="339.2" y2="1599.7" stroke="#9a9a9a" stroke-width="1.25"/>
<line x1="339.2" y1="1643.8" x2="339.2" y2="1680.1" stroke="#9a9a9a" stroke-width="1.25"/>
<rect x="325.5" y="1599.7" width="27.4" height="44.1" fill="#e9e9e9" stroke="#9a9a9a" stroke-width="1.5"/>
<line x1="325.5" y1="1620.2" x2="352.9" y2="1620.2" stroke="#9a9a9a" stroke-width="3.1"/>
<path d="M341 1555.5l2.4 2.4l-2.4 2.4l-2.4 -2.4zM335.4 1568.1l2.4 2.4l-2.4 2.4l-2.4 -2.4zM337.8 1587.8l2.4 2.4l-2.4 2.4l-2.4 -2.4zM341.5 1593.8l2.4 2.4l-2.4 2.4l-2.4 -2.4zM340.4 1593.3l2.4 2.4l-2.4 2.4l-2.4 -2.4zM346.2 1594.7l2.4 2.4l-2.4 2.4l-2.4 -2.4zM343.9 1565.8l2.4 2.4l-2.4 2.4l-2.4 -2.4zM344.2 1573.9l2.4 2.4l-2.4 2.4l-2.4 -2.4zM345.4 1586.9l2.4 2.4l-2.4 2.4l-2.4 -2.4zM336.8 1563.3l2.4 2.4l-2.4 2.4l-2.4 -2.4zM347.7 1588.8l2.4 2.4l-2.4 2.4l-2.4 -2.4zM330.5 1612.1l2.4 2.4l-2.4 2.4l-2.4 -2.4zM331.6 1609.7l2.4 2.4l-2.4 2.4l-2.4 -2.4zM345 1608.6l2.4 2.4l-2.4 2.4l-2.4 -2.4zM347.3 1599.6l2.4 2.4l-2.4 2.4l-2.4 -2.4zM334.5 1611.1l2.4 2.4l-2.4 2.4l-2.4 -2.4zM338.2 1601.3l2.4 2.4l-2.4 2.4l-2.4 -2.4zM340.7 1614.5l2.4 2.4l-2.4 2.4l-2.4 -2.4zM330.1 1599.6l2.4 2.4l-2.4 2.4l-2.4 -2.4zM344.9 1599.6l2.4 2.4l-2.4 2.4l-2.4 -2.4zM340.2 1601.1l2.4 2.4l-2.4 2.4l-2.4 -2.4zM342.8 1603.2l2.4 2.4l-2.4 2.4l-2.4 -2.4zM332.4 1626.8l2.4 2.4l-2.4 2.4l-2.4 -2.4zM339.9 1638.5l2.4 2.4l-2.4 2.4l-2.4 -2.4zM345.1 1634.1l2.4 2.4l-2.4 2.4l-2.4 -2.4zM330 1640.2l2.4 2.4l-2.4 2.4l-2.4 -2.4zM332.6 1625.9l2.4 2.4l-2.4 2.4l-2.4 -2.4zM346.3 1629.6l2.4 2.4l-2.4 2.4l-2.4 -2.4zM330.4 1636.7l2.4 2.4l-2.4 2.4l-2.4 -2.4zM345.2 1622.1l2.4 2.4l-2.4 2.4l-2.4 -2.4zM337.2 1633.8l2.4 2.4l-2.4 2.4l-2.4 -2.4zM332.7 1629l2.4 2.4l-2.4 2.4l-2.4 -2.4zM337.2 1637.7l2.4 2.4l-2.4 2.4l-2.4 -2.4zM341.3 1644.7l2.4 2.4l-2.4 2.4l-2.4 -2.4zM336 1671.7l2.4 2.4l-2.4 2.4l-2.4 -2.4zM346.7 1665.3l2.4 2.4l-2.4 2.4l-2.4 -2.4zM330.5 1652.6l2.4 2.4l-2.4 2.4l-2.4 -2.4zM336.6 1667.2l2.4 2.4l-2.4 2.4l-2.4 -2.4zM340.7 1656.4l2.4 2.4l-2.4 2.4l-2.4 -2.4zM336.4 1659l2.4 2.4l-2.4 2.4l-2.4 -2.4zM340.7 1676.7l2.4 2.4l-2.4 2.4l-2.4 -2.4zM330.1 1660.9l2.4 2.4l-2.4 2.4l-2.4 -2.4zM348.4 1656.6l2.4 2.4l-2.4 2.4l-2.4 -2.4zM332.5 1673.5l2.4 2.4l-2.4 2.4l-2.4 -2.4zM341.3 1553.1l2.4 2.4l-2.4 2.4l-2.4 -2.4zM336.5 1677.7l2.4 2.4l-2.4 2.4l-2.4 -2.4zM339.7 1524.9l2.4 2.4l-2.4 2.4l-2.4 -2.4zM338.3 1732.3l2.4 2.4l-2.4 2.4l-2.4 -2.4zM345.6 1816.8l2.4 2.4l-2.4 2.4l-2.4 -2.4z" fill="#969696"/>
<line x1="371.7" y1="1557" x2="371.7" y2="1605" stroke="#DBA626" stroke-width="1.3"/>
<line x1="371.7" y1="1651.5" x2="371.7" y2="1704.3" stroke="#DBA626" stroke-width="1.3"/>
<rect x="357.4" y="1605" width="28.6" height="46.5" fill="#fbeacb" stroke="#DBA626" stroke-width="1.55"/>
<line x1="357.4" y1="1621.7" x2="386" y2="1621.7" stroke="#DBA626" stroke-width="3.1"/>
<path d="M371.7 1574l2.4 2.4l-2.4 2.4l-2.4 -2.4zM373 1573.4l2.4 2.4l-2.4 2.4l-2.4 -2.4zM380.4 1585.3l2.4 2.4l-2.4 2.4l-2.4 -2.4zM362.8 1602.3l2.4 2.4l-2.4 2.4l-2.4 -2.4zM376.8 1586.6l2.4 2.4l-2.4 2.4l-2.4 -2.4zM376.9 1598.2l2.4 2.4l-2.4 2.4l-2.4 -2.4zM374.3 1589.5l2.4 2.4l-2.4 2.4l-2.4 -2.4zM367.6 1578.2l2.4 2.4l-2.4 2.4l-2.4 -2.4zM378.8 1595.5l2.4 2.4l-2.4 2.4l-2.4 -2.4zM375.1 1600.5l2.4 2.4l-2.4 2.4l-2.4 -2.4zM376.7 1575.5l2.4 2.4l-2.4 2.4l-2.4 -2.4zM371.9 1615l2.4 2.4l-2.4 2.4l-2.4 -2.4zM368.9 1613.2l2.4 2.4l-2.4 2.4l-2.4 -2.4zM369.9 1611.8l2.4 2.4l-2.4 2.4l-2.4 -2.4zM368.6 1603.6l2.4 2.4l-2.4 2.4l-2.4 -2.4zM381 1608l2.4 2.4l-2.4 2.4l-2.4 -2.4zM369.2 1610.6l2.4 2.4l-2.4 2.4l-2.4 -2.4zM366.7 1606.7l2.4 2.4l-2.4 2.4l-2.4 -2.4zM364.8 1608.4l2.4 2.4l-2.4 2.4l-2.4 -2.4zM378.7 1602.7l2.4 2.4l-2.4 2.4l-2.4 -2.4zM370.7 1610.2l2.4 2.4l-2.4 2.4l-2.4 -2.4zM367.9 1612.1l2.4 2.4l-2.4 2.4l-2.4 -2.4zM363.5 1624.3l2.4 2.4l-2.4 2.4l-2.4 -2.4zM368.1 1628.3l2.4 2.4l-2.4 2.4l-2.4 -2.4zM372.7 1641l2.4 2.4l-2.4 2.4l-2.4 -2.4zM368.7 1647.2l2.4 2.4l-2.4 2.4l-2.4 -2.4zM373.3 1646.8l2.4 2.4l-2.4 2.4l-2.4 -2.4zM365.6 1621.7l2.4 2.4l-2.4 2.4l-2.4 -2.4zM381 1636.6l2.4 2.4l-2.4 2.4l-2.4 -2.4zM376.9 1629.9l2.4 2.4l-2.4 2.4l-2.4 -2.4zM378.7 1632.1l2.4 2.4l-2.4 2.4l-2.4 -2.4zM371.4 1621.3l2.4 2.4l-2.4 2.4l-2.4 -2.4zM367.4 1646.1l2.4 2.4l-2.4 2.4l-2.4 -2.4zM362.6 1681.5l2.4 2.4l-2.4 2.4l-2.4 -2.4zM367.3 1687l2.4 2.4l-2.4 2.4l-2.4 -2.4zM366.3 1660.6l2.4 2.4l-2.4 2.4l-2.4 -2.4zM366 1674.1l2.4 2.4l-2.4 2.4l-2.4 -2.4zM378.6 1664.8l2.4 2.4l-2.4 2.4l-2.4 -2.4zM365.9 1662.9l2.4 2.4l-2.4 2.4l-2.4 -2.4zM380.5 1659.4l2.4 2.4l-2.4 2.4l-2.4 -2.4zM363.7 1664.9l2.4 2.4l-2.4 2.4l-2.4 -2.4zM378.8 1656.4l2.4 2.4l-2.4 2.4l-2.4 -2.4zM364.8 1677l2.4 2.4l-2.4 2.4l-2.4 -2.4zM372.4 1685.5l2.4 2.4l-2.4 2.4l-2.4 -2.4zM376.2 1554.6l2.4 2.4l-2.4 2.4l-2.4 -2.4zM373.4 1701.9l2.4 2.4l-2.4 2.4l-2.4 -2.4zM370.5 1460l2.4 2.4l-2.4 2.4l-2.4 -2.4zM372 1484.9l2.4 2.4l-2.4 2.4l-2.4 -2.4z" fill="#D6A227"/>
<line x1="402.3" y1="1551.6" x2="402.3" y2="1588.3" stroke="#6FB1DD" stroke-width="1.25"/>
<line x1="402.3" y1="1623.9" x2="402.3" y2="1663.6" stroke="#6FB1DD" stroke-width="1.25"/>
<rect x="388.7" y="1588.3" width="27.2" height="35.6" fill="#dcedfa" stroke="#6FB1DD" stroke-width="1.5"/>
<line x1="388.7" y1="1604.1" x2="415.9" y2="1604.1" stroke="#6FB1DD" stroke-width="3.1"/>
<path d="M396.8 1583.9l2.4 2.4l-2.4 2.4l-2.4 -2.4zM407 1566l2.4 2.4l-2.4 2.4l-2.4 -2.4zM400.5 1576.3l2.4 2.4l-2.4 2.4l-2.4 -2.4zM399.2 1577.2l2.4 2.4l-2.4 2.4l-2.4 -2.4zM400.7 1554.2l2.4 2.4l-2.4 2.4l-2.4 -2.4zM404.7 1553.4l2.4 2.4l-2.4 2.4l-2.4 -2.4zM402.2 1566.3l2.4 2.4l-2.4 2.4l-2.4 -2.4zM397.7 1574.8l2.4 2.4l-2.4 2.4l-2.4 -2.4zM393.1 1570.6l2.4 2.4l-2.4 2.4l-2.4 -2.4zM403.5 1584l2.4 2.4l-2.4 2.4l-2.4 -2.4zM393.9 1585.6l2.4 2.4l-2.4 2.4l-2.4 -2.4zM406.6 1595.6l2.4 2.4l-2.4 2.4l-2.4 -2.4zM394.6 1591.1l2.4 2.4l-2.4 2.4l-2.4 -2.4zM395.5 1588.4l2.4 2.4l-2.4 2.4l-2.4 -2.4zM394.5 1598l2.4 2.4l-2.4 2.4l-2.4 -2.4zM400.8 1598.8l2.4 2.4l-2.4 2.4l-2.4 -2.4zM404 1594.4l2.4 2.4l-2.4 2.4l-2.4 -2.4zM405.3 1594.7l2.4 2.4l-2.4 2.4l-2.4 -2.4zM399.1 1595.4l2.4 2.4l-2.4 2.4l-2.4 -2.4zM397.7 1597.6l2.4 2.4l-2.4 2.4l-2.4 -2.4zM407.3 1597.1l2.4 2.4l-2.4 2.4l-2.4 -2.4zM398.7 1598.2l2.4 2.4l-2.4 2.4l-2.4 -2.4zM411.4 1617l2.4 2.4l-2.4 2.4l-2.4 -2.4zM398.1 1610.7l2.4 2.4l-2.4 2.4l-2.4 -2.4zM410.7 1612.1l2.4 2.4l-2.4 2.4l-2.4 -2.4zM393 1604.3l2.4 2.4l-2.4 2.4l-2.4 -2.4zM405.3 1611.1l2.4 2.4l-2.4 2.4l-2.4 -2.4zM399.7 1617l2.4 2.4l-2.4 2.4l-2.4 -2.4zM397.1 1621.3l2.4 2.4l-2.4 2.4l-2.4 -2.4zM394.5 1616.7l2.4 2.4l-2.4 2.4l-2.4 -2.4zM395.3 1602.3l2.4 2.4l-2.4 2.4l-2.4 -2.4zM402.3 1602.9l2.4 2.4l-2.4 2.4l-2.4 -2.4zM396.3 1612.7l2.4 2.4l-2.4 2.4l-2.4 -2.4zM399.7 1623.2l2.4 2.4l-2.4 2.4l-2.4 -2.4zM396.2 1650.7l2.4 2.4l-2.4 2.4l-2.4 -2.4zM410.3 1629.1l2.4 2.4l-2.4 2.4l-2.4 -2.4zM393.4 1650.1l2.4 2.4l-2.4 2.4l-2.4 -2.4zM397.4 1627.9l2.4 2.4l-2.4 2.4l-2.4 -2.4zM402.3 1622l2.4 2.4l-2.4 2.4l-2.4 -2.4zM399.3 1632.3l2.4 2.4l-2.4 2.4l-2.4 -2.4zM401.5 1627.2l2.4 2.4l-2.4 2.4l-2.4 -2.4zM410 1643.2l2.4 2.4l-2.4 2.4l-2.4 -2.4zM406.7 1652.9l2.4 2.4l-2.4 2.4l-2.4 -2.4zM405.1 1655.3l2.4 2.4l-2.4 2.4l-2.4 -2.4zM401.1 1549.2l2.4 2.4l-2.4 2.4l-2.4 -2.4zM406.7 1661.2l2.4 2.4l-2.4 2.4l-2.4 -2.4zM405 1694.2l2.4 2.4l-2.4 2.4l-2.4 -2.4zM398.4 1740l2.4 2.4l-2.4 2.4l-2.4 -2.4z" fill="#66A8D8"/>
<line x1="434.6" y1="1537.9" x2="434.6" y2="1599.7" stroke="#18926A" stroke-width="1.6"/>
<line x1="434.6" y1="1653.2" x2="434.6" y2="1697.7" stroke="#18926A" stroke-width="1.6"/>
<rect x="420.8" y="1599.7" width="27.5" height="53.5" fill="#cbeae0" stroke="#18926A" stroke-width="1.85"/>
<line x1="420.8" y1="1621.7" x2="448.3" y2="1621.7" stroke="#18926A" stroke-width="3.1"/>
<path d="M435.8 1544.1l2.4 2.4l-2.4 2.4l-2.4 -2.4zM442.5 1568.6l2.4 2.4l-2.4 2.4l-2.4 -2.4zM437 1594.9l2.4 2.4l-2.4 2.4l-2.4 -2.4zM429.8 1557.2l2.4 2.4l-2.4 2.4l-2.4 -2.4zM433.3 1559.7l2.4 2.4l-2.4 2.4l-2.4 -2.4zM428.9 1557.7l2.4 2.4l-2.4 2.4l-2.4 -2.4zM437.3 1586.5l2.4 2.4l-2.4 2.4l-2.4 -2.4zM443.9 1562l2.4 2.4l-2.4 2.4l-2.4 -2.4zM435.9 1556.7l2.4 2.4l-2.4 2.4l-2.4 -2.4zM441.4 1552.4l2.4 2.4l-2.4 2.4l-2.4 -2.4zM430.1 1591.5l2.4 2.4l-2.4 2.4l-2.4 -2.4zM440.7 1613.8l2.4 2.4l-2.4 2.4l-2.4 -2.4zM431.3 1603.5l2.4 2.4l-2.4 2.4l-2.4 -2.4zM442 1608l2.4 2.4l-2.4 2.4l-2.4 -2.4zM438 1600.9l2.4 2.4l-2.4 2.4l-2.4 -2.4zM433.7 1610.4l2.4 2.4l-2.4 2.4l-2.4 -2.4zM441.8 1610l2.4 2.4l-2.4 2.4l-2.4 -2.4zM441.8 1601.9l2.4 2.4l-2.4 2.4l-2.4 -2.4zM439.9 1605.2l2.4 2.4l-2.4 2.4l-2.4 -2.4zM428.5 1616.3l2.4 2.4l-2.4 2.4l-2.4 -2.4zM444 1616.3l2.4 2.4l-2.4 2.4l-2.4 -2.4zM425.5 1603.8l2.4 2.4l-2.4 2.4l-2.4 -2.4zM443.6 1622.8l2.4 2.4l-2.4 2.4l-2.4 -2.4zM442.4 1619.6l2.4 2.4l-2.4 2.4l-2.4 -2.4zM439 1624.1l2.4 2.4l-2.4 2.4l-2.4 -2.4zM428.3 1622.4l2.4 2.4l-2.4 2.4l-2.4 -2.4zM426.8 1640.8l2.4 2.4l-2.4 2.4l-2.4 -2.4zM442.5 1630l2.4 2.4l-2.4 2.4l-2.4 -2.4zM441.8 1641.9l2.4 2.4l-2.4 2.4l-2.4 -2.4zM425.7 1650.2l2.4 2.4l-2.4 2.4l-2.4 -2.4zM440.1 1626.7l2.4 2.4l-2.4 2.4l-2.4 -2.4zM425.8 1641l2.4 2.4l-2.4 2.4l-2.4 -2.4zM429.5 1635.2l2.4 2.4l-2.4 2.4l-2.4 -2.4zM427 1670.6l2.4 2.4l-2.4 2.4l-2.4 -2.4zM443.9 1692.4l2.4 2.4l-2.4 2.4l-2.4 -2.4zM441.7 1675.4l2.4 2.4l-2.4 2.4l-2.4 -2.4zM434.3 1685.2l2.4 2.4l-2.4 2.4l-2.4 -2.4zM433.2 1684.3l2.4 2.4l-2.4 2.4l-2.4 -2.4zM438.1 1682l2.4 2.4l-2.4 2.4l-2.4 -2.4zM439.1 1683.6l2.4 2.4l-2.4 2.4l-2.4 -2.4zM427.2 1667.9l2.4 2.4l-2.4 2.4l-2.4 -2.4zM434.5 1673.8l2.4 2.4l-2.4 2.4l-2.4 -2.4zM431.7 1653.4l2.4 2.4l-2.4 2.4l-2.4 -2.4zM443.4 1680.1l2.4 2.4l-2.4 2.4l-2.4 -2.4zM439.1 1535.5l2.4 2.4l-2.4 2.4l-2.4 -2.4zM437.3 1695.3l2.4 2.4l-2.4 2.4l-2.4 -2.4zM428.2 1738.2l2.4 2.4l-2.4 2.4l-2.4 -2.4zM441.4 1843.2l2.4 2.4l-2.4 2.4l-2.4 -2.4zM439.2 1875.6l2.4 2.4l-2.4 2.4l-2.4 -2.4zM435.4 1932.8l2.4 2.4l-2.4 2.4l-2.4 -2.4z" fill="#128A64"/>
<line x1="509" y1="1559.3" x2="509" y2="1626.8" stroke="#9a9a9a" stroke-width="1.25"/>
<line x1="509" y1="1684.1" x2="509" y2="1737.3" stroke="#9a9a9a" stroke-width="1.25"/>
<rect x="494.9" y="1626.8" width="28.2" height="57.3" fill="#e9e9e9" stroke="#9a9a9a" stroke-width="1.5"/>
<line x1="494.9" y1="1646" x2="523.1" y2="1646" stroke="#9a9a9a" stroke-width="3.1"/>
<path d="M502.9 1584.1l2.4 2.4l-2.4 2.4l-2.4 -2.4zM500.8 1583.5l2.4 2.4l-2.4 2.4l-2.4 -2.4zM509.2 1564.4l2.4 2.4l-2.4 2.4l-2.4 -2.4zM510.1 1592.9l2.4 2.4l-2.4 2.4l-2.4 -2.4zM499.7 1590.1l2.4 2.4l-2.4 2.4l-2.4 -2.4zM511.9 1608.9l2.4 2.4l-2.4 2.4l-2.4 -2.4zM509.9 1601l2.4 2.4l-2.4 2.4l-2.4 -2.4zM518.2 1609l2.4 2.4l-2.4 2.4l-2.4 -2.4zM513.1 1618.3l2.4 2.4l-2.4 2.4l-2.4 -2.4zM505.5 1592.4l2.4 2.4l-2.4 2.4l-2.4 -2.4zM518 1593.6l2.4 2.4l-2.4 2.4l-2.4 -2.4zM506.8 1631.8l2.4 2.4l-2.4 2.4l-2.4 -2.4zM502.2 1632.3l2.4 2.4l-2.4 2.4l-2.4 -2.4zM499.6 1643.6l2.4 2.4l-2.4 2.4l-2.4 -2.4zM517.1 1636.1l2.4 2.4l-2.4 2.4l-2.4 -2.4zM511.1 1629.3l2.4 2.4l-2.4 2.4l-2.4 -2.4zM504.1 1631.6l2.4 2.4l-2.4 2.4l-2.4 -2.4zM501.7 1628.2l2.4 2.4l-2.4 2.4l-2.4 -2.4zM514.4 1640.6l2.4 2.4l-2.4 2.4l-2.4 -2.4zM500.4 1641.8l2.4 2.4l-2.4 2.4l-2.4 -2.4zM505.7 1637.7l2.4 2.4l-2.4 2.4l-2.4 -2.4zM509.9 1636.8l2.4 2.4l-2.4 2.4l-2.4 -2.4zM518 1655.6l2.4 2.4l-2.4 2.4l-2.4 -2.4zM513.7 1643.6l2.4 2.4l-2.4 2.4l-2.4 -2.4zM509.2 1676.1l2.4 2.4l-2.4 2.4l-2.4 -2.4zM518.4 1666.2l2.4 2.4l-2.4 2.4l-2.4 -2.4zM511.5 1652.5l2.4 2.4l-2.4 2.4l-2.4 -2.4zM506.7 1671.9l2.4 2.4l-2.4 2.4l-2.4 -2.4zM507 1670.7l2.4 2.4l-2.4 2.4l-2.4 -2.4zM511.1 1663.7l2.4 2.4l-2.4 2.4l-2.4 -2.4zM505.6 1669.4l2.4 2.4l-2.4 2.4l-2.4 -2.4zM509.8 1667.6l2.4 2.4l-2.4 2.4l-2.4 -2.4zM511.1 1652.1l2.4 2.4l-2.4 2.4l-2.4 -2.4zM516.8 1713.9l2.4 2.4l-2.4 2.4l-2.4 -2.4zM513.2 1703.4l2.4 2.4l-2.4 2.4l-2.4 -2.4zM508.6 1701.1l2.4 2.4l-2.4 2.4l-2.4 -2.4zM502.2 1716.4l2.4 2.4l-2.4 2.4l-2.4 -2.4zM509.5 1684.4l2.4 2.4l-2.4 2.4l-2.4 -2.4zM509.5 1701.1l2.4 2.4l-2.4 2.4l-2.4 -2.4zM504 1688.9l2.4 2.4l-2.4 2.4l-2.4 -2.4zM515.1 1719.4l2.4 2.4l-2.4 2.4l-2.4 -2.4zM511.7 1704l2.4 2.4l-2.4 2.4l-2.4 -2.4zM516.5 1688.3l2.4 2.4l-2.4 2.4l-2.4 -2.4zM500.3 1686.7l2.4 2.4l-2.4 2.4l-2.4 -2.4zM507.6 1556.9l2.4 2.4l-2.4 2.4l-2.4 -2.4zM513 1734.9l2.4 2.4l-2.4 2.4l-2.4 -2.4z" fill="#969696"/>
<line x1="539.6" y1="1524" x2="539.6" y2="1640" stroke="#DBA626" stroke-width="1.3"/>
<line x1="539.6" y1="1725.9" x2="539.6" y2="1835" stroke="#DBA626" stroke-width="1.3"/>
<rect x="525.3" y="1640" width="28.6" height="85.9" fill="#fbeacb" stroke="#DBA626" stroke-width="1.55"/>
<line x1="525.3" y1="1674.6" x2="553.9" y2="1674.6" stroke="#DBA626" stroke-width="3.1"/>
<path d="M532.4 1622.4l2.4 2.4l-2.4 2.4l-2.4 -2.4zM534.9 1552.9l2.4 2.4l-2.4 2.4l-2.4 -2.4zM536.9 1545.2l2.4 2.4l-2.4 2.4l-2.4 -2.4zM540 1621.1l2.4 2.4l-2.4 2.4l-2.4 -2.4zM531.8 1588.2l2.4 2.4l-2.4 2.4l-2.4 -2.4zM549 1582.2l2.4 2.4l-2.4 2.4l-2.4 -2.4zM538.6 1611.5l2.4 2.4l-2.4 2.4l-2.4 -2.4zM545.3 1590.8l2.4 2.4l-2.4 2.4l-2.4 -2.4zM532.9 1617.2l2.4 2.4l-2.4 2.4l-2.4 -2.4zM537.1 1610.2l2.4 2.4l-2.4 2.4l-2.4 -2.4zM534.6 1595.1l2.4 2.4l-2.4 2.4l-2.4 -2.4zM536.6 1650.4l2.4 2.4l-2.4 2.4l-2.4 -2.4zM530.4 1650.8l2.4 2.4l-2.4 2.4l-2.4 -2.4zM540.9 1644.5l2.4 2.4l-2.4 2.4l-2.4 -2.4zM533.5 1639.6l2.4 2.4l-2.4 2.4l-2.4 -2.4zM535.3 1662.4l2.4 2.4l-2.4 2.4l-2.4 -2.4zM534.7 1648.8l2.4 2.4l-2.4 2.4l-2.4 -2.4zM531.8 1666.5l2.4 2.4l-2.4 2.4l-2.4 -2.4zM546.4 1659.6l2.4 2.4l-2.4 2.4l-2.4 -2.4zM538.1 1644.6l2.4 2.4l-2.4 2.4l-2.4 -2.4zM541.8 1665l2.4 2.4l-2.4 2.4l-2.4 -2.4zM530.9 1650.5l2.4 2.4l-2.4 2.4l-2.4 -2.4zM537.1 1694.9l2.4 2.4l-2.4 2.4l-2.4 -2.4zM535.7 1708.8l2.4 2.4l-2.4 2.4l-2.4 -2.4zM542.4 1693.1l2.4 2.4l-2.4 2.4l-2.4 -2.4zM536.8 1713.8l2.4 2.4l-2.4 2.4l-2.4 -2.4zM541.1 1692l2.4 2.4l-2.4 2.4l-2.4 -2.4zM533.7 1719.6l2.4 2.4l-2.4 2.4l-2.4 -2.4zM543.6 1722l2.4 2.4l-2.4 2.4l-2.4 -2.4zM542.7 1691.3l2.4 2.4l-2.4 2.4l-2.4 -2.4zM531.4 1689.1l2.4 2.4l-2.4 2.4l-2.4 -2.4zM537.3 1711l2.4 2.4l-2.4 2.4l-2.4 -2.4zM539.5 1699.2l2.4 2.4l-2.4 2.4l-2.4 -2.4zM544.5 1731.2l2.4 2.4l-2.4 2.4l-2.4 -2.4zM541.4 1824.2l2.4 2.4l-2.4 2.4l-2.4 -2.4zM538.9 1769l2.4 2.4l-2.4 2.4l-2.4 -2.4zM538 1736.1l2.4 2.4l-2.4 2.4l-2.4 -2.4zM547 1767.9l2.4 2.4l-2.4 2.4l-2.4 -2.4zM539.4 1771.2l2.4 2.4l-2.4 2.4l-2.4 -2.4zM545.8 1764.3l2.4 2.4l-2.4 2.4l-2.4 -2.4zM544.2 1750.1l2.4 2.4l-2.4 2.4l-2.4 -2.4zM530.9 1775l2.4 2.4l-2.4 2.4l-2.4 -2.4zM540.6 1749.3l2.4 2.4l-2.4 2.4l-2.4 -2.4zM544.7 1741.8l2.4 2.4l-2.4 2.4l-2.4 -2.4zM535 1521.6l2.4 2.4l-2.4 2.4l-2.4 -2.4zM536.2 1832.6l2.4 2.4l-2.4 2.4l-2.4 -2.4z" fill="#D6A227"/>
<line x1="572" y1="1536.1" x2="572" y2="1596" stroke="#6FB1DD" stroke-width="1.25"/>
<line x1="572" y1="1654.8" x2="572" y2="1690" stroke="#6FB1DD" stroke-width="1.25"/>
<rect x="558.1" y="1596" width="27.7" height="58.8" fill="#dcedfa" stroke="#6FB1DD" stroke-width="1.5"/>
<line x1="558.1" y1="1614" x2="585.8" y2="1614" stroke="#6FB1DD" stroke-width="3.1"/>
<path d="M578 1543.7l2.4 2.4l-2.4 2.4l-2.4 -2.4zM564.1 1545.8l2.4 2.4l-2.4 2.4l-2.4 -2.4zM573.2 1582.8l2.4 2.4l-2.4 2.4l-2.4 -2.4zM575.4 1541.6l2.4 2.4l-2.4 2.4l-2.4 -2.4zM571.6 1580.9l2.4 2.4l-2.4 2.4l-2.4 -2.4zM575.6 1541.5l2.4 2.4l-2.4 2.4l-2.4 -2.4zM573.5 1566.2l2.4 2.4l-2.4 2.4l-2.4 -2.4zM578 1593.5l2.4 2.4l-2.4 2.4l-2.4 -2.4zM565.2 1588.1l2.4 2.4l-2.4 2.4l-2.4 -2.4zM572.3 1561.5l2.4 2.4l-2.4 2.4l-2.4 -2.4zM581.2 1535.4l2.4 2.4l-2.4 2.4l-2.4 -2.4zM567.4 1598.5l2.4 2.4l-2.4 2.4l-2.4 -2.4zM567.3 1599.2l2.4 2.4l-2.4 2.4l-2.4 -2.4zM573 1609.1l2.4 2.4l-2.4 2.4l-2.4 -2.4zM570.4 1602.8l2.4 2.4l-2.4 2.4l-2.4 -2.4zM568.2 1594.5l2.4 2.4l-2.4 2.4l-2.4 -2.4zM577.7 1609.2l2.4 2.4l-2.4 2.4l-2.4 -2.4zM567.3 1609l2.4 2.4l-2.4 2.4l-2.4 -2.4zM563.4 1597.2l2.4 2.4l-2.4 2.4l-2.4 -2.4zM569.6 1603.3l2.4 2.4l-2.4 2.4l-2.4 -2.4zM571.7 1602l2.4 2.4l-2.4 2.4l-2.4 -2.4zM569.4 1604.1l2.4 2.4l-2.4 2.4l-2.4 -2.4zM566.3 1644.3l2.4 2.4l-2.4 2.4l-2.4 -2.4zM573 1649.1l2.4 2.4l-2.4 2.4l-2.4 -2.4zM568.4 1613.7l2.4 2.4l-2.4 2.4l-2.4 -2.4zM570.2 1633.3l2.4 2.4l-2.4 2.4l-2.4 -2.4zM568.6 1634.6l2.4 2.4l-2.4 2.4l-2.4 -2.4zM577.6 1622.8l2.4 2.4l-2.4 2.4l-2.4 -2.4zM576 1623.5l2.4 2.4l-2.4 2.4l-2.4 -2.4zM573.7 1644.3l2.4 2.4l-2.4 2.4l-2.4 -2.4zM580.2 1630.1l2.4 2.4l-2.4 2.4l-2.4 -2.4zM579.1 1629.8l2.4 2.4l-2.4 2.4l-2.4 -2.4zM570.7 1614l2.4 2.4l-2.4 2.4l-2.4 -2.4zM563.4 1661.9l2.4 2.4l-2.4 2.4l-2.4 -2.4zM563.8 1655.9l2.4 2.4l-2.4 2.4l-2.4 -2.4zM565.9 1663.1l2.4 2.4l-2.4 2.4l-2.4 -2.4zM573.1 1654.3l2.4 2.4l-2.4 2.4l-2.4 -2.4zM571.9 1657.5l2.4 2.4l-2.4 2.4l-2.4 -2.4zM575.3 1660.9l2.4 2.4l-2.4 2.4l-2.4 -2.4zM566.5 1672.6l2.4 2.4l-2.4 2.4l-2.4 -2.4zM565.2 1656.5l2.4 2.4l-2.4 2.4l-2.4 -2.4zM566.4 1654.4l2.4 2.4l-2.4 2.4l-2.4 -2.4zM564.3 1680.5l2.4 2.4l-2.4 2.4l-2.4 -2.4zM580.5 1657.9l2.4 2.4l-2.4 2.4l-2.4 -2.4zM570.9 1533.7l2.4 2.4l-2.4 2.4l-2.4 -2.4zM573.9 1687.6l2.4 2.4l-2.4 2.4l-2.4 -2.4z" fill="#66A8D8"/>
<line x1="604.1" y1="1570.9" x2="604.1" y2="1624.6" stroke="#18926A" stroke-width="1.6"/>
<line x1="604.1" y1="1673.9" x2="604.1" y2="1737.3" stroke="#18926A" stroke-width="1.6"/>
<rect x="590" y="1624.6" width="28.2" height="49.3" fill="#cbeae0" stroke="#18926A" stroke-width="1.85"/>
<line x1="590" y1="1649.7" x2="618.2" y2="1649.7" stroke="#18926A" stroke-width="3.1"/>
<path d="M611.8 1589.3l2.4 2.4l-2.4 2.4l-2.4 -2.4zM597.5 1609.7l2.4 2.4l-2.4 2.4l-2.4 -2.4zM607.8 1575.7l2.4 2.4l-2.4 2.4l-2.4 -2.4zM610.5 1574.3l2.4 2.4l-2.4 2.4l-2.4 -2.4zM599 1591.3l2.4 2.4l-2.4 2.4l-2.4 -2.4zM600.7 1605.3l2.4 2.4l-2.4 2.4l-2.4 -2.4zM597.5 1604.3l2.4 2.4l-2.4 2.4l-2.4 -2.4zM600.8 1618.8l2.4 2.4l-2.4 2.4l-2.4 -2.4zM597.5 1616.1l2.4 2.4l-2.4 2.4l-2.4 -2.4zM613.2 1614.4l2.4 2.4l-2.4 2.4l-2.4 -2.4zM595.2 1596.4l2.4 2.4l-2.4 2.4l-2.4 -2.4zM606.8 1631.7l2.4 2.4l-2.4 2.4l-2.4 -2.4zM605 1627.8l2.4 2.4l-2.4 2.4l-2.4 -2.4zM603.4 1624.5l2.4 2.4l-2.4 2.4l-2.4 -2.4zM602.8 1640.5l2.4 2.4l-2.4 2.4l-2.4 -2.4zM596.8 1639.2l2.4 2.4l-2.4 2.4l-2.4 -2.4zM596.9 1643l2.4 2.4l-2.4 2.4l-2.4 -2.4zM613.5 1645.4l2.4 2.4l-2.4 2.4l-2.4 -2.4zM604.6 1645.8l2.4 2.4l-2.4 2.4l-2.4 -2.4zM601.2 1629.5l2.4 2.4l-2.4 2.4l-2.4 -2.4zM604 1641l2.4 2.4l-2.4 2.4l-2.4 -2.4zM596.4 1645.5l2.4 2.4l-2.4 2.4l-2.4 -2.4zM611 1659l2.4 2.4l-2.4 2.4l-2.4 -2.4zM604.9 1661.8l2.4 2.4l-2.4 2.4l-2.4 -2.4zM597.3 1649.4l2.4 2.4l-2.4 2.4l-2.4 -2.4zM611.6 1653.9l2.4 2.4l-2.4 2.4l-2.4 -2.4zM598.9 1667.8l2.4 2.4l-2.4 2.4l-2.4 -2.4zM595.2 1669.7l2.4 2.4l-2.4 2.4l-2.4 -2.4zM613 1661.8l2.4 2.4l-2.4 2.4l-2.4 -2.4zM612.5 1655.6l2.4 2.4l-2.4 2.4l-2.4 -2.4zM595.6 1663.2l2.4 2.4l-2.4 2.4l-2.4 -2.4zM603.1 1655.4l2.4 2.4l-2.4 2.4l-2.4 -2.4zM608.7 1653.3l2.4 2.4l-2.4 2.4l-2.4 -2.4zM609.6 1715.9l2.4 2.4l-2.4 2.4l-2.4 -2.4zM595.9 1707.7l2.4 2.4l-2.4 2.4l-2.4 -2.4zM596.4 1692.7l2.4 2.4l-2.4 2.4l-2.4 -2.4zM609.6 1693.1l2.4 2.4l-2.4 2.4l-2.4 -2.4zM603.4 1690.8l2.4 2.4l-2.4 2.4l-2.4 -2.4zM604.4 1729l2.4 2.4l-2.4 2.4l-2.4 -2.4zM606.9 1722.5l2.4 2.4l-2.4 2.4l-2.4 -2.4zM605.6 1719.5l2.4 2.4l-2.4 2.4l-2.4 -2.4zM601.7 1704.3l2.4 2.4l-2.4 2.4l-2.4 -2.4zM597.7 1687.3l2.4 2.4l-2.4 2.4l-2.4 -2.4zM612.5 1716.6l2.4 2.4l-2.4 2.4l-2.4 -2.4zM602.1 1568.5l2.4 2.4l-2.4 2.4l-2.4 -2.4zM608.2 1734.9l2.4 2.4l-2.4 2.4l-2.4 -2.4zM609.7 1517.2l2.4 2.4l-2.4 2.4l-2.4 -2.4zM595.9 1545.9l2.4 2.4l-2.4 2.4l-2.4 -2.4z" fill="#128A64"/>
<line x1="677.5" y1="1547.6" x2="677.5" y2="1647.1" stroke="#9a9a9a" stroke-width="1.25"/>
<line x1="677.5" y1="1721.5" x2="677.5" y2="1832.8" stroke="#9a9a9a" stroke-width="1.25"/>
<rect x="664.5" y="1647.1" width="25.9" height="74.4" fill="#e9e9e9" stroke="#9a9a9a" stroke-width="1.5"/>
<line x1="664.5" y1="1693.7" x2="690.4" y2="1693.7" stroke="#9a9a9a" stroke-width="3.1"/>
<path d="M677.1 1635.7l2.4 2.4l-2.4 2.4l-2.4 -2.4zM669.7 1571.4l2.4 2.4l-2.4 2.4l-2.4 -2.4zM670.2 1636.1l2.4 2.4l-2.4 2.4l-2.4 -2.4zM678.1 1606.1l2.4 2.4l-2.4 2.4l-2.4 -2.4zM676.8 1567.4l2.4 2.4l-2.4 2.4l-2.4 -2.4zM678.1 1573.3l2.4 2.4l-2.4 2.4l-2.4 -2.4zM674.9 1607l2.4 2.4l-2.4 2.4l-2.4 -2.4zM675.6 1577.2l2.4 2.4l-2.4 2.4l-2.4 -2.4zM670.4 1577.8l2.4 2.4l-2.4 2.4l-2.4 -2.4zM684.5 1581.8l2.4 2.4l-2.4 2.4l-2.4 -2.4zM684.9 1606.6l2.4 2.4l-2.4 2.4l-2.4 -2.4zM685.9 1645.4l2.4 2.4l-2.4 2.4l-2.4 -2.4zM683 1667.5l2.4 2.4l-2.4 2.4l-2.4 -2.4zM681 1671.3l2.4 2.4l-2.4 2.4l-2.4 -2.4zM682.2 1655.4l2.4 2.4l-2.4 2.4l-2.4 -2.4zM673 1651.9l2.4 2.4l-2.4 2.4l-2.4 -2.4zM675.4 1646.1l2.4 2.4l-2.4 2.4l-2.4 -2.4zM673.5 1668.8l2.4 2.4l-2.4 2.4l-2.4 -2.4zM669.6 1686.2l2.4 2.4l-2.4 2.4l-2.4 -2.4zM672.4 1671.7l2.4 2.4l-2.4 2.4l-2.4 -2.4zM682.8 1672.4l2.4 2.4l-2.4 2.4l-2.4 -2.4zM669.1 1677.8l2.4 2.4l-2.4 2.4l-2.4 -2.4zM679.3 1698.1l2.4 2.4l-2.4 2.4l-2.4 -2.4zM668.7 1718.6l2.4 2.4l-2.4 2.4l-2.4 -2.4zM681.1 1708.5l2.4 2.4l-2.4 2.4l-2.4 -2.4zM674.4 1713.9l2.4 2.4l-2.4 2.4l-2.4 -2.4zM676.7 1713.8l2.4 2.4l-2.4 2.4l-2.4 -2.4zM668.2 1716.9l2.4 2.4l-2.4 2.4l-2.4 -2.4zM675.8 1717.4l2.4 2.4l-2.4 2.4l-2.4 -2.4zM669.6 1702.6l2.4 2.4l-2.4 2.4l-2.4 -2.4zM681.9 1698.1l2.4 2.4l-2.4 2.4l-2.4 -2.4zM670.8 1710.2l2.4 2.4l-2.4 2.4l-2.4 -2.4zM670.6 1700.9l2.4 2.4l-2.4 2.4l-2.4 -2.4zM672.1 1794.6l2.4 2.4l-2.4 2.4l-2.4 -2.4zM686.5 1779.1l2.4 2.4l-2.4 2.4l-2.4 -2.4zM683 1719.3l2.4 2.4l-2.4 2.4l-2.4 -2.4zM677.4 1763.8l2.4 2.4l-2.4 2.4l-2.4 -2.4zM685.2 1736.9l2.4 2.4l-2.4 2.4l-2.4 -2.4zM680 1739.3l2.4 2.4l-2.4 2.4l-2.4 -2.4zM679.8 1794.4l2.4 2.4l-2.4 2.4l-2.4 -2.4zM682.9 1731.4l2.4 2.4l-2.4 2.4l-2.4 -2.4zM681.6 1809.4l2.4 2.4l-2.4 2.4l-2.4 -2.4zM671 1777.1l2.4 2.4l-2.4 2.4l-2.4 -2.4zM680.7 1721.8l2.4 2.4l-2.4 2.4l-2.4 -2.4zM680.4 1545.2l2.4 2.4l-2.4 2.4l-2.4 -2.4zM673.1 1830.4l2.4 2.4l-2.4 2.4l-2.4 -2.4zM669.8 1860.2l2.4 2.4l-2.4 2.4l-2.4 -2.4zM683.5 1873.8l2.4 2.4l-2.4 2.4l-2.4 -2.4z" fill="#969696"/>
<line x1="709.1" y1="1648.2" x2="709.1" y2="1712" stroke="#DBA626" stroke-width="1.3"/>
<line x1="709.1" y1="1786.9" x2="709.1" y2="1892.3" stroke="#DBA626" stroke-width="1.3"/>
<rect x="695.3" y="1712" width="27.7" height="74.9" fill="#fbeacb" stroke="#DBA626" stroke-width="1.55"/>
<line x1="695.3" y1="1760.5" x2="723" y2="1760.5" stroke="#DBA626" stroke-width="3.1"/>
<path d="M717.5 1701.7l2.4 2.4l-2.4 2.4l-2.4 -2.4zM713.8 1705.3l2.4 2.4l-2.4 2.4l-2.4 -2.4zM714.9 1701.9l2.4 2.4l-2.4 2.4l-2.4 -2.4zM707.9 1689.9l2.4 2.4l-2.4 2.4l-2.4 -2.4zM714.6 1701.6l2.4 2.4l-2.4 2.4l-2.4 -2.4zM705.3 1703.7l2.4 2.4l-2.4 2.4l-2.4 -2.4zM709.8 1707.8l2.4 2.4l-2.4 2.4l-2.4 -2.4zM701.9 1707.2l2.4 2.4l-2.4 2.4l-2.4 -2.4zM714.6 1708.2l2.4 2.4l-2.4 2.4l-2.4 -2.4zM715.6 1670.1l2.4 2.4l-2.4 2.4l-2.4 -2.4zM703.4 1668.7l2.4 2.4l-2.4 2.4l-2.4 -2.4zM704.1 1731.8l2.4 2.4l-2.4 2.4l-2.4 -2.4zM716.9 1733.5l2.4 2.4l-2.4 2.4l-2.4 -2.4zM713.1 1742.8l2.4 2.4l-2.4 2.4l-2.4 -2.4zM714.5 1728.6l2.4 2.4l-2.4 2.4l-2.4 -2.4zM712.6 1748.1l2.4 2.4l-2.4 2.4l-2.4 -2.4zM715.3 1755.3l2.4 2.4l-2.4 2.4l-2.4 -2.4zM701.3 1729.3l2.4 2.4l-2.4 2.4l-2.4 -2.4zM715.5 1741.2l2.4 2.4l-2.4 2.4l-2.4 -2.4zM711 1726.1l2.4 2.4l-2.4 2.4l-2.4 -2.4zM714.7 1750.2l2.4 2.4l-2.4 2.4l-2.4 -2.4zM708.9 1709.8l2.4 2.4l-2.4 2.4l-2.4 -2.4zM701.8 1758.5l2.4 2.4l-2.4 2.4l-2.4 -2.4zM707.6 1779.5l2.4 2.4l-2.4 2.4l-2.4 -2.4zM708.3 1774.1l2.4 2.4l-2.4 2.4l-2.4 -2.4zM703.7 1767l2.4 2.4l-2.4 2.4l-2.4 -2.4zM715.7 1767.4l2.4 2.4l-2.4 2.4l-2.4 -2.4zM705.2 1774.4l2.4 2.4l-2.4 2.4l-2.4 -2.4zM704.8 1760.4l2.4 2.4l-2.4 2.4l-2.4 -2.4zM708 1776.6l2.4 2.4l-2.4 2.4l-2.4 -2.4zM715 1775.6l2.4 2.4l-2.4 2.4l-2.4 -2.4zM712.6 1761.3l2.4 2.4l-2.4 2.4l-2.4 -2.4zM715.3 1759.2l2.4 2.4l-2.4 2.4l-2.4 -2.4zM704.8 1857.7l2.4 2.4l-2.4 2.4l-2.4 -2.4zM706.5 1787.6l2.4 2.4l-2.4 2.4l-2.4 -2.4zM716.6 1852.9l2.4 2.4l-2.4 2.4l-2.4 -2.4zM716.6 1815.3l2.4 2.4l-2.4 2.4l-2.4 -2.4zM709.1 1835l2.4 2.4l-2.4 2.4l-2.4 -2.4zM709.3 1787.8l2.4 2.4l-2.4 2.4l-2.4 -2.4zM703.2 1785.3l2.4 2.4l-2.4 2.4l-2.4 -2.4zM702.7 1797.3l2.4 2.4l-2.4 2.4l-2.4 -2.4zM699.7 1822.6l2.4 2.4l-2.4 2.4l-2.4 -2.4zM717.6 1858.7l2.4 2.4l-2.4 2.4l-2.4 -2.4zM715 1829.2l2.4 2.4l-2.4 2.4l-2.4 -2.4zM706.2 1645.8l2.4 2.4l-2.4 2.4l-2.4 -2.4zM707.4 1889.9l2.4 2.4l-2.4 2.4l-2.4 -2.4z" fill="#D6A227"/>
<line x1="741.5" y1="1619.5" x2="741.5" y2="1660.7" stroke="#6FB1DD" stroke-width="1.25"/>
<line x1="741.5" y1="1712" x2="741.5" y2="1752.8" stroke="#6FB1DD" stroke-width="1.25"/>
<rect x="727.7" y="1660.7" width="27.6" height="51.3" fill="#dcedfa" stroke="#6FB1DD" stroke-width="1.5"/>
<line x1="727.7" y1="1677.2" x2="755.3" y2="1677.2" stroke="#6FB1DD" stroke-width="3.1"/>
<path d="M742.5 1625.4l2.4 2.4l-2.4 2.4l-2.4 -2.4zM741.8 1654.2l2.4 2.4l-2.4 2.4l-2.4 -2.4zM749.6 1637.9l2.4 2.4l-2.4 2.4l-2.4 -2.4zM744.7 1655.2l2.4 2.4l-2.4 2.4l-2.4 -2.4zM743.9 1623.9l2.4 2.4l-2.4 2.4l-2.4 -2.4zM750.2 1640.4l2.4 2.4l-2.4 2.4l-2.4 -2.4zM744.6 1637.3l2.4 2.4l-2.4 2.4l-2.4 -2.4zM739.1 1647l2.4 2.4l-2.4 2.4l-2.4 -2.4zM744.9 1643.2l2.4 2.4l-2.4 2.4l-2.4 -2.4zM741.5 1655.6l2.4 2.4l-2.4 2.4l-2.4 -2.4zM750.5 1637.4l2.4 2.4l-2.4 2.4l-2.4 -2.4zM747.9 1659.2l2.4 2.4l-2.4 2.4l-2.4 -2.4zM742.6 1669.6l2.4 2.4l-2.4 2.4l-2.4 -2.4zM746.3 1665.7l2.4 2.4l-2.4 2.4l-2.4 -2.4zM745.8 1673l2.4 2.4l-2.4 2.4l-2.4 -2.4zM732.7 1670.7l2.4 2.4l-2.4 2.4l-2.4 -2.4zM734.6 1663.7l2.4 2.4l-2.4 2.4l-2.4 -2.4zM748.9 1674l2.4 2.4l-2.4 2.4l-2.4 -2.4zM743.2 1660.7l2.4 2.4l-2.4 2.4l-2.4 -2.4zM732.9 1667.8l2.4 2.4l-2.4 2.4l-2.4 -2.4zM746.2 1664.8l2.4 2.4l-2.4 2.4l-2.4 -2.4zM737.3 1668.9l2.4 2.4l-2.4 2.4l-2.4 -2.4zM737.5 1701.3l2.4 2.4l-2.4 2.4l-2.4 -2.4zM740 1693.7l2.4 2.4l-2.4 2.4l-2.4 -2.4zM744.3 1708.8l2.4 2.4l-2.4 2.4l-2.4 -2.4zM744.9 1702.8l2.4 2.4l-2.4 2.4l-2.4 -2.4zM750.3 1688l2.4 2.4l-2.4 2.4l-2.4 -2.4zM745.1 1699.5l2.4 2.4l-2.4 2.4l-2.4 -2.4zM735.1 1684.5l2.4 2.4l-2.4 2.4l-2.4 -2.4zM747.7 1694.8l2.4 2.4l-2.4 2.4l-2.4 -2.4zM738.6 1702.4l2.4 2.4l-2.4 2.4l-2.4 -2.4zM741.8 1679.7l2.4 2.4l-2.4 2.4l-2.4 -2.4zM735.1 1705.3l2.4 2.4l-2.4 2.4l-2.4 -2.4zM735.2 1717.4l2.4 2.4l-2.4 2.4l-2.4 -2.4zM733 1732.3l2.4 2.4l-2.4 2.4l-2.4 -2.4zM739.3 1732.9l2.4 2.4l-2.4 2.4l-2.4 -2.4zM750.3 1710.5l2.4 2.4l-2.4 2.4l-2.4 -2.4zM737.9 1737.8l2.4 2.4l-2.4 2.4l-2.4 -2.4zM735.7 1711.2l2.4 2.4l-2.4 2.4l-2.4 -2.4zM740.3 1732l2.4 2.4l-2.4 2.4l-2.4 -2.4zM736.9 1741.8l2.4 2.4l-2.4 2.4l-2.4 -2.4zM739.3 1729.1l2.4 2.4l-2.4 2.4l-2.4 -2.4zM737.1 1710.6l2.4 2.4l-2.4 2.4l-2.4 -2.4zM749.3 1737l2.4 2.4l-2.4 2.4l-2.4 -2.4zM740.9 1617.1l2.4 2.4l-2.4 2.4l-2.4 -2.4zM745.5 1750.4l2.4 2.4l-2.4 2.4l-2.4 -2.4zM735.2 1496.3l2.4 2.4l-2.4 2.4l-2.4 -2.4zM744 1521l2.4 2.4l-2.4 2.4l-2.4 -2.4z" fill="#66A8D8"/>
<line x1="772.4" y1="1611.8" x2="772.4" y2="1695.5" stroke="#18926A" stroke-width="1.6"/>
<line x1="772.4" y1="1777" x2="772.4" y2="1847.2" stroke="#18926A" stroke-width="1.6"/>
<rect x="758.5" y="1695.5" width="27.7" height="81.5" fill="#cbeae0" stroke="#18926A" stroke-width="1.85"/>
<line x1="758.5" y1="1720.8" x2="786.2" y2="1720.8" stroke="#18926A" stroke-width="3.1"/>
<path d="M777.6 1670.4l2.4 2.4l-2.4 2.4l-2.4 -2.4zM765.7 1646.7l2.4 2.4l-2.4 2.4l-2.4 -2.4zM771.8 1678.3l2.4 2.4l-2.4 2.4l-2.4 -2.4zM775.6 1665.1l2.4 2.4l-2.4 2.4l-2.4 -2.4zM768.1 1678l2.4 2.4l-2.4 2.4l-2.4 -2.4zM780.3 1650.6l2.4 2.4l-2.4 2.4l-2.4 -2.4zM768.3 1663l2.4 2.4l-2.4 2.4l-2.4 -2.4zM767.8 1670l2.4 2.4l-2.4 2.4l-2.4 -2.4zM763.6 1679.2l2.4 2.4l-2.4 2.4l-2.4 -2.4zM773.6 1682.7l2.4 2.4l-2.4 2.4l-2.4 -2.4zM780.7 1649.8l2.4 2.4l-2.4 2.4l-2.4 -2.4zM767.5 1699.8l2.4 2.4l-2.4 2.4l-2.4 -2.4zM773.3 1694.9l2.4 2.4l-2.4 2.4l-2.4 -2.4zM775.7 1712.2l2.4 2.4l-2.4 2.4l-2.4 -2.4zM778.2 1703.5l2.4 2.4l-2.4 2.4l-2.4 -2.4zM768.7 1695.9l2.4 2.4l-2.4 2.4l-2.4 -2.4zM781.2 1709.4l2.4 2.4l-2.4 2.4l-2.4 -2.4zM776 1709.1l2.4 2.4l-2.4 2.4l-2.4 -2.4zM770.3 1712.7l2.4 2.4l-2.4 2.4l-2.4 -2.4zM777 1716.9l2.4 2.4l-2.4 2.4l-2.4 -2.4zM770.3 1701.7l2.4 2.4l-2.4 2.4l-2.4 -2.4zM769.5 1713.5l2.4 2.4l-2.4 2.4l-2.4 -2.4zM779.4 1728.8l2.4 2.4l-2.4 2.4l-2.4 -2.4zM772.8 1748.3l2.4 2.4l-2.4 2.4l-2.4 -2.4zM780 1756l2.4 2.4l-2.4 2.4l-2.4 -2.4zM769.3 1725.9l2.4 2.4l-2.4 2.4l-2.4 -2.4zM770.7 1722.1l2.4 2.4l-2.4 2.4l-2.4 -2.4zM779 1746.6l2.4 2.4l-2.4 2.4l-2.4 -2.4zM773.8 1755.9l2.4 2.4l-2.4 2.4l-2.4 -2.4zM773.8 1741.1l2.4 2.4l-2.4 2.4l-2.4 -2.4zM778.9 1733.8l2.4 2.4l-2.4 2.4l-2.4 -2.4zM778.8 1762.7l2.4 2.4l-2.4 2.4l-2.4 -2.4zM775.6 1726.9l2.4 2.4l-2.4 2.4l-2.4 -2.4zM772.4 1787.2l2.4 2.4l-2.4 2.4l-2.4 -2.4zM779.9 1779.7l2.4 2.4l-2.4 2.4l-2.4 -2.4zM778.4 1787.8l2.4 2.4l-2.4 2.4l-2.4 -2.4zM779.5 1792.9l2.4 2.4l-2.4 2.4l-2.4 -2.4zM776.2 1827.9l2.4 2.4l-2.4 2.4l-2.4 -2.4zM774.5 1789.9l2.4 2.4l-2.4 2.4l-2.4 -2.4zM764.1 1816.4l2.4 2.4l-2.4 2.4l-2.4 -2.4zM778.5 1795.5l2.4 2.4l-2.4 2.4l-2.4 -2.4zM766.9 1816.5l2.4 2.4l-2.4 2.4l-2.4 -2.4zM764.6 1820.2l2.4 2.4l-2.4 2.4l-2.4 -2.4zM781.4 1791.4l2.4 2.4l-2.4 2.4l-2.4 -2.4zM776 1609.4l2.4 2.4l-2.4 2.4l-2.4 -2.4zM770.7 1844.8l2.4 2.4l-2.4 2.4l-2.4 -2.4zM769.4 1473.2l2.4 2.4l-2.4 2.4l-2.4 -2.4zM767.2 1934.6l2.4 2.4l-2.4 2.4l-2.4 -2.4z" fill="#128A64"/>
<line x1="895.8" y1="1679.5" x2="895.8" y2="1721.7" stroke="#9a9a9a" stroke-width="1.25"/>
<line x1="895.8" y1="1805.4" x2="895.8" y2="1918.5" stroke="#9a9a9a" stroke-width="1.25"/>
<rect x="881.9" y="1721.7" width="27.7" height="83.7" fill="#e9e9e9" stroke="#9a9a9a" stroke-width="1.5"/>
<line x1="881.9" y1="1754.3" x2="909.6" y2="1754.3" stroke="#9a9a9a" stroke-width="3.1"/>
<path d="M887.6 1710l2.4 2.4l-2.4 2.4l-2.4 -2.4zM892.4 1714.4l2.4 2.4l-2.4 2.4l-2.4 -2.4zM898.2 1719.4l2.4 2.4l-2.4 2.4l-2.4 -2.4zM891.5 1723.8l2.4 2.4l-2.4 2.4l-2.4 -2.4zM894.7 1754.9l2.4 2.4l-2.4 2.4l-2.4 -2.4zM901.6 1780.3l2.4 2.4l-2.4 2.4l-2.4 -2.4zM902 1904.3l2.4 2.4l-2.4 2.4l-2.4 -2.4zM890.5 1891.9l2.4 2.4l-2.4 2.4l-2.4 -2.4zM897.3 1677.1l2.4 2.4l-2.4 2.4l-2.4 -2.4zM893.8 1916.1l2.4 2.4l-2.4 2.4l-2.4 -2.4zM891.2 1454.1l2.4 2.4l-2.4 2.4l-2.4 -2.4zM889.4 1940.4l2.4 2.4l-2.4 2.4l-2.4 -2.4zM900.5 1938.8l2.4 2.4l-2.4 2.4l-2.4 -2.4z" fill="#969696"/>
<line x1="928.3" y1="1569" x2="928.3" y2="1702.6" stroke="#DBA626" stroke-width="1.3"/>
<line x1="928.3" y1="1927.3" x2="928.3" y2="2198.3" stroke="#DBA626" stroke-width="1.3"/>
<rect x="914" y="1702.6" width="28.6" height="224.7" fill="#fbeacb" stroke="#DBA626" stroke-width="1.55"/>
<line x1="914" y1="1783.4" x2="942.6" y2="1783.4" stroke="#DBA626" stroke-width="3.1"/>
<path d="M929.6 1628.2l2.4 2.4l-2.4 2.4l-2.4 -2.4zM933.9 1612.6l2.4 2.4l-2.4 2.4l-2.4 -2.4zM934.7 1611.3l2.4 2.4l-2.4 2.4l-2.4 -2.4zM929 1681.8l2.4 2.4l-2.4 2.4l-2.4 -2.4zM933.6 1578.2l2.4 2.4l-2.4 2.4l-2.4 -2.4zM928.4 1577.6l2.4 2.4l-2.4 2.4l-2.4 -2.4zM920 1639.9l2.4 2.4l-2.4 2.4l-2.4 -2.4zM932.6 1751.1l2.4 2.4l-2.4 2.4l-2.4 -2.4zM926.4 1747.5l2.4 2.4l-2.4 2.4l-2.4 -2.4zM930 1741.6l2.4 2.4l-2.4 2.4l-2.4 -2.4zM935.3 1718.5l2.4 2.4l-2.4 2.4l-2.4 -2.4zM934.1 1780.7l2.4 2.4l-2.4 2.4l-2.4 -2.4zM925.1 1777.9l2.4 2.4l-2.4 2.4l-2.4 -2.4zM920.2 1779.9l2.4 2.4l-2.4 2.4l-2.4 -2.4zM921.3 1849.8l2.4 2.4l-2.4 2.4l-2.4 -2.4zM931.8 1846.3l2.4 2.4l-2.4 2.4l-2.4 -2.4zM927.4 1882.9l2.4 2.4l-2.4 2.4l-2.4 -2.4zM922.4 1830.2l2.4 2.4l-2.4 2.4l-2.4 -2.4zM924.2 1839l2.4 2.4l-2.4 2.4l-2.4 -2.4zM932.8 1808.9l2.4 2.4l-2.4 2.4l-2.4 -2.4zM927.1 1855.3l2.4 2.4l-2.4 2.4l-2.4 -2.4zM932.2 2108.8l2.4 2.4l-2.4 2.4l-2.4 -2.4zM923.8 2109.1l2.4 2.4l-2.4 2.4l-2.4 -2.4zM932.1 2015.2l2.4 2.4l-2.4 2.4l-2.4 -2.4zM933 1930l2.4 2.4l-2.4 2.4l-2.4 -2.4zM936.3 1934.8l2.4 2.4l-2.4 2.4l-2.4 -2.4zM932.5 1980l2.4 2.4l-2.4 2.4l-2.4 -2.4zM922.7 2156.9l2.4 2.4l-2.4 2.4l-2.4 -2.4zM922.5 1566.6l2.4 2.4l-2.4 2.4l-2.4 -2.4zM932.7 2195.9l2.4 2.4l-2.4 2.4l-2.4 -2.4z" fill="#D6A227"/>
<line x1="959.1" y1="1548.1" x2="959.1" y2="1681.7" stroke="#6FB1DD" stroke-width="1.25"/>
<line x1="959.1" y1="1927.3" x2="959.1" y2="2107.9" stroke="#6FB1DD" stroke-width="1.25"/>
<rect x="944.8" y="1681.7" width="28.6" height="245.6" fill="#dcedfa" stroke="#6FB1DD" stroke-width="1.5"/>
<line x1="944.8" y1="1840.6" x2="973.4" y2="1840.6" stroke="#6FB1DD" stroke-width="3.1"/>
<path d="M961.6 1652.1l2.4 2.4l-2.4 2.4l-2.4 -2.4zM956.4 1598.3l2.4 2.4l-2.4 2.4l-2.4 -2.4zM961.6 1583.3l2.4 2.4l-2.4 2.4l-2.4 -2.4zM955.4 1678.5l2.4 2.4l-2.4 2.4l-2.4 -2.4zM952.9 1560.8l2.4 2.4l-2.4 2.4l-2.4 -2.4zM966.7 1735.8l2.4 2.4l-2.4 2.4l-2.4 -2.4zM958.2 1807.1l2.4 2.4l-2.4 2.4l-2.4 -2.4zM951.6 1695.5l2.4 2.4l-2.4 2.4l-2.4 -2.4zM964.4 1703.8l2.4 2.4l-2.4 2.4l-2.4 -2.4zM968.4 1754.2l2.4 2.4l-2.4 2.4l-2.4 -2.4zM964.7 1917.2l2.4 2.4l-2.4 2.4l-2.4 -2.4zM965.2 1879.5l2.4 2.4l-2.4 2.4l-2.4 -2.4zM951.7 1849.3l2.4 2.4l-2.4 2.4l-2.4 -2.4zM959.3 1887l2.4 2.4l-2.4 2.4l-2.4 -2.4zM954.4 1856.3l2.4 2.4l-2.4 2.4l-2.4 -2.4zM966.9 2093.3l2.4 2.4l-2.4 2.4l-2.4 -2.4zM967.6 1963.4l2.4 2.4l-2.4 2.4l-2.4 -2.4zM957.9 1927.4l2.4 2.4l-2.4 2.4l-2.4 -2.4zM956.9 1960.3l2.4 2.4l-2.4 2.4l-2.4 -2.4zM965.6 1949.4l2.4 2.4l-2.4 2.4l-2.4 -2.4zM954.7 1545.7l2.4 2.4l-2.4 2.4l-2.4 -2.4zM953.3 2105.5l2.4 2.4l-2.4 2.4l-2.4 -2.4z" fill="#66A8D8"/>
<line x1="991.3" y1="1692.2" x2="991.3" y2="1746.6" stroke="#18926A" stroke-width="1.6"/>
<line x1="991.3" y1="1916.2" x2="991.3" y2="2023.1" stroke="#18926A" stroke-width="1.6"/>
<rect x="977.7" y="1746.6" width="27.2" height="169.6" fill="#cbeae0" stroke="#18926A" stroke-width="1.85"/>
<line x1="977.7" y1="1863.8" x2="1004.9" y2="1863.8" stroke="#18926A" stroke-width="3.1"/>
<path d="M992.9 1708.3l2.4 2.4l-2.4 2.4l-2.4 -2.4zM982 1717.4l2.4 2.4l-2.4 2.4l-2.4 -2.4zM996.7 1841.5l2.4 2.4l-2.4 2.4l-2.4 -2.4zM982.6 1798.5l2.4 2.4l-2.4 2.4l-2.4 -2.4zM991.9 1908l2.4 2.4l-2.4 2.4l-2.4 -2.4zM987.9 1865.1l2.4 2.4l-2.4 2.4l-2.4 -2.4zM998.6 1943.8l2.4 2.4l-2.4 2.4l-2.4 -2.4zM993.9 1956.3l2.4 2.4l-2.4 2.4l-2.4 -2.4zM987.8 1689.8l2.4 2.4l-2.4 2.4l-2.4 -2.4zM988.2 2020.7l2.4 2.4l-2.4 2.4l-2.4 -2.4z" fill="#128A64"/>
<line x1="1065.5" y1="1412.9" x2="1065.5" y2="1635.7" stroke="#9a9a9a" stroke-width="1.25"/>
<line x1="1065.5" y1="1848.8" x2="1065.5" y2="2002.2" stroke="#9a9a9a" stroke-width="1.25"/>
<rect x="1051.6" y="1635.7" width="27.9" height="213.1" fill="#e9e9e9" stroke="#9a9a9a" stroke-width="1.5"/>
<line x1="1051.6" y1="1751.5" x2="1079.5" y2="1751.5" stroke="#9a9a9a" stroke-width="3.1"/>
<path d="M1063.3 1618.4l2.4 2.4l-2.4 2.4l-2.4 -2.4zM1067.3 1456.2l2.4 2.4l-2.4 2.4l-2.4 -2.4zM1059.8 1462.8l2.4 2.4l-2.4 2.4l-2.4 -2.4zM1067.2 1539.2l2.4 2.4l-2.4 2.4l-2.4 -2.4zM1069.5 1572.9l2.4 2.4l-2.4 2.4l-2.4 -2.4zM1057.3 1535.8l2.4 2.4l-2.4 2.4l-2.4 -2.4zM1057.1 1588.3l2.4 2.4l-2.4 2.4l-2.4 -2.4zM1063.7 1542l2.4 2.4l-2.4 2.4l-2.4 -2.4zM1069.6 1579.3l2.4 2.4l-2.4 2.4l-2.4 -2.4zM1068.4 1661.1l2.4 2.4l-2.4 2.4l-2.4 -2.4zM1065 1713.4l2.4 2.4l-2.4 2.4l-2.4 -2.4zM1073.3 1649.7l2.4 2.4l-2.4 2.4l-2.4 -2.4zM1057.2 1702.7l2.4 2.4l-2.4 2.4l-2.4 -2.4zM1074.8 1660.9l2.4 2.4l-2.4 2.4l-2.4 -2.4zM1063.5 1659.8l2.4 2.4l-2.4 2.4l-2.4 -2.4zM1071.7 1724.6l2.4 2.4l-2.4 2.4l-2.4 -2.4zM1070.1 1706.7l2.4 2.4l-2.4 2.4l-2.4 -2.4zM1057.8 1637.7l2.4 2.4l-2.4 2.4l-2.4 -2.4zM1071.3 1844.1l2.4 2.4l-2.4 2.4l-2.4 -2.4zM1057 1752.8l2.4 2.4l-2.4 2.4l-2.4 -2.4zM1073.7 1772.5l2.4 2.4l-2.4 2.4l-2.4 -2.4zM1068.8 1770.5l2.4 2.4l-2.4 2.4l-2.4 -2.4zM1068.2 1839.6l2.4 2.4l-2.4 2.4l-2.4 -2.4zM1061 1838.5l2.4 2.4l-2.4 2.4l-2.4 -2.4zM1056.4 1764l2.4 2.4l-2.4 2.4l-2.4 -2.4zM1058 1822.8l2.4 2.4l-2.4 2.4l-2.4 -2.4zM1069.5 1843.8l2.4 2.4l-2.4 2.4l-2.4 -2.4zM1071.4 1952.4l2.4 2.4l-2.4 2.4l-2.4 -2.4zM1065.8 1956.7l2.4 2.4l-2.4 2.4l-2.4 -2.4zM1071 1968l2.4 2.4l-2.4 2.4l-2.4 -2.4zM1073.5 1858.5l2.4 2.4l-2.4 2.4l-2.4 -2.4zM1072.2 1997.6l2.4 2.4l-2.4 2.4l-2.4 -2.4zM1071.7 1898.1l2.4 2.4l-2.4 2.4l-2.4 -2.4zM1067.8 1905l2.4 2.4l-2.4 2.4l-2.4 -2.4zM1071.2 1893.2l2.4 2.4l-2.4 2.4l-2.4 -2.4zM1057.1 1974.2l2.4 2.4l-2.4 2.4l-2.4 -2.4zM1066.1 1410.5l2.4 2.4l-2.4 2.4l-2.4 -2.4zM1063 1999.8l2.4 2.4l-2.4 2.4l-2.4 -2.4z" fill="#969696"/>
<line x1="1096.2" y1="1511.7" x2="1096.2" y2="1674" stroke="#DBA626" stroke-width="1.3"/>
<line x1="1096.2" y1="1954.4" x2="1096.2" y2="2125.5" stroke="#DBA626" stroke-width="1.3"/>
<rect x="1082.9" y="1674" width="26.6" height="280.4" fill="#fbeacb" stroke="#DBA626" stroke-width="1.55"/>
<line x1="1082.9" y1="1747.1" x2="1109.5" y2="1747.1" stroke="#DBA626" stroke-width="3.1"/>
<path d="M1086.8 1594.3l2.4 2.4l-2.4 2.4l-2.4 -2.4zM1087.2 1641.4l2.4 2.4l-2.4 2.4l-2.4 -2.4zM1102.1 1651.7l2.4 2.4l-2.4 2.4l-2.4 -2.4zM1089 1603.3l2.4 2.4l-2.4 2.4l-2.4 -2.4zM1090.6 1629.4l2.4 2.4l-2.4 2.4l-2.4 -2.4zM1088.8 1599.1l2.4 2.4l-2.4 2.4l-2.4 -2.4zM1097.1 1668.9l2.4 2.4l-2.4 2.4l-2.4 -2.4zM1088.5 1587.5l2.4 2.4l-2.4 2.4l-2.4 -2.4zM1102.8 1639.5l2.4 2.4l-2.4 2.4l-2.4 -2.4zM1088.6 1733.6l2.4 2.4l-2.4 2.4l-2.4 -2.4zM1092.5 1698.5l2.4 2.4l-2.4 2.4l-2.4 -2.4zM1089.5 1727.3l2.4 2.4l-2.4 2.4l-2.4 -2.4zM1105.3 1715.9l2.4 2.4l-2.4 2.4l-2.4 -2.4zM1086.8 1727.8l2.4 2.4l-2.4 2.4l-2.4 -2.4zM1088.9 1677.1l2.4 2.4l-2.4 2.4l-2.4 -2.4zM1098.1 1722.2l2.4 2.4l-2.4 2.4l-2.4 -2.4zM1095.4 1709.6l2.4 2.4l-2.4 2.4l-2.4 -2.4zM1098.3 1701.4l2.4 2.4l-2.4 2.4l-2.4 -2.4zM1104.1 1879.2l2.4 2.4l-2.4 2.4l-2.4 -2.4zM1101.8 1896.6l2.4 2.4l-2.4 2.4l-2.4 -2.4zM1102.6 1933.9l2.4 2.4l-2.4 2.4l-2.4 -2.4zM1087.3 1893.3l2.4 2.4l-2.4 2.4l-2.4 -2.4zM1102.8 1885.8l2.4 2.4l-2.4 2.4l-2.4 -2.4zM1103.4 1834l2.4 2.4l-2.4 2.4l-2.4 -2.4zM1104.6 1782l2.4 2.4l-2.4 2.4l-2.4 -2.4zM1100.1 1836.3l2.4 2.4l-2.4 2.4l-2.4 -2.4zM1092.4 1797.1l2.4 2.4l-2.4 2.4l-2.4 -2.4zM1092.9 2041.3l2.4 2.4l-2.4 2.4l-2.4 -2.4zM1095.1 2090.2l2.4 2.4l-2.4 2.4l-2.4 -2.4zM1099.1 1954.3l2.4 2.4l-2.4 2.4l-2.4 -2.4zM1101.2 1960.2l2.4 2.4l-2.4 2.4l-2.4 -2.4zM1105.6 1972.1l2.4 2.4l-2.4 2.4l-2.4 -2.4zM1091.9 1982.9l2.4 2.4l-2.4 2.4l-2.4 -2.4zM1094.5 2058.3l2.4 2.4l-2.4 2.4l-2.4 -2.4zM1091.1 2111.7l2.4 2.4l-2.4 2.4l-2.4 -2.4zM1104.2 1965.9l2.4 2.4l-2.4 2.4l-2.4 -2.4zM1094.1 1509.3l2.4 2.4l-2.4 2.4l-2.4 -2.4zM1099.4 2123.1l2.4 2.4l-2.4 2.4l-2.4 -2.4z" fill="#D6A227"/>
<line x1="1128.7" y1="1306.1" x2="1128.7" y2="1620.7" stroke="#6FB1DD" stroke-width="1.25"/>
<line x1="1128.7" y1="1875.9" x2="1128.7" y2="2012.1" stroke="#6FB1DD" stroke-width="1.25"/>
<rect x="1114.4" y="1620.7" width="28.6" height="255.2" fill="#dcedfa" stroke="#6FB1DD" stroke-width="1.5"/>
<line x1="1114.4" y1="1753.2" x2="1143" y2="1753.2" stroke="#6FB1DD" stroke-width="3.1"/>
<path d="M1136.1 1566.9l2.4 2.4l-2.4 2.4l-2.4 -2.4zM1129.3 1571.5l2.4 2.4l-2.4 2.4l-2.4 -2.4zM1134.9 1368.6l2.4 2.4l-2.4 2.4l-2.4 -2.4zM1131.1 1443.4l2.4 2.4l-2.4 2.4l-2.4 -2.4zM1129.4 1459.7l2.4 2.4l-2.4 2.4l-2.4 -2.4zM1122.3 1610.7l2.4 2.4l-2.4 2.4l-2.4 -2.4zM1131.5 1505.7l2.4 2.4l-2.4 2.4l-2.4 -2.4zM1137 1507.7l2.4 2.4l-2.4 2.4l-2.4 -2.4zM1136.6 1471.5l2.4 2.4l-2.4 2.4l-2.4 -2.4zM1137.6 1709.7l2.4 2.4l-2.4 2.4l-2.4 -2.4zM1123.2 1630.2l2.4 2.4l-2.4 2.4l-2.4 -2.4zM1136.4 1656.4l2.4 2.4l-2.4 2.4l-2.4 -2.4zM1124.1 1620.1l2.4 2.4l-2.4 2.4l-2.4 -2.4zM1138 1713.1l2.4 2.4l-2.4 2.4l-2.4 -2.4zM1127.5 1641.7l2.4 2.4l-2.4 2.4l-2.4 -2.4zM1132.3 1709.3l2.4 2.4l-2.4 2.4l-2.4 -2.4zM1133.5 1717.1l2.4 2.4l-2.4 2.4l-2.4 -2.4zM1124.1 1651.2l2.4 2.4l-2.4 2.4l-2.4 -2.4zM1132.3 1754.2l2.4 2.4l-2.4 2.4l-2.4 -2.4zM1124.1 1776.5l2.4 2.4l-2.4 2.4l-2.4 -2.4zM1131.4 1869.1l2.4 2.4l-2.4 2.4l-2.4 -2.4zM1131.7 1823.3l2.4 2.4l-2.4 2.4l-2.4 -2.4zM1132.4 1824.2l2.4 2.4l-2.4 2.4l-2.4 -2.4zM1120.4 1788.1l2.4 2.4l-2.4 2.4l-2.4 -2.4zM1119.5 1759l2.4 2.4l-2.4 2.4l-2.4 -2.4zM1121.9 1795.2l2.4 2.4l-2.4 2.4l-2.4 -2.4zM1128.6 1764.6l2.4 2.4l-2.4 2.4l-2.4 -2.4zM1132.3 1876.4l2.4 2.4l-2.4 2.4l-2.4 -2.4zM1133.8 1954.7l2.4 2.4l-2.4 2.4l-2.4 -2.4zM1121.1 1969l2.4 2.4l-2.4 2.4l-2.4 -2.4zM1127 1950.6l2.4 2.4l-2.4 2.4l-2.4 -2.4zM1127.7 1904.7l2.4 2.4l-2.4 2.4l-2.4 -2.4zM1121 1900.6l2.4 2.4l-2.4 2.4l-2.4 -2.4zM1125.7 1880l2.4 2.4l-2.4 2.4l-2.4 -2.4zM1119.8 1889.9l2.4 2.4l-2.4 2.4l-2.4 -2.4zM1123.5 1890.3l2.4 2.4l-2.4 2.4l-2.4 -2.4zM1133 1303.7l2.4 2.4l-2.4 2.4l-2.4 -2.4zM1132.3 2009.7l2.4 2.4l-2.4 2.4l-2.4 -2.4z" fill="#66A8D8"/>
<line x1="1159.2" y1="1635" x2="1159.2" y2="1781.2" stroke="#18926A" stroke-width="1.6"/>
<line x1="1159.2" y1="1880.3" x2="1159.2" y2="2019.8" stroke="#18926A" stroke-width="1.6"/>
<rect x="1145.2" y="1781.2" width="27.9" height="99.1" fill="#cbeae0" stroke="#18926A" stroke-width="1.85"/>
<line x1="1145.2" y1="1818" x2="1173.1" y2="1818" stroke="#18926A" stroke-width="3.1"/>
<path d="M1154.9 1743.1l2.4 2.4l-2.4 2.4l-2.4 -2.4zM1153.3 1638.3l2.4 2.4l-2.4 2.4l-2.4 -2.4zM1152.7 1768.9l2.4 2.4l-2.4 2.4l-2.4 -2.4zM1160.8 1741.8l2.4 2.4l-2.4 2.4l-2.4 -2.4zM1153.1 1742l2.4 2.4l-2.4 2.4l-2.4 -2.4zM1151.5 1670.2l2.4 2.4l-2.4 2.4l-2.4 -2.4zM1156.9 1777l2.4 2.4l-2.4 2.4l-2.4 -2.4zM1160.5 1741l2.4 2.4l-2.4 2.4l-2.4 -2.4zM1150.9 1683.8l2.4 2.4l-2.4 2.4l-2.4 -2.4zM1165.8 1779.3l2.4 2.4l-2.4 2.4l-2.4 -2.4zM1167.9 1783.6l2.4 2.4l-2.4 2.4l-2.4 -2.4zM1163.4 1792.2l2.4 2.4l-2.4 2.4l-2.4 -2.4zM1164.6 1783.9l2.4 2.4l-2.4 2.4l-2.4 -2.4zM1156.6 1788.1l2.4 2.4l-2.4 2.4l-2.4 -2.4zM1151.8 1798l2.4 2.4l-2.4 2.4l-2.4 -2.4zM1164.8 1787.9l2.4 2.4l-2.4 2.4l-2.4 -2.4zM1156.9 1789.3l2.4 2.4l-2.4 2.4l-2.4 -2.4zM1153.9 1806.9l2.4 2.4l-2.4 2.4l-2.4 -2.4zM1153.8 1827.7l2.4 2.4l-2.4 2.4l-2.4 -2.4zM1156.6 1839.5l2.4 2.4l-2.4 2.4l-2.4 -2.4zM1158.6 1855.6l2.4 2.4l-2.4 2.4l-2.4 -2.4zM1150.6 1869.8l2.4 2.4l-2.4 2.4l-2.4 -2.4zM1165.5 1856.9l2.4 2.4l-2.4 2.4l-2.4 -2.4zM1150.2 1830.2l2.4 2.4l-2.4 2.4l-2.4 -2.4zM1151.9 1842.9l2.4 2.4l-2.4 2.4l-2.4 -2.4zM1163.2 1844.3l2.4 2.4l-2.4 2.4l-2.4 -2.4zM1151.9 1821.4l2.4 2.4l-2.4 2.4l-2.4 -2.4zM1153 1934l2.4 2.4l-2.4 2.4l-2.4 -2.4zM1158 1967.4l2.4 2.4l-2.4 2.4l-2.4 -2.4zM1150.9 1986.1l2.4 2.4l-2.4 2.4l-2.4 -2.4zM1158.6 1949l2.4 2.4l-2.4 2.4l-2.4 -2.4zM1160.2 1884.2l2.4 2.4l-2.4 2.4l-2.4 -2.4zM1153.9 1995.4l2.4 2.4l-2.4 2.4l-2.4 -2.4zM1160.3 1904l2.4 2.4l-2.4 2.4l-2.4 -2.4zM1167.9 1890.8l2.4 2.4l-2.4 2.4l-2.4 -2.4zM1151.7 1892.1l2.4 2.4l-2.4 2.4l-2.4 -2.4zM1164.5 1632.6l2.4 2.4l-2.4 2.4l-2.4 -2.4zM1159.4 2017.4l2.4 2.4l-2.4 2.4l-2.4 -2.4zM1156.3 1442.5l2.4 2.4l-2.4 2.4l-2.4 -2.4zM1163.6 1595.6l2.4 2.4l-2.4 2.4l-2.4 -2.4zM1162 1618.3l2.4 2.4l-2.4 2.4l-2.4 -2.4z" fill="#128A64"/>
<line x1="1233.4" y1="1589.9" x2="1233.4" y2="1721.7" stroke="#9a9a9a" stroke-width="1.25"/>
<line x1="1233.4" y1="1864.9" x2="1233.4" y2="1971.4" stroke="#9a9a9a" stroke-width="1.25"/>
<rect x="1219.8" y="1721.7" width="27.2" height="143.2" fill="#e9e9e9" stroke="#9a9a9a" stroke-width="1.5"/>
<line x1="1219.8" y1="1773" x2="1247" y2="1773" stroke="#9a9a9a" stroke-width="3.1"/>
<path d="M1227.1 1636l2.4 2.4l-2.4 2.4l-2.4 -2.4zM1227.9 1706.5l2.4 2.4l-2.4 2.4l-2.4 -2.4zM1228.9 1610.6l2.4 2.4l-2.4 2.4l-2.4 -2.4zM1232.7 1712.2l2.4 2.4l-2.4 2.4l-2.4 -2.4zM1225.3 1693.4l2.4 2.4l-2.4 2.4l-2.4 -2.4zM1229.9 1663.2l2.4 2.4l-2.4 2.4l-2.4 -2.4zM1236.5 1631l2.4 2.4l-2.4 2.4l-2.4 -2.4zM1226.2 1652.1l2.4 2.4l-2.4 2.4l-2.4 -2.4zM1233.1 1717.8l2.4 2.4l-2.4 2.4l-2.4 -2.4zM1224.1 1627.2l2.4 2.4l-2.4 2.4l-2.4 -2.4zM1233.7 1752.8l2.4 2.4l-2.4 2.4l-2.4 -2.4zM1232.8 1720.6l2.4 2.4l-2.4 2.4l-2.4 -2.4zM1234.1 1757.3l2.4 2.4l-2.4 2.4l-2.4 -2.4zM1233.4 1731.3l2.4 2.4l-2.4 2.4l-2.4 -2.4zM1236.3 1750.3l2.4 2.4l-2.4 2.4l-2.4 -2.4zM1239.2 1726.7l2.4 2.4l-2.4 2.4l-2.4 -2.4zM1238 1767.8l2.4 2.4l-2.4 2.4l-2.4 -2.4zM1230.9 1763.3l2.4 2.4l-2.4 2.4l-2.4 -2.4zM1227.4 1765.6l2.4 2.4l-2.4 2.4l-2.4 -2.4zM1235.3 1730.9l2.4 2.4l-2.4 2.4l-2.4 -2.4zM1225.5 1853.5l2.4 2.4l-2.4 2.4l-2.4 -2.4zM1224.6 1790.5l2.4 2.4l-2.4 2.4l-2.4 -2.4zM1226.6 1810.9l2.4 2.4l-2.4 2.4l-2.4 -2.4zM1238.1 1788.2l2.4 2.4l-2.4 2.4l-2.4 -2.4zM1241.7 1824.2l2.4 2.4l-2.4 2.4l-2.4 -2.4zM1236.8 1807.5l2.4 2.4l-2.4 2.4l-2.4 -2.4zM1241.9 1771.8l2.4 2.4l-2.4 2.4l-2.4 -2.4zM1233 1792l2.4 2.4l-2.4 2.4l-2.4 -2.4zM1241.9 1817.6l2.4 2.4l-2.4 2.4l-2.4 -2.4zM1242.7 1815.8l2.4 2.4l-2.4 2.4l-2.4 -2.4zM1228 1892.7l2.4 2.4l-2.4 2.4l-2.4 -2.4zM1227.7 1875.2l2.4 2.4l-2.4 2.4l-2.4 -2.4zM1232.6 1862.5l2.4 2.4l-2.4 2.4l-2.4 -2.4zM1242.2 1931.4l2.4 2.4l-2.4 2.4l-2.4 -2.4zM1231.6 1920.8l2.4 2.4l-2.4 2.4l-2.4 -2.4zM1236.6 1918.6l2.4 2.4l-2.4 2.4l-2.4 -2.4zM1231 1961.4l2.4 2.4l-2.4 2.4l-2.4 -2.4zM1239.6 1939.2l2.4 2.4l-2.4 2.4l-2.4 -2.4zM1235.4 1968.8l2.4 2.4l-2.4 2.4l-2.4 -2.4zM1232.5 1927.8l2.4 2.4l-2.4 2.4l-2.4 -2.4zM1234.1 1587.5l2.4 2.4l-2.4 2.4l-2.4 -2.4zM1235.9 1969l2.4 2.4l-2.4 2.4l-2.4 -2.4zM1239.9 1471.7l2.4 2.4l-2.4 2.4l-2.4 -2.4z" fill="#969696"/>
<line x1="1265.8" y1="1498.5" x2="1265.8" y2="1742.2" stroke="#DBA626" stroke-width="1.3"/>
<line x1="1265.8" y1="2051.3" x2="1265.8" y2="2191.3" stroke="#DBA626" stroke-width="1.3"/>
<rect x="1251.7" y="1742.2" width="28.1" height="309.1" fill="#fbeacb" stroke="#DBA626" stroke-width="1.55"/>
<line x1="1251.7" y1="1847.9" x2="1279.8" y2="1847.9" stroke="#DBA626" stroke-width="3.1"/>
<path d="M1260.8 1556.9l2.4 2.4l-2.4 2.4l-2.4 -2.4zM1274.5 1551.5l2.4 2.4l-2.4 2.4l-2.4 -2.4zM1258.9 1560.4l2.4 2.4l-2.4 2.4l-2.4 -2.4zM1267.3 1650.7l2.4 2.4l-2.4 2.4l-2.4 -2.4zM1257.3 1720.1l2.4 2.4l-2.4 2.4l-2.4 -2.4zM1259.4 1584.3l2.4 2.4l-2.4 2.4l-2.4 -2.4zM1264.8 1663.7l2.4 2.4l-2.4 2.4l-2.4 -2.4zM1273.1 1626.4l2.4 2.4l-2.4 2.4l-2.4 -2.4zM1272.6 1678.6l2.4 2.4l-2.4 2.4l-2.4 -2.4zM1261.4 1732.4l2.4 2.4l-2.4 2.4l-2.4 -2.4zM1264 1839.4l2.4 2.4l-2.4 2.4l-2.4 -2.4zM1273.6 1745.3l2.4 2.4l-2.4 2.4l-2.4 -2.4zM1256.6 1750.8l2.4 2.4l-2.4 2.4l-2.4 -2.4zM1261.7 1770.4l2.4 2.4l-2.4 2.4l-2.4 -2.4zM1272.8 1842l2.4 2.4l-2.4 2.4l-2.4 -2.4zM1266.3 1784.2l2.4 2.4l-2.4 2.4l-2.4 -2.4zM1271.6 1829.5l2.4 2.4l-2.4 2.4l-2.4 -2.4zM1266 1808.9l2.4 2.4l-2.4 2.4l-2.4 -2.4zM1260.9 1752.1l2.4 2.4l-2.4 2.4l-2.4 -2.4zM1267.4 1809.4l2.4 2.4l-2.4 2.4l-2.4 -2.4zM1273.3 2008.4l2.4 2.4l-2.4 2.4l-2.4 -2.4zM1259.9 2041.2l2.4 2.4l-2.4 2.4l-2.4 -2.4zM1273.3 1861l2.4 2.4l-2.4 2.4l-2.4 -2.4zM1259.7 1961.5l2.4 2.4l-2.4 2.4l-2.4 -2.4zM1261.1 1986.3l2.4 2.4l-2.4 2.4l-2.4 -2.4zM1263.2 1893.6l2.4 2.4l-2.4 2.4l-2.4 -2.4zM1269.1 1952.1l2.4 2.4l-2.4 2.4l-2.4 -2.4zM1270.3 1860.4l2.4 2.4l-2.4 2.4l-2.4 -2.4zM1265.2 1972.5l2.4 2.4l-2.4 2.4l-2.4 -2.4zM1271.4 1982.2l2.4 2.4l-2.4 2.4l-2.4 -2.4zM1265.3 2183.5l2.4 2.4l-2.4 2.4l-2.4 -2.4zM1269.7 2082.2l2.4 2.4l-2.4 2.4l-2.4 -2.4zM1259.7 2085.6l2.4 2.4l-2.4 2.4l-2.4 -2.4zM1271.2 2053l2.4 2.4l-2.4 2.4l-2.4 -2.4zM1264.4 2138.4l2.4 2.4l-2.4 2.4l-2.4 -2.4zM1260.2 2053.1l2.4 2.4l-2.4 2.4l-2.4 -2.4zM1274.5 2114l2.4 2.4l-2.4 2.4l-2.4 -2.4zM1260.7 2058.8l2.4 2.4l-2.4 2.4l-2.4 -2.4zM1263.1 2076l2.4 2.4l-2.4 2.4l-2.4 -2.4zM1270.8 2083.9l2.4 2.4l-2.4 2.4l-2.4 -2.4zM1261.3 1496.1l2.4 2.4l-2.4 2.4l-2.4 -2.4zM1262.4 2188.9l2.4 2.4l-2.4 2.4l-2.4 -2.4z" fill="#D6A227"/>
<line x1="1298.2" y1="1548.1" x2="1298.2" y2="1630" stroke="#6FB1DD" stroke-width="1.25"/>
<line x1="1298.2" y1="1874.3" x2="1298.2" y2="2042.9" stroke="#6FB1DD" stroke-width="1.25"/>
<rect x="1284.3" y="1630" width="27.7" height="244.3" fill="#dcedfa" stroke="#6FB1DD" stroke-width="1.5"/>
<line x1="1284.3" y1="1776.3" x2="1312" y2="1776.3" stroke="#6FB1DD" stroke-width="3.1"/>
<path d="M1293.7 1573.6l2.4 2.4l-2.4 2.4l-2.4 -2.4zM1291.2 1553.6l2.4 2.4l-2.4 2.4l-2.4 -2.4zM1296.6 1589.3l2.4 2.4l-2.4 2.4l-2.4 -2.4zM1299.7 1559.4l2.4 2.4l-2.4 2.4l-2.4 -2.4zM1299.6 1624.3l2.4 2.4l-2.4 2.4l-2.4 -2.4zM1302 1585.4l2.4 2.4l-2.4 2.4l-2.4 -2.4zM1292 1591.6l2.4 2.4l-2.4 2.4l-2.4 -2.4zM1289 1594.8l2.4 2.4l-2.4 2.4l-2.4 -2.4zM1291.7 1608l2.4 2.4l-2.4 2.4l-2.4 -2.4zM1306.9 1681.7l2.4 2.4l-2.4 2.4l-2.4 -2.4zM1304.5 1739.8l2.4 2.4l-2.4 2.4l-2.4 -2.4zM1300.7 1721.5l2.4 2.4l-2.4 2.4l-2.4 -2.4zM1307 1730.7l2.4 2.4l-2.4 2.4l-2.4 -2.4zM1303.2 1656.3l2.4 2.4l-2.4 2.4l-2.4 -2.4zM1293.5 1671.6l2.4 2.4l-2.4 2.4l-2.4 -2.4zM1300.1 1747.8l2.4 2.4l-2.4 2.4l-2.4 -2.4zM1305.3 1751.9l2.4 2.4l-2.4 2.4l-2.4 -2.4zM1292.4 1713.7l2.4 2.4l-2.4 2.4l-2.4 -2.4zM1298.8 1775.4l2.4 2.4l-2.4 2.4l-2.4 -2.4zM1293.8 1845l2.4 2.4l-2.4 2.4l-2.4 -2.4zM1288.7 1780.8l2.4 2.4l-2.4 2.4l-2.4 -2.4zM1301.9 1790.9l2.4 2.4l-2.4 2.4l-2.4 -2.4zM1293 1774.3l2.4 2.4l-2.4 2.4l-2.4 -2.4zM1302.2 1799.9l2.4 2.4l-2.4 2.4l-2.4 -2.4zM1289 1870.6l2.4 2.4l-2.4 2.4l-2.4 -2.4zM1306.4 1785.1l2.4 2.4l-2.4 2.4l-2.4 -2.4zM1291.5 1869l2.4 2.4l-2.4 2.4l-2.4 -2.4zM1298.6 1962l2.4 2.4l-2.4 2.4l-2.4 -2.4zM1296.6 1964.5l2.4 2.4l-2.4 2.4l-2.4 -2.4zM1293.6 1939.8l2.4 2.4l-2.4 2.4l-2.4 -2.4zM1290.2 2018.4l2.4 2.4l-2.4 2.4l-2.4 -2.4zM1290.4 1993.3l2.4 2.4l-2.4 2.4l-2.4 -2.4zM1301.9 1919.3l2.4 2.4l-2.4 2.4l-2.4 -2.4zM1303.7 1974.3l2.4 2.4l-2.4 2.4l-2.4 -2.4zM1295.1 1905.4l2.4 2.4l-2.4 2.4l-2.4 -2.4zM1292.2 1937.9l2.4 2.4l-2.4 2.4l-2.4 -2.4zM1303.3 1545.7l2.4 2.4l-2.4 2.4l-2.4 -2.4zM1298.9 2040.5l2.4 2.4l-2.4 2.4l-2.4 -2.4z" fill="#66A8D8"/>
<line x1="1328.7" y1="1642.8" x2="1328.7" y2="1813.1" stroke="#18926A" stroke-width="1.6"/>
<line x1="1328.7" y1="1933.3" x2="1328.7" y2="2062.8" stroke="#18926A" stroke-width="1.6"/>
<rect x="1314.7" y="1813.1" width="27.9" height="120.2" fill="#cbeae0" stroke="#18926A" stroke-width="1.85"/>
<line x1="1314.7" y1="1861.6" x2="1342.6" y2="1861.6" stroke="#18926A" stroke-width="3.1"/>
<path d="M1322.1 1661.7l2.4 2.4l-2.4 2.4l-2.4 -2.4zM1326.5 1772.1l2.4 2.4l-2.4 2.4l-2.4 -2.4zM1323.5 1775.3l2.4 2.4l-2.4 2.4l-2.4 -2.4zM1334.4 1785.7l2.4 2.4l-2.4 2.4l-2.4 -2.4zM1330.3 1673l2.4 2.4l-2.4 2.4l-2.4 -2.4zM1332.6 1693.9l2.4 2.4l-2.4 2.4l-2.4 -2.4zM1334.2 1786.6l2.4 2.4l-2.4 2.4l-2.4 -2.4zM1320.9 1701.5l2.4 2.4l-2.4 2.4l-2.4 -2.4zM1329.9 1768.2l2.4 2.4l-2.4 2.4l-2.4 -2.4zM1322.8 1683l2.4 2.4l-2.4 2.4l-2.4 -2.4zM1321.2 1839l2.4 2.4l-2.4 2.4l-2.4 -2.4zM1323.7 1841.4l2.4 2.4l-2.4 2.4l-2.4 -2.4zM1327.2 1823.2l2.4 2.4l-2.4 2.4l-2.4 -2.4zM1332.9 1836.6l2.4 2.4l-2.4 2.4l-2.4 -2.4zM1332.9 1812.2l2.4 2.4l-2.4 2.4l-2.4 -2.4zM1324.7 1821.4l2.4 2.4l-2.4 2.4l-2.4 -2.4zM1332.3 1841.7l2.4 2.4l-2.4 2.4l-2.4 -2.4zM1336.3 1840.5l2.4 2.4l-2.4 2.4l-2.4 -2.4zM1325.1 1820.6l2.4 2.4l-2.4 2.4l-2.4 -2.4zM1324.1 1842.8l2.4 2.4l-2.4 2.4l-2.4 -2.4zM1323.4 1870.5l2.4 2.4l-2.4 2.4l-2.4 -2.4zM1334.9 1914.5l2.4 2.4l-2.4 2.4l-2.4 -2.4zM1337.4 1910.6l2.4 2.4l-2.4 2.4l-2.4 -2.4zM1325 1916.2l2.4 2.4l-2.4 2.4l-2.4 -2.4zM1332.9 1881.8l2.4 2.4l-2.4 2.4l-2.4 -2.4zM1330.7 1863.2l2.4 2.4l-2.4 2.4l-2.4 -2.4zM1320.1 1865.6l2.4 2.4l-2.4 2.4l-2.4 -2.4zM1322 1896l2.4 2.4l-2.4 2.4l-2.4 -2.4zM1335.8 1926l2.4 2.4l-2.4 2.4l-2.4 -2.4zM1322.9 1892.3l2.4 2.4l-2.4 2.4l-2.4 -2.4zM1328.8 2031.1l2.4 2.4l-2.4 2.4l-2.4 -2.4zM1326 1978.3l2.4 2.4l-2.4 2.4l-2.4 -2.4zM1329.2 1957.9l2.4 2.4l-2.4 2.4l-2.4 -2.4zM1321.2 1952l2.4 2.4l-2.4 2.4l-2.4 -2.4zM1326.5 2040.3l2.4 2.4l-2.4 2.4l-2.4 -2.4zM1323.9 1982.5l2.4 2.4l-2.4 2.4l-2.4 -2.4zM1323.4 1962.7l2.4 2.4l-2.4 2.4l-2.4 -2.4zM1328.2 2002.3l2.4 2.4l-2.4 2.4l-2.4 -2.4zM1333.8 1958.3l2.4 2.4l-2.4 2.4l-2.4 -2.4zM1327.6 1995.6l2.4 2.4l-2.4 2.4l-2.4 -2.4zM1333.8 1640.4l2.4 2.4l-2.4 2.4l-2.4 -2.4zM1333.9 2060.4l2.4 2.4l-2.4 2.4l-2.4 -2.4zM1336.8 1621.6l2.4 2.4l-2.4 2.4l-2.4 -2.4z" fill="#128A64"/>
<line x1="1402.9" y1="1499.6" x2="1402.9" y2="1679.5" stroke="#9a9a9a" stroke-width="1.25"/>
<line x1="1402.9" y1="1828.1" x2="1402.9" y2="2023.1" stroke="#9a9a9a" stroke-width="1.25"/>
<rect x="1388.9" y="1679.5" width="28.1" height="148.6" fill="#e9e9e9" stroke="#9a9a9a" stroke-width="1.5"/>
<line x1="1388.9" y1="1777.9" x2="1417" y2="1777.9" stroke="#9a9a9a" stroke-width="3.1"/>
<path d="M1395.4 1625.8l2.4 2.4l-2.4 2.4l-2.4 -2.4zM1405.5 1601l2.4 2.4l-2.4 2.4l-2.4 -2.4zM1394.2 1570.7l2.4 2.4l-2.4 2.4l-2.4 -2.4zM1410.7 1674.7l2.4 2.4l-2.4 2.4l-2.4 -2.4zM1402.3 1540.1l2.4 2.4l-2.4 2.4l-2.4 -2.4zM1399.1 1625.8l2.4 2.4l-2.4 2.4l-2.4 -2.4zM1407.7 1524.8l2.4 2.4l-2.4 2.4l-2.4 -2.4zM1401.8 1752.9l2.4 2.4l-2.4 2.4l-2.4 -2.4zM1400.9 1685.5l2.4 2.4l-2.4 2.4l-2.4 -2.4zM1411.8 1686.4l2.4 2.4l-2.4 2.4l-2.4 -2.4zM1398.9 1682.1l2.4 2.4l-2.4 2.4l-2.4 -2.4zM1396 1752.7l2.4 2.4l-2.4 2.4l-2.4 -2.4zM1394.8 1687.6l2.4 2.4l-2.4 2.4l-2.4 -2.4zM1403.6 1693.2l2.4 2.4l-2.4 2.4l-2.4 -2.4zM1396.7 1817.3l2.4 2.4l-2.4 2.4l-2.4 -2.4zM1408 1784.2l2.4 2.4l-2.4 2.4l-2.4 -2.4zM1399.9 1796.9l2.4 2.4l-2.4 2.4l-2.4 -2.4zM1398.1 1781.7l2.4 2.4l-2.4 2.4l-2.4 -2.4zM1395.7 1824.3l2.4 2.4l-2.4 2.4l-2.4 -2.4zM1407.5 1788.5l2.4 2.4l-2.4 2.4l-2.4 -2.4zM1410.6 1820.3l2.4 2.4l-2.4 2.4l-2.4 -2.4zM1411.6 1905.3l2.4 2.4l-2.4 2.4l-2.4 -2.4zM1398.9 1883.7l2.4 2.4l-2.4 2.4l-2.4 -2.4zM1407.1 1906.6l2.4 2.4l-2.4 2.4l-2.4 -2.4zM1395.9 1863.7l2.4 2.4l-2.4 2.4l-2.4 -2.4zM1411.7 1958.9l2.4 2.4l-2.4 2.4l-2.4 -2.4zM1408.9 1979.9l2.4 2.4l-2.4 2.4l-2.4 -2.4zM1398.2 1929.3l2.4 2.4l-2.4 2.4l-2.4 -2.4zM1400 1497.2l2.4 2.4l-2.4 2.4l-2.4 -2.4zM1402.6 2020.7l2.4 2.4l-2.4 2.4l-2.4 -2.4zM1409.7 1442.5l2.4 2.4l-2.4 2.4l-2.4 -2.4zM1396.4 2161.4l2.4 2.4l-2.4 2.4l-2.4 -2.4zM1409.7 2214.9l2.4 2.4l-2.4 2.4l-2.4 -2.4z" fill="#969696"/>
<line x1="1435.5" y1="1542.6" x2="1435.5" y2="1719.5" stroke="#DBA626" stroke-width="1.3"/>
<line x1="1435.5" y1="1870.8" x2="1435.5" y2="2024.2" stroke="#DBA626" stroke-width="1.3"/>
<rect x="1421.5" y="1719.5" width="27.9" height="151.3" fill="#fbeacb" stroke="#DBA626" stroke-width="1.55"/>
<line x1="1421.5" y1="1791.1" x2="1449.4" y2="1791.1" stroke="#DBA626" stroke-width="3.1"/>
<path d="M1428.8 1715.9l2.4 2.4l-2.4 2.4l-2.4 -2.4zM1432.1 1698.7l2.4 2.4l-2.4 2.4l-2.4 -2.4zM1440.1 1592l2.4 2.4l-2.4 2.4l-2.4 -2.4zM1429.5 1623.6l2.4 2.4l-2.4 2.4l-2.4 -2.4zM1441.6 1636.3l2.4 2.4l-2.4 2.4l-2.4 -2.4zM1436.9 1699.8l2.4 2.4l-2.4 2.4l-2.4 -2.4zM1440.5 1547.4l2.4 2.4l-2.4 2.4l-2.4 -2.4zM1443 1760.5l2.4 2.4l-2.4 2.4l-2.4 -2.4zM1432.2 1785.3l2.4 2.4l-2.4 2.4l-2.4 -2.4zM1441.5 1777.9l2.4 2.4l-2.4 2.4l-2.4 -2.4zM1432.9 1736.1l2.4 2.4l-2.4 2.4l-2.4 -2.4zM1432.7 1743.9l2.4 2.4l-2.4 2.4l-2.4 -2.4zM1428 1744.2l2.4 2.4l-2.4 2.4l-2.4 -2.4zM1443.2 1733.4l2.4 2.4l-2.4 2.4l-2.4 -2.4zM1438 1821.4l2.4 2.4l-2.4 2.4l-2.4 -2.4zM1440.3 1859.4l2.4 2.4l-2.4 2.4l-2.4 -2.4zM1443.4 1808.2l2.4 2.4l-2.4 2.4l-2.4 -2.4zM1444.8 1852.8l2.4 2.4l-2.4 2.4l-2.4 -2.4zM1440.3 1846.7l2.4 2.4l-2.4 2.4l-2.4 -2.4zM1430.8 1853.5l2.4 2.4l-2.4 2.4l-2.4 -2.4zM1433.2 1841l2.4 2.4l-2.4 2.4l-2.4 -2.4zM1428.5 1886.1l2.4 2.4l-2.4 2.4l-2.4 -2.4zM1432.3 1922.3l2.4 2.4l-2.4 2.4l-2.4 -2.4zM1432.5 1888.2l2.4 2.4l-2.4 2.4l-2.4 -2.4zM1442.1 1885.6l2.4 2.4l-2.4 2.4l-2.4 -2.4zM1428.6 1881.7l2.4 2.4l-2.4 2.4l-2.4 -2.4zM1440.1 1875.1l2.4 2.4l-2.4 2.4l-2.4 -2.4zM1438.3 1905.1l2.4 2.4l-2.4 2.4l-2.4 -2.4zM1430 1540.2l2.4 2.4l-2.4 2.4l-2.4 -2.4zM1439.9 2021.8l2.4 2.4l-2.4 2.4l-2.4 -2.4z" fill="#D6A227"/>
<line x1="1466.2" y1="1406.3" x2="1466.2" y2="1620.3" stroke="#6FB1DD" stroke-width="1.25"/>
<line x1="1466.2" y1="1810.9" x2="1466.2" y2="2006.6" stroke="#6FB1DD" stroke-width="1.25"/>
<rect x="1452.3" y="1620.3" width="27.9" height="190.6" fill="#dcedfa" stroke="#6FB1DD" stroke-width="1.5"/>
<line x1="1452.3" y1="1721.1" x2="1480.2" y2="1721.1" stroke="#6FB1DD" stroke-width="3.1"/>
<path d="M1465.4 1544.3l2.4 2.4l-2.4 2.4l-2.4 -2.4zM1471.6 1504.3l2.4 2.4l-2.4 2.4l-2.4 -2.4zM1473.3 1584.1l2.4 2.4l-2.4 2.4l-2.4 -2.4zM1463.2 1476.7l2.4 2.4l-2.4 2.4l-2.4 -2.4zM1458.7 1484.8l2.4 2.4l-2.4 2.4l-2.4 -2.4zM1457.2 1501.8l2.4 2.4l-2.4 2.4l-2.4 -2.4zM1461.1 1586.4l2.4 2.4l-2.4 2.4l-2.4 -2.4zM1458 1437.4l2.4 2.4l-2.4 2.4l-2.4 -2.4zM1460.5 1692.6l2.4 2.4l-2.4 2.4l-2.4 -2.4zM1464.4 1664.5l2.4 2.4l-2.4 2.4l-2.4 -2.4zM1474.9 1698.8l2.4 2.4l-2.4 2.4l-2.4 -2.4zM1468.8 1649.1l2.4 2.4l-2.4 2.4l-2.4 -2.4zM1465.7 1708.1l2.4 2.4l-2.4 2.4l-2.4 -2.4zM1470.7 1708.6l2.4 2.4l-2.4 2.4l-2.4 -2.4zM1473.4 1649.3l2.4 2.4l-2.4 2.4l-2.4 -2.4zM1458.8 1675.7l2.4 2.4l-2.4 2.4l-2.4 -2.4zM1472.5 1771.5l2.4 2.4l-2.4 2.4l-2.4 -2.4zM1465.9 1765.3l2.4 2.4l-2.4 2.4l-2.4 -2.4zM1473.5 1756.1l2.4 2.4l-2.4 2.4l-2.4 -2.4zM1460.7 1778.5l2.4 2.4l-2.4 2.4l-2.4 -2.4zM1463.7 1751.2l2.4 2.4l-2.4 2.4l-2.4 -2.4zM1470 1804.8l2.4 2.4l-2.4 2.4l-2.4 -2.4zM1474.1 1729.9l2.4 2.4l-2.4 2.4l-2.4 -2.4zM1468 1721.8l2.4 2.4l-2.4 2.4l-2.4 -2.4zM1470.4 1895.4l2.4 2.4l-2.4 2.4l-2.4 -2.4zM1458.5 1895.9l2.4 2.4l-2.4 2.4l-2.4 -2.4zM1472.3 1879.8l2.4 2.4l-2.4 2.4l-2.4 -2.4zM1463.5 1838.4l2.4 2.4l-2.4 2.4l-2.4 -2.4zM1470.9 1935.9l2.4 2.4l-2.4 2.4l-2.4 -2.4zM1460.9 1836.5l2.4 2.4l-2.4 2.4l-2.4 -2.4zM1475.6 1824.8l2.4 2.4l-2.4 2.4l-2.4 -2.4zM1464 1895.2l2.4 2.4l-2.4 2.4l-2.4 -2.4zM1468.8 1403.9l2.4 2.4l-2.4 2.4l-2.4 -2.4zM1471.4 2004.2l2.4 2.4l-2.4 2.4l-2.4 -2.4z" fill="#66A8D8"/>
<line x1="1498.4" y1="1639.5" x2="1498.4" y2="1807.6" stroke="#18926A" stroke-width="1.6"/>
<line x1="1498.4" y1="1926.2" x2="1498.4" y2="2045.1" stroke="#18926A" stroke-width="1.6"/>
<rect x="1484.6" y="1807.6" width="27.7" height="118.6" fill="#cbeae0" stroke="#18926A" stroke-width="1.85"/>
<line x1="1484.6" y1="1857.8" x2="1512.3" y2="1857.8" stroke="#18926A" stroke-width="3.1"/>
<path d="M1494.7 1691.9l2.4 2.4l-2.4 2.4l-2.4 -2.4zM1502.9 1714.3l2.4 2.4l-2.4 2.4l-2.4 -2.4zM1499.3 1689l2.4 2.4l-2.4 2.4l-2.4 -2.4zM1501.7 1740.6l2.4 2.4l-2.4 2.4l-2.4 -2.4zM1507.1 1680.2l2.4 2.4l-2.4 2.4l-2.4 -2.4zM1499.6 1805.2l2.4 2.4l-2.4 2.4l-2.4 -2.4zM1492.4 1780.3l2.4 2.4l-2.4 2.4l-2.4 -2.4zM1499.4 1794.5l2.4 2.4l-2.4 2.4l-2.4 -2.4zM1505.5 1843.3l2.4 2.4l-2.4 2.4l-2.4 -2.4zM1506.5 1823.4l2.4 2.4l-2.4 2.4l-2.4 -2.4zM1489.4 1815.6l2.4 2.4l-2.4 2.4l-2.4 -2.4zM1506 1830.4l2.4 2.4l-2.4 2.4l-2.4 -2.4zM1507.1 1850.4l2.4 2.4l-2.4 2.4l-2.4 -2.4zM1506.7 1830.8l2.4 2.4l-2.4 2.4l-2.4 -2.4zM1491.7 1833.3l2.4 2.4l-2.4 2.4l-2.4 -2.4zM1504.2 1836.9l2.4 2.4l-2.4 2.4l-2.4 -2.4zM1500.4 1884.4l2.4 2.4l-2.4 2.4l-2.4 -2.4zM1494.2 1873.1l2.4 2.4l-2.4 2.4l-2.4 -2.4zM1498.7 1884.1l2.4 2.4l-2.4 2.4l-2.4 -2.4zM1490.7 1887.4l2.4 2.4l-2.4 2.4l-2.4 -2.4zM1495.4 1855.8l2.4 2.4l-2.4 2.4l-2.4 -2.4zM1503.2 1904.4l2.4 2.4l-2.4 2.4l-2.4 -2.4zM1493.8 1871.6l2.4 2.4l-2.4 2.4l-2.4 -2.4zM1492.3 1890.7l2.4 2.4l-2.4 2.4l-2.4 -2.4zM1506.1 1959.3l2.4 2.4l-2.4 2.4l-2.4 -2.4zM1500.1 2003.9l2.4 2.4l-2.4 2.4l-2.4 -2.4zM1503.2 1948.2l2.4 2.4l-2.4 2.4l-2.4 -2.4zM1502.5 1949l2.4 2.4l-2.4 2.4l-2.4 -2.4zM1504.9 1994.8l2.4 2.4l-2.4 2.4l-2.4 -2.4zM1489.9 1930.1l2.4 2.4l-2.4 2.4l-2.4 -2.4zM1497.4 1928.5l2.4 2.4l-2.4 2.4l-2.4 -2.4zM1490.3 2021.3l2.4 2.4l-2.4 2.4l-2.4 -2.4zM1502 1637.1l2.4 2.4l-2.4 2.4l-2.4 -2.4zM1500.6 2042.7l2.4 2.4l-2.4 2.4l-2.4 -2.4zM1501 1507.8l2.4 2.4l-2.4 2.4l-2.4 -2.4zM1493.8 1604.7l2.4 2.4l-2.4 2.4l-2.4 -2.4z" fill="#128A64"/>
<text x="170" y="282.8" font-size="17.4" text-anchor="middle" fill="#1c1c1c" font-weight="bold">a</text>
<text x="199" y="158.7" font-size="17.4" text-anchor="middle" fill="#1c1c1c" font-weight="bold">bc</text>
<text x="231.3" y="255.8" font-size="17.4" text-anchor="middle" fill="#1c1c1c" font-weight="bold">a</text>
<text x="262.5" y="212.1" font-size="17.4" text-anchor="middle" fill="#1c1c1c" font-weight="bold">bc</text>
<text x="334.4" y="231.5" font-size="17.4" text-anchor="middle" fill="#1c1c1c" font-weight="bold">cd</text>
<text x="365" y="158.7" font-size="17.4" text-anchor="middle" fill="#1c1c1c" font-weight="bold">de</text>
<text x="399.7" y="186.1" font-size="17.4" text-anchor="middle" fill="#1c1c1c" font-weight="bold">ef</text>
<text x="429.9" y="163.3" font-size="17.4" text-anchor="middle" fill="#1c1c1c" font-weight="bold">f</text>
<text x="507.4" y="174" font-size="17.4" text-anchor="middle" fill="#1c1c1c" font-weight="bold">b</text>
<text x="531" y="229.6" font-size="17.4" text-anchor="middle" fill="#1c1c1c" font-weight="bold">bc</text>
<text x="561.5" y="199" font-size="17.4" text-anchor="middle" fill="#1c1c1c" font-weight="bold">cd</text>
<text x="597.9" y="163" font-size="17.4" text-anchor="middle" fill="#1c1c1c" font-weight="bold">ef</text>
<text x="671.7" y="241" font-size="17.4" text-anchor="middle" fill="#1c1c1c" font-weight="bold">a</text>
<text x="699.8" y="325.2" font-size="17.4" text-anchor="middle" fill="#1c1c1c" font-weight="bold">a</text>
<text x="734.5" y="154.7" font-size="17.4" text-anchor="middle" fill="#1c1c1c" font-weight="bold">bc</text>
<text x="770.9" y="183.2" font-size="17.4" text-anchor="middle" fill="#1c1c1c" font-weight="bold">bcd</text>
<text x="885" y="774.5" font-size="17.4" text-anchor="middle" fill="#1c1c1c" font-weight="bold">a</text>
<text x="921.8" y="717.7" font-size="17.4" text-anchor="middle" fill="#1c1c1c" font-weight="bold">abc</text>
<text x="952.2" y="749.6" font-size="17.4" text-anchor="middle" fill="#1c1c1c" font-weight="bold">abcd</text>
<text x="984.6" y="721.4" font-size="17.4" text-anchor="middle" fill="#1c1c1c" font-weight="bold">ab</text>
<text x="1054.6" y="692.4" font-size="17.4" text-anchor="middle" fill="#1c1c1c" font-weight="bold">bcde</text>
<text x="1087.2" y="656" font-size="17.4" text-anchor="middle" fill="#1c1c1c" font-weight="bold">bcde</text>
<text x="1118" y="707.8" font-size="17.4" text-anchor="middle" fill="#1c1c1c" font-weight="bold">bcd</text>
<text x="1151.9" y="683.6" font-size="17.4" text-anchor="middle" fill="#1c1c1c" font-weight="bold">e</text>
<text x="1221.2" y="747.4" font-size="17.4" text-anchor="middle" fill="#1c1c1c" font-weight="bold">bcd</text>
<text x="1253.3" y="717.3" font-size="17.4" text-anchor="middle" fill="#1c1c1c" font-weight="bold">cde</text>
<text x="1287.2" y="734.9" font-size="17.4" text-anchor="middle" fill="#1c1c1c" font-weight="bold">de</text>
<text x="1318" y="690.8" font-size="17.4" text-anchor="middle" fill="#1c1c1c" font-weight="bold">e</text>
<text x="1390.3" y="778.3" font-size="17.4" text-anchor="middle" fill="#1c1c1c" font-weight="bold">ab</text>
<text x="1422.6" y="747.4" font-size="17.4" text-anchor="middle" fill="#1c1c1c" font-weight="bold">bcde</text>
<text x="1455.2" y="715.5" font-size="17.4" text-anchor="middle" fill="#1c1c1c" font-weight="bold">abcd</text>
<text x="1486" y="744.1" font-size="17.4" text-anchor="middle" fill="#1c1c1c" font-weight="bold">de</text>
<text x="166.8" y="1459.1" font-size="17.5" text-anchor="middle" fill="#1c1c1c" stroke="#1c1c1c" stroke-width="0.6">bc</text>
<text x="191" y="1420.5" font-size="17.5" text-anchor="middle" fill="#1c1c1c" stroke="#1c1c1c" stroke-width="0.6">de</text>
<text x="235" y="1597.8" font-size="17.5" text-anchor="middle" fill="#1c1c1c" stroke="#1c1c1c" stroke-width="0.6">a</text>
<text x="258" y="1515.9" font-size="17.5" text-anchor="middle" fill="#1c1c1c" stroke="#1c1c1c" stroke-width="0.6">ab</text>
<text x="336.1" y="1506.4" font-size="17.5" text-anchor="middle" fill="#1c1c1c" stroke="#1c1c1c" stroke-width="0.6">gh</text>
<text x="364.8" y="1439.7" font-size="17.5" text-anchor="middle" fill="#1c1c1c" stroke="#1c1c1c" stroke-width="0.6">gh</text>
<text x="398.9" y="1532.8" font-size="17.5" text-anchor="middle" fill="#1c1c1c" stroke="#1c1c1c" stroke-width="0.6">h</text>
<text x="429.7" y="1506.4" font-size="17.5" text-anchor="middle" fill="#1c1c1c" stroke="#1c1c1c" stroke-width="0.6">fgh</text>
<text x="496.3" y="1539.4" font-size="17.5" text-anchor="middle" fill="#1c1c1c" stroke="#1c1c1c" stroke-width="0.6">efgh</text>
<text x="532.7" y="1486.6" font-size="17.5" text-anchor="middle" fill="#1c1c1c" stroke="#1c1c1c" stroke-width="0.6">efg</text>
<text x="572.3" y="1524" font-size="17.5" text-anchor="middle" fill="#1c1c1c" stroke="#1c1c1c" stroke-width="0.6">h</text>
<text x="603.1" y="1493.9" font-size="17.5" text-anchor="middle" fill="#1c1c1c" stroke="#1c1c1c" stroke-width="0.6">efgh</text>
<text x="673.6" y="1529.5" font-size="17.5" text-anchor="middle" fill="#1c1c1c" stroke="#1c1c1c" stroke-width="0.6">de</text>
<text x="710.3" y="1623.3" font-size="17.5" text-anchor="middle" fill="#1c1c1c" stroke="#1c1c1c" stroke-width="0.6">bc</text>
<text x="733.5" y="1476.3" font-size="17.5" text-anchor="middle" fill="#1c1c1c" stroke="#1c1c1c" stroke-width="0.6">def</text>
<text x="763.4" y="1436" font-size="17.5" text-anchor="middle" fill="#1c1c1c" stroke="#1c1c1c" stroke-width="0.6">cd</text>
<text x="889.4" y="1657.1" font-size="17.5" text-anchor="middle" fill="#1c1c1c" stroke="#1c1c1c" stroke-width="0.6">ab</text>
<text x="922" y="1547" font-size="17.5" text-anchor="middle" fill="#1c1c1c" stroke="#1c1c1c" stroke-width="0.6">ab</text>
<text x="955.9" y="1510.6" font-size="17.5" text-anchor="middle" fill="#1c1c1c" stroke="#1c1c1c" stroke-width="0.6">ab</text>
<text x="988.5" y="1668.7" font-size="17.5" text-anchor="middle" fill="#1c1c1c" stroke="#1c1c1c" stroke-width="0.6">ab</text>
<text x="1063.8" y="1388.7" font-size="17.5" text-anchor="middle" fill="#1c1c1c" stroke="#1c1c1c" stroke-width="0.6">b</text>
<text x="1093.1" y="1483.8" font-size="17.5" text-anchor="middle" fill="#1c1c1c" stroke="#1c1c1c" stroke-width="0.6">ab</text>
<text x="1140.5" y="1337" font-size="17.5" text-anchor="middle" fill="#1c1c1c" stroke="#1c1c1c" stroke-width="0.6">b</text>
<text x="1163.6" y="1569.4" font-size="17.5" text-anchor="middle" fill="#1c1c1c" stroke="#1c1c1c" stroke-width="0.6">ab</text>
<text x="1234.4" y="1445.5" font-size="17.5" text-anchor="middle" fill="#1c1c1c" stroke="#1c1c1c" stroke-width="0.6">ab</text>
<text x="1266.3" y="1476" font-size="17.5" text-anchor="middle" fill="#1c1c1c" stroke="#1c1c1c" stroke-width="0.6">a</text>
<text x="1297.1" y="1533.1" font-size="17.5" text-anchor="middle" fill="#1c1c1c" stroke="#1c1c1c" stroke-width="0.6">ab</text>
<text x="1327.5" y="1599.8" font-size="17.5" text-anchor="middle" fill="#1c1c1c" stroke="#1c1c1c" stroke-width="0.6">a</text>
<text x="1394.7" y="1425" font-size="17.5" text-anchor="middle" fill="#1c1c1c" stroke="#1c1c1c" stroke-width="0.6">ab</text>
<text x="1434.3" y="1513.9" font-size="17.5" text-anchor="middle" fill="#1c1c1c" stroke="#1c1c1c" stroke-width="0.6">ab</text>
<text x="1464.5" y="1379.5" font-size="17.5" text-anchor="middle" fill="#1c1c1c" stroke="#1c1c1c" stroke-width="0.6">b</text>
<text x="1495.3" y="1486" font-size="17.5" text-anchor="middle" fill="#1c1c1c" stroke="#1c1c1c" stroke-width="0.6">ab</text>
<text x="1575.6" y="1068.8" font-size="37.6" text-anchor="start" fill="#000" stroke="#000" stroke-width="0.5">Age</text>
<rect x="1577" y="1088" width="43.4" height="175" fill="#f2f2f2"/>
<line x1="1598.7" y1="1093.6" x2="1598.7" y2="1129.6" stroke="#999999" stroke-width="2.2"/>
<rect x="1581.4" y="1100.4" width="34.2" height="22.4" fill="#f2f2f2" stroke="none"/>
<rect x="1581.4" y="1100.4" width="34.2" height="22.4" fill="#999999" fill-opacity="0.2" stroke="#999999" stroke-width="2.3" stroke-linejoin="round"/>
<line x1="1581.4" y1="1111.6" x2="1615.6" y2="1111.6" stroke="#999999" stroke-width="2.6"/>
<path d="M1598.7 1108.4l3.2 3.2l-3.2 3.2l-3.2 -3.2z" fill="#999999"/>
<text x="1627.4" y="1120.1" font-size="25" text-anchor="start" fill="#111" textLength="125" lengthAdjust="spacingAndGlyphs" stroke="#111" stroke-width="0.45">4-day-olds</text>
<line x1="1598.7" y1="1137" x2="1598.7" y2="1173" stroke="#E6A216" stroke-width="2.2"/>
<rect x="1581.4" y="1143.8" width="34.2" height="22.4" fill="#f2f2f2" stroke="none"/>
<rect x="1581.4" y="1143.8" width="34.2" height="22.4" fill="#E6A216" fill-opacity="0.2" stroke="#E6A216" stroke-width="2.3" stroke-linejoin="round"/>
<line x1="1581.4" y1="1155" x2="1615.6" y2="1155" stroke="#E6A216" stroke-width="2.6"/>
<path d="M1598.7 1151.8l3.2 3.2l-3.2 3.2l-3.2 -3.2z" fill="#E6A216"/>
<text x="1627.4" y="1163.5" font-size="25" text-anchor="start" fill="#111" textLength="125" lengthAdjust="spacingAndGlyphs" stroke="#111" stroke-width="0.45">5-day-olds</text>
<line x1="1598.7" y1="1181.4" x2="1598.7" y2="1217.4" stroke="#5BB3E6" stroke-width="2.2"/>
<rect x="1581.4" y="1188.2" width="34.2" height="22.4" fill="#f2f2f2" stroke="none"/>
<rect x="1581.4" y="1188.2" width="34.2" height="22.4" fill="#5BB3E6" fill-opacity="0.2" stroke="#5BB3E6" stroke-width="2.3" stroke-linejoin="round"/>
<line x1="1581.4" y1="1199.4" x2="1615.6" y2="1199.4" stroke="#5BB3E6" stroke-width="2.6"/>
<path d="M1598.7 1196.2l3.2 3.2l-3.2 3.2l-3.2 -3.2z" fill="#5BB3E6"/>
<text x="1627.4" y="1207.9" font-size="25" text-anchor="start" fill="#111" textLength="125" lengthAdjust="spacingAndGlyphs" stroke="#111" stroke-width="0.45">6-day-olds</text>
<line x1="1598.7" y1="1225.6" x2="1598.7" y2="1261.6" stroke="#0B9C72" stroke-width="2.2"/>
<rect x="1581.4" y="1232.4" width="34.2" height="22.4" fill="#f2f2f2" stroke="none"/>
<rect x="1581.4" y="1232.4" width="34.2" height="22.4" fill="#0B9C72" fill-opacity="0.2" stroke="#0B9C72" stroke-width="2.3" stroke-linejoin="round"/>
<line x1="1581.4" y1="1243.6" x2="1615.6" y2="1243.6" stroke="#0B9C72" stroke-width="2.6"/>
<path d="M1598.7 1240.4l3.2 3.2l-3.2 3.2l-3.2 -3.2z" fill="#0B9C72"/>
<text x="1627.4" y="1252.1" font-size="25" text-anchor="start" fill="#111" textLength="125" lengthAdjust="spacingAndGlyphs" stroke="#111" stroke-width="0.45">7-day-olds</text>
</svg>
</body>
</html>
